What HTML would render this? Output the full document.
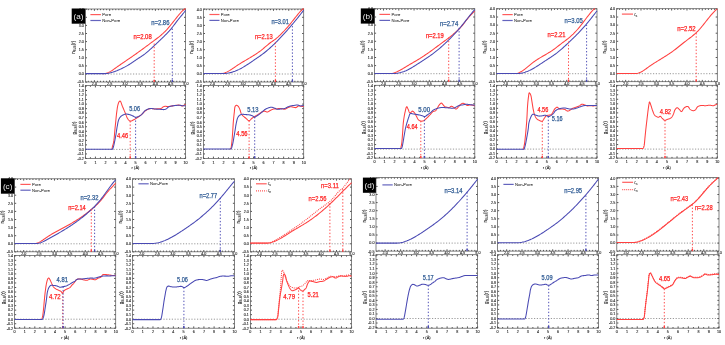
<!DOCTYPE html>
<html><head><meta charset="utf-8"><style>
html,body{margin:0;padding:0;background:#fff;}
svg{display:block;will-change:transform;}
text{font-family:"Liberation Sans", sans-serif;}
.fr{fill:none;stroke:#5a5a5a;stroke-width:0.75;}
.tk{stroke:#2a2a2a;stroke-width:0.8;fill:none;}
.zl{stroke:#555;stroke-width:0.6;stroke-dasharray:1.2 1.6;}
.tl{font-size:3.7px;fill:#2a2a2a;stroke:#2a2a2a;stroke-width:0.12;}
.al{font-size:4.6px;fill:#222;stroke:#222;stroke-width:0.12;}
.sub{font-size:2.8px;}
.xl{font-size:4.0px;fill:#222;stroke:#222;stroke-width:0.1;}
.sub2{font-size:3px;}
.pl{font-size:8.1px;fill:#ececec;}
.cv{fill:none;stroke-width:1.05;stroke-linejoin:round;}
.dot{stroke-dasharray:1 1;}
.dv{stroke-width:0.95;stroke-dasharray:1.4 1.9;}
.an{stroke-width:0.25;}
.lg{stroke-width:1.2;opacity:0.85;}
.lt{font-size:4.2px;fill:#2a2a2a;stroke:#2a2a2a;stroke-width:0.05;}
</style></head><body>
<svg width="725" height="345" viewBox="0 0 725 345">
<path d="M85.4 82.1h1.6M185.6 82.1h-1.6" class="tk"/>
<text x="83.9" y="83.4" class="tl" text-anchor="end">-0.5</text>
<path d="M85.4 74h1.6M185.6 74h-1.6" class="tk"/>
<text x="83.9" y="75.3" class="tl" text-anchor="end">0.0</text>
<path d="M85.4 65.9h1.6M185.6 65.9h-1.6" class="tk"/>
<text x="83.9" y="67.2" class="tl" text-anchor="end">0.5</text>
<path d="M85.4 57.8h1.6M185.6 57.8h-1.6" class="tk"/>
<text x="83.9" y="59.1" class="tl" text-anchor="end">1.0</text>
<path d="M85.4 49.7h1.6M185.6 49.7h-1.6" class="tk"/>
<text x="83.9" y="51" class="tl" text-anchor="end">1.5</text>
<path d="M85.4 41.6h1.6M185.6 41.6h-1.6" class="tk"/>
<text x="83.9" y="42.9" class="tl" text-anchor="end">2.0</text>
<path d="M85.4 33.5h1.6M185.6 33.5h-1.6" class="tk"/>
<text x="83.9" y="34.8" class="tl" text-anchor="end">2.5</text>
<path d="M85.4 25.4h1.6M185.6 25.4h-1.6" class="tk"/>
<text x="83.9" y="26.7" class="tl" text-anchor="end">3.0</text>
<path d="M85.4 17.3h1.6M185.6 17.3h-1.6" class="tk"/>
<text x="83.9" y="18.6" class="tl" text-anchor="end">3.5</text>
<path d="M85.4 9.2h1.6M185.6 9.2h-1.6" class="tk"/>
<text x="83.9" y="10.5" class="tl" text-anchor="end">4.0</text>
<path d="M88.32 82v-1.2M88.32 9v1.2" class="tk"/>
<path d="M91.37 82v-1.2M91.37 9v1.2" class="tk"/>
<path d="M94.42 82v-1.8M94.42 9v1.8" class="tk"/>
<path d="M97.47 82v-1.2M97.47 9v1.2" class="tk"/>
<path d="M100.52 82v-1.2M100.52 9v1.2" class="tk"/>
<path d="M103.57 82v-1.2M103.57 9v1.2" class="tk"/>
<path d="M106.62 82v-1.2M106.62 9v1.2" class="tk"/>
<path d="M109.67 82v-1.8M109.67 9v1.8" class="tk"/>
<path d="M112.72 82v-1.2M112.72 9v1.2" class="tk"/>
<path d="M115.77 82v-1.2M115.77 9v1.2" class="tk"/>
<path d="M118.82 82v-1.2M118.82 9v1.2" class="tk"/>
<path d="M121.87 82v-1.2M121.87 9v1.2" class="tk"/>
<path d="M124.92 82v-1.8M124.92 9v1.8" class="tk"/>
<path d="M127.97 82v-1.2M127.97 9v1.2" class="tk"/>
<path d="M131.02 82v-1.2M131.02 9v1.2" class="tk"/>
<path d="M134.07 82v-1.2M134.07 9v1.2" class="tk"/>
<path d="M137.12 82v-1.2M137.12 9v1.2" class="tk"/>
<path d="M140.17 82v-1.8M140.17 9v1.8" class="tk"/>
<path d="M143.22 82v-1.2M143.22 9v1.2" class="tk"/>
<path d="M146.27 82v-1.2M146.27 9v1.2" class="tk"/>
<path d="M149.32 82v-1.2M149.32 9v1.2" class="tk"/>
<path d="M152.37 82v-1.2M152.37 9v1.2" class="tk"/>
<path d="M155.42 82v-1.8M155.42 9v1.8" class="tk"/>
<path d="M158.47 82v-1.2M158.47 9v1.2" class="tk"/>
<path d="M161.52 82v-1.2M161.52 9v1.2" class="tk"/>
<path d="M164.57 82v-1.2M164.57 9v1.2" class="tk"/>
<path d="M167.62 82v-1.2M167.62 9v1.2" class="tk"/>
<path d="M170.67 82v-1.8M170.67 9v1.8" class="tk"/>
<path d="M173.72 82v-1.2M173.72 9v1.2" class="tk"/>
<path d="M176.77 82v-1.2M176.77 9v1.2" class="tk"/>
<path d="M179.82 82v-1.2M179.82 9v1.2" class="tk"/>
<path d="M182.87 82v-1.2M182.87 9v1.2" class="tk"/>
<text x="94.42" y="85" class="tl" text-anchor="middle">2.0</text>
<text x="109.67" y="85" class="tl" text-anchor="middle">2.5</text>
<text x="124.92" y="85" class="tl" text-anchor="middle">3.0</text>
<text x="140.17" y="85" class="tl" text-anchor="middle">3.5</text>
<text x="155.42" y="85" class="tl" text-anchor="middle">4.0</text>
<text x="170.67" y="85" class="tl" text-anchor="middle">4.5</text>
<text x="185.92" y="85" class="tl" text-anchor="middle">5.0</text>
<line x1="85.4" y1="74" x2="185.6" y2="74" class="zl"/>
<rect x="85.4" y="9" width="100.2" height="73" class="fr"/>
<text transform="translate(75.2,47.2) rotate(-90)" class="al" text-anchor="middle">n<tspan class="sub" dy="0.9">Si-Si</tspan><tspan dy="-0.9">(r)</tspan></text>
<path d="M85.4 158.46h1.6M185.6 158.46h-1.6" class="tk"/>
<text x="83.9" y="159.76" class="tl" text-anchor="end">-0.2</text>
<path d="M85.4 153.93h1.6M185.6 153.93h-1.6" class="tk"/>
<text x="83.9" y="155.23" class="tl" text-anchor="end">-0.1</text>
<path d="M85.4 149.4h1.6M185.6 149.4h-1.6" class="tk"/>
<text x="83.9" y="150.7" class="tl" text-anchor="end">0.0</text>
<path d="M85.4 144.87h1.6M185.6 144.87h-1.6" class="tk"/>
<text x="83.9" y="146.17" class="tl" text-anchor="end">0.1</text>
<path d="M85.4 140.34h1.6M185.6 140.34h-1.6" class="tk"/>
<text x="83.9" y="141.64" class="tl" text-anchor="end">0.2</text>
<path d="M85.4 135.81h1.6M185.6 135.81h-1.6" class="tk"/>
<text x="83.9" y="137.11" class="tl" text-anchor="end">0.3</text>
<path d="M85.4 131.28h1.6M185.6 131.28h-1.6" class="tk"/>
<text x="83.9" y="132.58" class="tl" text-anchor="end">0.4</text>
<path d="M85.4 126.75h1.6M185.6 126.75h-1.6" class="tk"/>
<text x="83.9" y="128.05" class="tl" text-anchor="end">0.5</text>
<path d="M85.4 122.22h1.6M185.6 122.22h-1.6" class="tk"/>
<text x="83.9" y="123.52" class="tl" text-anchor="end">0.6</text>
<path d="M85.4 117.69h1.6M185.6 117.69h-1.6" class="tk"/>
<text x="83.9" y="118.99" class="tl" text-anchor="end">0.7</text>
<path d="M85.4 113.16h1.6M185.6 113.16h-1.6" class="tk"/>
<text x="83.9" y="114.46" class="tl" text-anchor="end">0.8</text>
<path d="M85.4 108.63h1.6M185.6 108.63h-1.6" class="tk"/>
<text x="83.9" y="109.93" class="tl" text-anchor="end">0.9</text>
<path d="M85.4 104.1h1.6M185.6 104.1h-1.6" class="tk"/>
<text x="83.9" y="105.4" class="tl" text-anchor="end">1.0</text>
<path d="M85.4 99.57h1.6M185.6 99.57h-1.6" class="tk"/>
<text x="83.9" y="100.87" class="tl" text-anchor="end">1.1</text>
<path d="M85.4 95.04h1.6M185.6 95.04h-1.6" class="tk"/>
<text x="83.9" y="96.34" class="tl" text-anchor="end">1.2</text>
<path d="M85.4 90.51h1.6M185.6 90.51h-1.6" class="tk"/>
<text x="83.9" y="91.81" class="tl" text-anchor="end">1.3</text>
<path d="M85.4 85.98h1.6M185.6 85.98h-1.6" class="tk"/>
<text x="83.9" y="87.28" class="tl" text-anchor="end">1.4</text>
<path d="M85.4 158.4v-1.8M85.4 85.6v1.8" class="tk"/>
<text x="85.4" y="163.5" class="tl" text-anchor="middle">0</text>
<path d="M90.41 158.4v-1.2M90.41 85.6v1.2" class="tk"/>
<path d="M95.42 158.4v-1.8M95.42 85.6v1.8" class="tk"/>
<text x="95.42" y="163.5" class="tl" text-anchor="middle">1</text>
<path d="M100.43 158.4v-1.2M100.43 85.6v1.2" class="tk"/>
<path d="M105.44 158.4v-1.8M105.44 85.6v1.8" class="tk"/>
<text x="105.44" y="163.5" class="tl" text-anchor="middle">2</text>
<path d="M110.45 158.4v-1.2M110.45 85.6v1.2" class="tk"/>
<path d="M115.46 158.4v-1.8M115.46 85.6v1.8" class="tk"/>
<text x="115.46" y="163.5" class="tl" text-anchor="middle">3</text>
<path d="M120.47 158.4v-1.2M120.47 85.6v1.2" class="tk"/>
<path d="M125.48 158.4v-1.8M125.48 85.6v1.8" class="tk"/>
<text x="125.48" y="163.5" class="tl" text-anchor="middle">4</text>
<path d="M130.49 158.4v-1.2M130.49 85.6v1.2" class="tk"/>
<path d="M135.5 158.4v-1.8M135.5 85.6v1.8" class="tk"/>
<text x="135.5" y="163.5" class="tl" text-anchor="middle">5</text>
<path d="M140.51 158.4v-1.2M140.51 85.6v1.2" class="tk"/>
<path d="M145.52 158.4v-1.8M145.52 85.6v1.8" class="tk"/>
<text x="145.52" y="163.5" class="tl" text-anchor="middle">6</text>
<path d="M150.53 158.4v-1.2M150.53 85.6v1.2" class="tk"/>
<path d="M155.54 158.4v-1.8M155.54 85.6v1.8" class="tk"/>
<text x="155.54" y="163.5" class="tl" text-anchor="middle">7</text>
<path d="M160.55 158.4v-1.2M160.55 85.6v1.2" class="tk"/>
<path d="M165.56 158.4v-1.8M165.56 85.6v1.8" class="tk"/>
<text x="165.56" y="163.5" class="tl" text-anchor="middle">8</text>
<path d="M170.57 158.4v-1.2M170.57 85.6v1.2" class="tk"/>
<path d="M175.58 158.4v-1.8M175.58 85.6v1.8" class="tk"/>
<text x="175.58" y="163.5" class="tl" text-anchor="middle">9</text>
<path d="M180.59 158.4v-1.2M180.59 85.6v1.2" class="tk"/>
<path d="M185.6 158.4v-1.8M185.6 85.6v1.8" class="tk"/>
<text x="185.6" y="163.5" class="tl" text-anchor="middle">10</text>
<line x1="85.4" y1="149.4" x2="185.6" y2="149.4" class="zl"/>
<rect x="85.4" y="85.6" width="100.2" height="72.8" class="fr"/>
<text transform="translate(75.8,127.9) rotate(-90)" class="al" text-anchor="middle">g<tspan class="sub" dy="0.9">Si-Si</tspan><tspan dy="-0.9">(r)</tspan></text>
<text x="135.5" y="169" class="xl" text-anchor="middle">r (Å)</text>
<path d="M203.4 82.1h1.6M303.7 82.1h-1.6" class="tk"/>
<text x="201.9" y="83.4" class="tl" text-anchor="end">-0.5</text>
<path d="M203.4 74h1.6M303.7 74h-1.6" class="tk"/>
<text x="201.9" y="75.3" class="tl" text-anchor="end">0.0</text>
<path d="M203.4 65.9h1.6M303.7 65.9h-1.6" class="tk"/>
<text x="201.9" y="67.2" class="tl" text-anchor="end">0.5</text>
<path d="M203.4 57.8h1.6M303.7 57.8h-1.6" class="tk"/>
<text x="201.9" y="59.1" class="tl" text-anchor="end">1.0</text>
<path d="M203.4 49.7h1.6M303.7 49.7h-1.6" class="tk"/>
<text x="201.9" y="51" class="tl" text-anchor="end">1.5</text>
<path d="M203.4 41.6h1.6M303.7 41.6h-1.6" class="tk"/>
<text x="201.9" y="42.9" class="tl" text-anchor="end">2.0</text>
<path d="M203.4 33.5h1.6M303.7 33.5h-1.6" class="tk"/>
<text x="201.9" y="34.8" class="tl" text-anchor="end">2.5</text>
<path d="M203.4 25.4h1.6M303.7 25.4h-1.6" class="tk"/>
<text x="201.9" y="26.7" class="tl" text-anchor="end">3.0</text>
<path d="M203.4 17.3h1.6M303.7 17.3h-1.6" class="tk"/>
<text x="201.9" y="18.6" class="tl" text-anchor="end">3.5</text>
<path d="M203.4 9.2h1.6M303.7 9.2h-1.6" class="tk"/>
<text x="201.9" y="10.5" class="tl" text-anchor="end">4.0</text>
<path d="M206.32 82v-1.2M206.32 9v1.2" class="tk"/>
<path d="M209.37 82v-1.2M209.37 9v1.2" class="tk"/>
<path d="M212.43 82v-1.8M212.43 9v1.8" class="tk"/>
<path d="M215.48 82v-1.2M215.48 9v1.2" class="tk"/>
<path d="M218.53 82v-1.2M218.53 9v1.2" class="tk"/>
<path d="M221.59 82v-1.2M221.59 9v1.2" class="tk"/>
<path d="M224.64 82v-1.2M224.64 9v1.2" class="tk"/>
<path d="M227.69 82v-1.8M227.69 9v1.8" class="tk"/>
<path d="M230.75 82v-1.2M230.75 9v1.2" class="tk"/>
<path d="M233.8 82v-1.2M233.8 9v1.2" class="tk"/>
<path d="M236.85 82v-1.2M236.85 9v1.2" class="tk"/>
<path d="M239.91 82v-1.2M239.91 9v1.2" class="tk"/>
<path d="M242.96 82v-1.8M242.96 9v1.8" class="tk"/>
<path d="M246.01 82v-1.2M246.01 9v1.2" class="tk"/>
<path d="M249.06 82v-1.2M249.06 9v1.2" class="tk"/>
<path d="M252.12 82v-1.2M252.12 9v1.2" class="tk"/>
<path d="M255.17 82v-1.2M255.17 9v1.2" class="tk"/>
<path d="M258.22 82v-1.8M258.22 9v1.8" class="tk"/>
<path d="M261.28 82v-1.2M261.28 9v1.2" class="tk"/>
<path d="M264.33 82v-1.2M264.33 9v1.2" class="tk"/>
<path d="M267.38 82v-1.2M267.38 9v1.2" class="tk"/>
<path d="M270.44 82v-1.2M270.44 9v1.2" class="tk"/>
<path d="M273.49 82v-1.8M273.49 9v1.8" class="tk"/>
<path d="M276.54 82v-1.2M276.54 9v1.2" class="tk"/>
<path d="M279.6 82v-1.2M279.6 9v1.2" class="tk"/>
<path d="M282.65 82v-1.2M282.65 9v1.2" class="tk"/>
<path d="M285.7 82v-1.2M285.7 9v1.2" class="tk"/>
<path d="M288.76 82v-1.8M288.76 9v1.8" class="tk"/>
<path d="M291.81 82v-1.2M291.81 9v1.2" class="tk"/>
<path d="M294.86 82v-1.2M294.86 9v1.2" class="tk"/>
<path d="M297.91 82v-1.2M297.91 9v1.2" class="tk"/>
<path d="M300.97 82v-1.2M300.97 9v1.2" class="tk"/>
<text x="212.43" y="85" class="tl" text-anchor="middle">2.0</text>
<text x="227.69" y="85" class="tl" text-anchor="middle">2.5</text>
<text x="242.96" y="85" class="tl" text-anchor="middle">3.0</text>
<text x="258.22" y="85" class="tl" text-anchor="middle">3.5</text>
<text x="273.49" y="85" class="tl" text-anchor="middle">4.0</text>
<text x="288.76" y="85" class="tl" text-anchor="middle">4.5</text>
<text x="304.02" y="85" class="tl" text-anchor="middle">5.0</text>
<line x1="203.4" y1="74" x2="303.7" y2="74" class="zl"/>
<rect x="203.4" y="9" width="100.3" height="73" class="fr"/>
<text transform="translate(193.2,47.2) rotate(-90)" class="al" text-anchor="middle">n<tspan class="sub" dy="0.9">Si-Si</tspan><tspan dy="-0.9">(r)</tspan></text>
<path d="M203.4 158.46h1.6M303.7 158.46h-1.6" class="tk"/>
<text x="201.9" y="159.76" class="tl" text-anchor="end">-0.2</text>
<path d="M203.4 153.93h1.6M303.7 153.93h-1.6" class="tk"/>
<text x="201.9" y="155.23" class="tl" text-anchor="end">-0.1</text>
<path d="M203.4 149.4h1.6M303.7 149.4h-1.6" class="tk"/>
<text x="201.9" y="150.7" class="tl" text-anchor="end">0.0</text>
<path d="M203.4 144.87h1.6M303.7 144.87h-1.6" class="tk"/>
<text x="201.9" y="146.17" class="tl" text-anchor="end">0.1</text>
<path d="M203.4 140.34h1.6M303.7 140.34h-1.6" class="tk"/>
<text x="201.9" y="141.64" class="tl" text-anchor="end">0.2</text>
<path d="M203.4 135.81h1.6M303.7 135.81h-1.6" class="tk"/>
<text x="201.9" y="137.11" class="tl" text-anchor="end">0.3</text>
<path d="M203.4 131.28h1.6M303.7 131.28h-1.6" class="tk"/>
<text x="201.9" y="132.58" class="tl" text-anchor="end">0.4</text>
<path d="M203.4 126.75h1.6M303.7 126.75h-1.6" class="tk"/>
<text x="201.9" y="128.05" class="tl" text-anchor="end">0.5</text>
<path d="M203.4 122.22h1.6M303.7 122.22h-1.6" class="tk"/>
<text x="201.9" y="123.52" class="tl" text-anchor="end">0.6</text>
<path d="M203.4 117.69h1.6M303.7 117.69h-1.6" class="tk"/>
<text x="201.9" y="118.99" class="tl" text-anchor="end">0.7</text>
<path d="M203.4 113.16h1.6M303.7 113.16h-1.6" class="tk"/>
<text x="201.9" y="114.46" class="tl" text-anchor="end">0.8</text>
<path d="M203.4 108.63h1.6M303.7 108.63h-1.6" class="tk"/>
<text x="201.9" y="109.93" class="tl" text-anchor="end">0.9</text>
<path d="M203.4 104.1h1.6M303.7 104.1h-1.6" class="tk"/>
<text x="201.9" y="105.4" class="tl" text-anchor="end">1.0</text>
<path d="M203.4 99.57h1.6M303.7 99.57h-1.6" class="tk"/>
<text x="201.9" y="100.87" class="tl" text-anchor="end">1.1</text>
<path d="M203.4 95.04h1.6M303.7 95.04h-1.6" class="tk"/>
<text x="201.9" y="96.34" class="tl" text-anchor="end">1.2</text>
<path d="M203.4 90.51h1.6M303.7 90.51h-1.6" class="tk"/>
<text x="201.9" y="91.81" class="tl" text-anchor="end">1.3</text>
<path d="M203.4 85.98h1.6M303.7 85.98h-1.6" class="tk"/>
<text x="201.9" y="87.28" class="tl" text-anchor="end">1.4</text>
<path d="M203.4 158.4v-1.8M203.4 85.6v1.8" class="tk"/>
<text x="203.4" y="163.5" class="tl" text-anchor="middle">0</text>
<path d="M208.41 158.4v-1.2M208.41 85.6v1.2" class="tk"/>
<path d="M213.43 158.4v-1.8M213.43 85.6v1.8" class="tk"/>
<text x="213.43" y="163.5" class="tl" text-anchor="middle">1</text>
<path d="M218.44 158.4v-1.2M218.44 85.6v1.2" class="tk"/>
<path d="M223.46 158.4v-1.8M223.46 85.6v1.8" class="tk"/>
<text x="223.46" y="163.5" class="tl" text-anchor="middle">2</text>
<path d="M228.47 158.4v-1.2M228.47 85.6v1.2" class="tk"/>
<path d="M233.49 158.4v-1.8M233.49 85.6v1.8" class="tk"/>
<text x="233.49" y="163.5" class="tl" text-anchor="middle">3</text>
<path d="M238.5 158.4v-1.2M238.5 85.6v1.2" class="tk"/>
<path d="M243.52 158.4v-1.8M243.52 85.6v1.8" class="tk"/>
<text x="243.52" y="163.5" class="tl" text-anchor="middle">4</text>
<path d="M248.53 158.4v-1.2M248.53 85.6v1.2" class="tk"/>
<path d="M253.55 158.4v-1.8M253.55 85.6v1.8" class="tk"/>
<text x="253.55" y="163.5" class="tl" text-anchor="middle">5</text>
<path d="M258.56 158.4v-1.2M258.56 85.6v1.2" class="tk"/>
<path d="M263.58 158.4v-1.8M263.58 85.6v1.8" class="tk"/>
<text x="263.58" y="163.5" class="tl" text-anchor="middle">6</text>
<path d="M268.6 158.4v-1.2M268.6 85.6v1.2" class="tk"/>
<path d="M273.61 158.4v-1.8M273.61 85.6v1.8" class="tk"/>
<text x="273.61" y="163.5" class="tl" text-anchor="middle">7</text>
<path d="M278.62 158.4v-1.2M278.62 85.6v1.2" class="tk"/>
<path d="M283.64 158.4v-1.8M283.64 85.6v1.8" class="tk"/>
<text x="283.64" y="163.5" class="tl" text-anchor="middle">8</text>
<path d="M288.65 158.4v-1.2M288.65 85.6v1.2" class="tk"/>
<path d="M293.67 158.4v-1.8M293.67 85.6v1.8" class="tk"/>
<text x="293.67" y="163.5" class="tl" text-anchor="middle">9</text>
<path d="M298.69 158.4v-1.2M298.69 85.6v1.2" class="tk"/>
<path d="M303.7 158.4v-1.8M303.7 85.6v1.8" class="tk"/>
<text x="303.7" y="163.5" class="tl" text-anchor="middle">10</text>
<line x1="203.4" y1="149.4" x2="303.7" y2="149.4" class="zl"/>
<rect x="203.4" y="85.6" width="100.3" height="72.8" class="fr"/>
<text transform="translate(193.8,127.9) rotate(-90)" class="al" text-anchor="middle">g<tspan class="sub" dy="0.9">Si-Si</tspan><tspan dy="-0.9">(r)</tspan></text>
<text x="253.55" y="169" class="xl" text-anchor="middle">r (Å)</text>
<path d="M374.5 81.8h1.6M474.8 81.8h-1.6" class="tk"/>
<text x="373" y="83.1" class="tl" text-anchor="end">-0.5</text>
<path d="M374.5 73.7h1.6M474.8 73.7h-1.6" class="tk"/>
<text x="373" y="75" class="tl" text-anchor="end">0.0</text>
<path d="M374.5 65.6h1.6M474.8 65.6h-1.6" class="tk"/>
<text x="373" y="66.9" class="tl" text-anchor="end">0.5</text>
<path d="M374.5 57.5h1.6M474.8 57.5h-1.6" class="tk"/>
<text x="373" y="58.8" class="tl" text-anchor="end">1.0</text>
<path d="M374.5 49.4h1.6M474.8 49.4h-1.6" class="tk"/>
<text x="373" y="50.7" class="tl" text-anchor="end">1.5</text>
<path d="M374.5 41.3h1.6M474.8 41.3h-1.6" class="tk"/>
<text x="373" y="42.6" class="tl" text-anchor="end">2.0</text>
<path d="M374.5 33.2h1.6M474.8 33.2h-1.6" class="tk"/>
<text x="373" y="34.5" class="tl" text-anchor="end">2.5</text>
<path d="M374.5 25.1h1.6M474.8 25.1h-1.6" class="tk"/>
<text x="373" y="26.4" class="tl" text-anchor="end">3.0</text>
<path d="M374.5 17h1.6M474.8 17h-1.6" class="tk"/>
<text x="373" y="18.3" class="tl" text-anchor="end">3.5</text>
<path d="M374.5 8.9h1.6M474.8 8.9h-1.6" class="tk"/>
<text x="373" y="10.2" class="tl" text-anchor="end">4.0</text>
<path d="M377.42 81.7v-1.2M377.42 8.7v1.2" class="tk"/>
<path d="M380.47 81.7v-1.2M380.47 8.7v1.2" class="tk"/>
<path d="M383.53 81.7v-1.8M383.53 8.7v1.8" class="tk"/>
<path d="M386.58 81.7v-1.2M386.58 8.7v1.2" class="tk"/>
<path d="M389.63 81.7v-1.2M389.63 8.7v1.2" class="tk"/>
<path d="M392.69 81.7v-1.2M392.69 8.7v1.2" class="tk"/>
<path d="M395.74 81.7v-1.2M395.74 8.7v1.2" class="tk"/>
<path d="M398.79 81.7v-1.8M398.79 8.7v1.8" class="tk"/>
<path d="M401.85 81.7v-1.2M401.85 8.7v1.2" class="tk"/>
<path d="M404.9 81.7v-1.2M404.9 8.7v1.2" class="tk"/>
<path d="M407.95 81.7v-1.2M407.95 8.7v1.2" class="tk"/>
<path d="M411.01 81.7v-1.2M411.01 8.7v1.2" class="tk"/>
<path d="M414.06 81.7v-1.8M414.06 8.7v1.8" class="tk"/>
<path d="M417.11 81.7v-1.2M417.11 8.7v1.2" class="tk"/>
<path d="M420.16 81.7v-1.2M420.16 8.7v1.2" class="tk"/>
<path d="M423.22 81.7v-1.2M423.22 8.7v1.2" class="tk"/>
<path d="M426.27 81.7v-1.2M426.27 8.7v1.2" class="tk"/>
<path d="M429.32 81.7v-1.8M429.32 8.7v1.8" class="tk"/>
<path d="M432.38 81.7v-1.2M432.38 8.7v1.2" class="tk"/>
<path d="M435.43 81.7v-1.2M435.43 8.7v1.2" class="tk"/>
<path d="M438.48 81.7v-1.2M438.48 8.7v1.2" class="tk"/>
<path d="M441.54 81.7v-1.2M441.54 8.7v1.2" class="tk"/>
<path d="M444.59 81.7v-1.8M444.59 8.7v1.8" class="tk"/>
<path d="M447.64 81.7v-1.2M447.64 8.7v1.2" class="tk"/>
<path d="M450.7 81.7v-1.2M450.7 8.7v1.2" class="tk"/>
<path d="M453.75 81.7v-1.2M453.75 8.7v1.2" class="tk"/>
<path d="M456.8 81.7v-1.2M456.8 8.7v1.2" class="tk"/>
<path d="M459.86 81.7v-1.8M459.86 8.7v1.8" class="tk"/>
<path d="M462.91 81.7v-1.2M462.91 8.7v1.2" class="tk"/>
<path d="M465.96 81.7v-1.2M465.96 8.7v1.2" class="tk"/>
<path d="M469.01 81.7v-1.2M469.01 8.7v1.2" class="tk"/>
<path d="M472.07 81.7v-1.2M472.07 8.7v1.2" class="tk"/>
<text x="383.53" y="84.7" class="tl" text-anchor="middle">2.0</text>
<text x="398.79" y="84.7" class="tl" text-anchor="middle">2.5</text>
<text x="414.06" y="84.7" class="tl" text-anchor="middle">3.0</text>
<text x="429.32" y="84.7" class="tl" text-anchor="middle">3.5</text>
<text x="444.59" y="84.7" class="tl" text-anchor="middle">4.0</text>
<text x="459.86" y="84.7" class="tl" text-anchor="middle">4.5</text>
<text x="475.12" y="84.7" class="tl" text-anchor="middle">5.0</text>
<line x1="374.5" y1="73.7" x2="474.8" y2="73.7" class="zl"/>
<rect x="374.5" y="8.7" width="100.3" height="73" class="fr"/>
<text transform="translate(364.3,46.9) rotate(-90)" class="al" text-anchor="middle">n<tspan class="sub" dy="0.9">Si-Si</tspan><tspan dy="-0.9">(r)</tspan></text>
<path d="M374.5 158.16h1.6M474.8 158.16h-1.6" class="tk"/>
<text x="373" y="159.46" class="tl" text-anchor="end">-0.2</text>
<path d="M374.5 153.63h1.6M474.8 153.63h-1.6" class="tk"/>
<text x="373" y="154.93" class="tl" text-anchor="end">-0.1</text>
<path d="M374.5 149.1h1.6M474.8 149.1h-1.6" class="tk"/>
<text x="373" y="150.4" class="tl" text-anchor="end">0.0</text>
<path d="M374.5 144.57h1.6M474.8 144.57h-1.6" class="tk"/>
<text x="373" y="145.87" class="tl" text-anchor="end">0.1</text>
<path d="M374.5 140.04h1.6M474.8 140.04h-1.6" class="tk"/>
<text x="373" y="141.34" class="tl" text-anchor="end">0.2</text>
<path d="M374.5 135.51h1.6M474.8 135.51h-1.6" class="tk"/>
<text x="373" y="136.81" class="tl" text-anchor="end">0.3</text>
<path d="M374.5 130.98h1.6M474.8 130.98h-1.6" class="tk"/>
<text x="373" y="132.28" class="tl" text-anchor="end">0.4</text>
<path d="M374.5 126.45h1.6M474.8 126.45h-1.6" class="tk"/>
<text x="373" y="127.75" class="tl" text-anchor="end">0.5</text>
<path d="M374.5 121.92h1.6M474.8 121.92h-1.6" class="tk"/>
<text x="373" y="123.22" class="tl" text-anchor="end">0.6</text>
<path d="M374.5 117.39h1.6M474.8 117.39h-1.6" class="tk"/>
<text x="373" y="118.69" class="tl" text-anchor="end">0.7</text>
<path d="M374.5 112.86h1.6M474.8 112.86h-1.6" class="tk"/>
<text x="373" y="114.16" class="tl" text-anchor="end">0.8</text>
<path d="M374.5 108.33h1.6M474.8 108.33h-1.6" class="tk"/>
<text x="373" y="109.63" class="tl" text-anchor="end">0.9</text>
<path d="M374.5 103.8h1.6M474.8 103.8h-1.6" class="tk"/>
<text x="373" y="105.1" class="tl" text-anchor="end">1.0</text>
<path d="M374.5 99.27h1.6M474.8 99.27h-1.6" class="tk"/>
<text x="373" y="100.57" class="tl" text-anchor="end">1.1</text>
<path d="M374.5 94.74h1.6M474.8 94.74h-1.6" class="tk"/>
<text x="373" y="96.04" class="tl" text-anchor="end">1.2</text>
<path d="M374.5 90.21h1.6M474.8 90.21h-1.6" class="tk"/>
<text x="373" y="91.51" class="tl" text-anchor="end">1.3</text>
<path d="M374.5 85.68h1.6M474.8 85.68h-1.6" class="tk"/>
<text x="373" y="86.98" class="tl" text-anchor="end">1.4</text>
<path d="M374.5 158.1v-1.8M374.5 85.3v1.8" class="tk"/>
<text x="374.5" y="163.2" class="tl" text-anchor="middle">0</text>
<path d="M379.51 158.1v-1.2M379.51 85.3v1.2" class="tk"/>
<path d="M384.53 158.1v-1.8M384.53 85.3v1.8" class="tk"/>
<text x="384.53" y="163.2" class="tl" text-anchor="middle">1</text>
<path d="M389.55 158.1v-1.2M389.55 85.3v1.2" class="tk"/>
<path d="M394.56 158.1v-1.8M394.56 85.3v1.8" class="tk"/>
<text x="394.56" y="163.2" class="tl" text-anchor="middle">2</text>
<path d="M399.57 158.1v-1.2M399.57 85.3v1.2" class="tk"/>
<path d="M404.59 158.1v-1.8M404.59 85.3v1.8" class="tk"/>
<text x="404.59" y="163.2" class="tl" text-anchor="middle">3</text>
<path d="M409.61 158.1v-1.2M409.61 85.3v1.2" class="tk"/>
<path d="M414.62 158.1v-1.8M414.62 85.3v1.8" class="tk"/>
<text x="414.62" y="163.2" class="tl" text-anchor="middle">4</text>
<path d="M419.63 158.1v-1.2M419.63 85.3v1.2" class="tk"/>
<path d="M424.65 158.1v-1.8M424.65 85.3v1.8" class="tk"/>
<text x="424.65" y="163.2" class="tl" text-anchor="middle">5</text>
<path d="M429.67 158.1v-1.2M429.67 85.3v1.2" class="tk"/>
<path d="M434.68 158.1v-1.8M434.68 85.3v1.8" class="tk"/>
<text x="434.68" y="163.2" class="tl" text-anchor="middle">6</text>
<path d="M439.69 158.1v-1.2M439.69 85.3v1.2" class="tk"/>
<path d="M444.71 158.1v-1.8M444.71 85.3v1.8" class="tk"/>
<text x="444.71" y="163.2" class="tl" text-anchor="middle">7</text>
<path d="M449.73 158.1v-1.2M449.73 85.3v1.2" class="tk"/>
<path d="M454.74 158.1v-1.8M454.74 85.3v1.8" class="tk"/>
<text x="454.74" y="163.2" class="tl" text-anchor="middle">8</text>
<path d="M459.75 158.1v-1.2M459.75 85.3v1.2" class="tk"/>
<path d="M464.77 158.1v-1.8M464.77 85.3v1.8" class="tk"/>
<text x="464.77" y="163.2" class="tl" text-anchor="middle">9</text>
<path d="M469.79 158.1v-1.2M469.79 85.3v1.2" class="tk"/>
<path d="M474.8 158.1v-1.8M474.8 85.3v1.8" class="tk"/>
<text x="474.8" y="163.2" class="tl" text-anchor="middle">10</text>
<line x1="374.5" y1="149.1" x2="474.8" y2="149.1" class="zl"/>
<rect x="374.5" y="85.3" width="100.3" height="72.8" class="fr"/>
<text transform="translate(364.9,127.6) rotate(-90)" class="al" text-anchor="middle">g<tspan class="sub" dy="0.9">Si-Si</tspan><tspan dy="-0.9">(r)</tspan></text>
<text x="424.65" y="168.7" class="xl" text-anchor="middle">r (Å)</text>
<path d="M496.5 81.8h1.6M597 81.8h-1.6" class="tk"/>
<text x="495" y="83.1" class="tl" text-anchor="end">-0.5</text>
<path d="M496.5 73.7h1.6M597 73.7h-1.6" class="tk"/>
<text x="495" y="75" class="tl" text-anchor="end">0.0</text>
<path d="M496.5 65.6h1.6M597 65.6h-1.6" class="tk"/>
<text x="495" y="66.9" class="tl" text-anchor="end">0.5</text>
<path d="M496.5 57.5h1.6M597 57.5h-1.6" class="tk"/>
<text x="495" y="58.8" class="tl" text-anchor="end">1.0</text>
<path d="M496.5 49.4h1.6M597 49.4h-1.6" class="tk"/>
<text x="495" y="50.7" class="tl" text-anchor="end">1.5</text>
<path d="M496.5 41.3h1.6M597 41.3h-1.6" class="tk"/>
<text x="495" y="42.6" class="tl" text-anchor="end">2.0</text>
<path d="M496.5 33.2h1.6M597 33.2h-1.6" class="tk"/>
<text x="495" y="34.5" class="tl" text-anchor="end">2.5</text>
<path d="M496.5 25.1h1.6M597 25.1h-1.6" class="tk"/>
<text x="495" y="26.4" class="tl" text-anchor="end">3.0</text>
<path d="M496.5 17h1.6M597 17h-1.6" class="tk"/>
<text x="495" y="18.3" class="tl" text-anchor="end">3.5</text>
<path d="M496.5 8.9h1.6M597 8.9h-1.6" class="tk"/>
<text x="495" y="10.2" class="tl" text-anchor="end">4.0</text>
<path d="M499.43 81.7v-1.2M499.43 8.7v1.2" class="tk"/>
<path d="M502.49 81.7v-1.2M502.49 8.7v1.2" class="tk"/>
<path d="M505.55 81.7v-1.8M505.55 8.7v1.8" class="tk"/>
<path d="M508.6 81.7v-1.2M508.6 8.7v1.2" class="tk"/>
<path d="M511.66 81.7v-1.2M511.66 8.7v1.2" class="tk"/>
<path d="M514.72 81.7v-1.2M514.72 8.7v1.2" class="tk"/>
<path d="M517.78 81.7v-1.2M517.78 8.7v1.2" class="tk"/>
<path d="M520.84 81.7v-1.8M520.84 8.7v1.8" class="tk"/>
<path d="M523.9 81.7v-1.2M523.9 8.7v1.2" class="tk"/>
<path d="M526.96 81.7v-1.2M526.96 8.7v1.2" class="tk"/>
<path d="M530.02 81.7v-1.2M530.02 8.7v1.2" class="tk"/>
<path d="M533.08 81.7v-1.2M533.08 8.7v1.2" class="tk"/>
<path d="M536.14 81.7v-1.8M536.14 8.7v1.8" class="tk"/>
<path d="M539.2 81.7v-1.2M539.2 8.7v1.2" class="tk"/>
<path d="M542.26 81.7v-1.2M542.26 8.7v1.2" class="tk"/>
<path d="M545.31 81.7v-1.2M545.31 8.7v1.2" class="tk"/>
<path d="M548.37 81.7v-1.2M548.37 8.7v1.2" class="tk"/>
<path d="M551.43 81.7v-1.8M551.43 8.7v1.8" class="tk"/>
<path d="M554.49 81.7v-1.2M554.49 8.7v1.2" class="tk"/>
<path d="M557.55 81.7v-1.2M557.55 8.7v1.2" class="tk"/>
<path d="M560.61 81.7v-1.2M560.61 8.7v1.2" class="tk"/>
<path d="M563.67 81.7v-1.2M563.67 8.7v1.2" class="tk"/>
<path d="M566.73 81.7v-1.8M566.73 8.7v1.8" class="tk"/>
<path d="M569.79 81.7v-1.2M569.79 8.7v1.2" class="tk"/>
<path d="M572.85 81.7v-1.2M572.85 8.7v1.2" class="tk"/>
<path d="M575.91 81.7v-1.2M575.91 8.7v1.2" class="tk"/>
<path d="M578.97 81.7v-1.2M578.97 8.7v1.2" class="tk"/>
<path d="M582.03 81.7v-1.8M582.03 8.7v1.8" class="tk"/>
<path d="M585.08 81.7v-1.2M585.08 8.7v1.2" class="tk"/>
<path d="M588.14 81.7v-1.2M588.14 8.7v1.2" class="tk"/>
<path d="M591.2 81.7v-1.2M591.2 8.7v1.2" class="tk"/>
<path d="M594.26 81.7v-1.2M594.26 8.7v1.2" class="tk"/>
<text x="505.55" y="84.7" class="tl" text-anchor="middle">2.0</text>
<text x="520.84" y="84.7" class="tl" text-anchor="middle">2.5</text>
<text x="536.14" y="84.7" class="tl" text-anchor="middle">3.0</text>
<text x="551.43" y="84.7" class="tl" text-anchor="middle">3.5</text>
<text x="566.73" y="84.7" class="tl" text-anchor="middle">4.0</text>
<text x="582.03" y="84.7" class="tl" text-anchor="middle">4.5</text>
<text x="597.32" y="84.7" class="tl" text-anchor="middle">5.0</text>
<line x1="496.5" y1="73.7" x2="597" y2="73.7" class="zl"/>
<rect x="496.5" y="8.7" width="100.5" height="73" class="fr"/>
<text transform="translate(486.3,46.9) rotate(-90)" class="al" text-anchor="middle">n<tspan class="sub" dy="0.9">Si-Si</tspan><tspan dy="-0.9">(r)</tspan></text>
<path d="M496.5 158.16h1.6M597 158.16h-1.6" class="tk"/>
<text x="495" y="159.46" class="tl" text-anchor="end">-0.2</text>
<path d="M496.5 153.63h1.6M597 153.63h-1.6" class="tk"/>
<text x="495" y="154.93" class="tl" text-anchor="end">-0.1</text>
<path d="M496.5 149.1h1.6M597 149.1h-1.6" class="tk"/>
<text x="495" y="150.4" class="tl" text-anchor="end">0.0</text>
<path d="M496.5 144.57h1.6M597 144.57h-1.6" class="tk"/>
<text x="495" y="145.87" class="tl" text-anchor="end">0.1</text>
<path d="M496.5 140.04h1.6M597 140.04h-1.6" class="tk"/>
<text x="495" y="141.34" class="tl" text-anchor="end">0.2</text>
<path d="M496.5 135.51h1.6M597 135.51h-1.6" class="tk"/>
<text x="495" y="136.81" class="tl" text-anchor="end">0.3</text>
<path d="M496.5 130.98h1.6M597 130.98h-1.6" class="tk"/>
<text x="495" y="132.28" class="tl" text-anchor="end">0.4</text>
<path d="M496.5 126.45h1.6M597 126.45h-1.6" class="tk"/>
<text x="495" y="127.75" class="tl" text-anchor="end">0.5</text>
<path d="M496.5 121.92h1.6M597 121.92h-1.6" class="tk"/>
<text x="495" y="123.22" class="tl" text-anchor="end">0.6</text>
<path d="M496.5 117.39h1.6M597 117.39h-1.6" class="tk"/>
<text x="495" y="118.69" class="tl" text-anchor="end">0.7</text>
<path d="M496.5 112.86h1.6M597 112.86h-1.6" class="tk"/>
<text x="495" y="114.16" class="tl" text-anchor="end">0.8</text>
<path d="M496.5 108.33h1.6M597 108.33h-1.6" class="tk"/>
<text x="495" y="109.63" class="tl" text-anchor="end">0.9</text>
<path d="M496.5 103.8h1.6M597 103.8h-1.6" class="tk"/>
<text x="495" y="105.1" class="tl" text-anchor="end">1.0</text>
<path d="M496.5 99.27h1.6M597 99.27h-1.6" class="tk"/>
<text x="495" y="100.57" class="tl" text-anchor="end">1.1</text>
<path d="M496.5 94.74h1.6M597 94.74h-1.6" class="tk"/>
<text x="495" y="96.04" class="tl" text-anchor="end">1.2</text>
<path d="M496.5 90.21h1.6M597 90.21h-1.6" class="tk"/>
<text x="495" y="91.51" class="tl" text-anchor="end">1.3</text>
<path d="M496.5 85.68h1.6M597 85.68h-1.6" class="tk"/>
<text x="495" y="86.98" class="tl" text-anchor="end">1.4</text>
<path d="M496.5 158.1v-1.8M496.5 85.3v1.8" class="tk"/>
<text x="496.5" y="163.2" class="tl" text-anchor="middle">0</text>
<path d="M501.52 158.1v-1.2M501.52 85.3v1.2" class="tk"/>
<path d="M506.55 158.1v-1.8M506.55 85.3v1.8" class="tk"/>
<text x="506.55" y="163.2" class="tl" text-anchor="middle">1</text>
<path d="M511.57 158.1v-1.2M511.57 85.3v1.2" class="tk"/>
<path d="M516.6 158.1v-1.8M516.6 85.3v1.8" class="tk"/>
<text x="516.6" y="163.2" class="tl" text-anchor="middle">2</text>
<path d="M521.62 158.1v-1.2M521.62 85.3v1.2" class="tk"/>
<path d="M526.65 158.1v-1.8M526.65 85.3v1.8" class="tk"/>
<text x="526.65" y="163.2" class="tl" text-anchor="middle">3</text>
<path d="M531.67 158.1v-1.2M531.67 85.3v1.2" class="tk"/>
<path d="M536.7 158.1v-1.8M536.7 85.3v1.8" class="tk"/>
<text x="536.7" y="163.2" class="tl" text-anchor="middle">4</text>
<path d="M541.73 158.1v-1.2M541.73 85.3v1.2" class="tk"/>
<path d="M546.75 158.1v-1.8M546.75 85.3v1.8" class="tk"/>
<text x="546.75" y="163.2" class="tl" text-anchor="middle">5</text>
<path d="M551.77 158.1v-1.2M551.77 85.3v1.2" class="tk"/>
<path d="M556.8 158.1v-1.8M556.8 85.3v1.8" class="tk"/>
<text x="556.8" y="163.2" class="tl" text-anchor="middle">6</text>
<path d="M561.83 158.1v-1.2M561.83 85.3v1.2" class="tk"/>
<path d="M566.85 158.1v-1.8M566.85 85.3v1.8" class="tk"/>
<text x="566.85" y="163.2" class="tl" text-anchor="middle">7</text>
<path d="M571.88 158.1v-1.2M571.88 85.3v1.2" class="tk"/>
<path d="M576.9 158.1v-1.8M576.9 85.3v1.8" class="tk"/>
<text x="576.9" y="163.2" class="tl" text-anchor="middle">8</text>
<path d="M581.92 158.1v-1.2M581.92 85.3v1.2" class="tk"/>
<path d="M586.95 158.1v-1.8M586.95 85.3v1.8" class="tk"/>
<text x="586.95" y="163.2" class="tl" text-anchor="middle">9</text>
<path d="M591.98 158.1v-1.2M591.98 85.3v1.2" class="tk"/>
<path d="M597 158.1v-1.8M597 85.3v1.8" class="tk"/>
<text x="597" y="163.2" class="tl" text-anchor="middle">10</text>
<line x1="496.5" y1="149.1" x2="597" y2="149.1" class="zl"/>
<rect x="496.5" y="85.3" width="100.5" height="72.8" class="fr"/>
<text transform="translate(486.9,127.6) rotate(-90)" class="al" text-anchor="middle">g<tspan class="sub" dy="0.9">Si-Si</tspan><tspan dy="-0.9">(r)</tspan></text>
<text x="546.75" y="168.7" class="xl" text-anchor="middle">r (Å)</text>
<path d="M616.6 81.8h1.6M717.3 81.8h-1.6" class="tk"/>
<text x="615.1" y="83.1" class="tl" text-anchor="end">-0.5</text>
<path d="M616.6 73.7h1.6M717.3 73.7h-1.6" class="tk"/>
<text x="615.1" y="75" class="tl" text-anchor="end">0.0</text>
<path d="M616.6 65.6h1.6M717.3 65.6h-1.6" class="tk"/>
<text x="615.1" y="66.9" class="tl" text-anchor="end">0.5</text>
<path d="M616.6 57.5h1.6M717.3 57.5h-1.6" class="tk"/>
<text x="615.1" y="58.8" class="tl" text-anchor="end">1.0</text>
<path d="M616.6 49.4h1.6M717.3 49.4h-1.6" class="tk"/>
<text x="615.1" y="50.7" class="tl" text-anchor="end">1.5</text>
<path d="M616.6 41.3h1.6M717.3 41.3h-1.6" class="tk"/>
<text x="615.1" y="42.6" class="tl" text-anchor="end">2.0</text>
<path d="M616.6 33.2h1.6M717.3 33.2h-1.6" class="tk"/>
<text x="615.1" y="34.5" class="tl" text-anchor="end">2.5</text>
<path d="M616.6 25.1h1.6M717.3 25.1h-1.6" class="tk"/>
<text x="615.1" y="26.4" class="tl" text-anchor="end">3.0</text>
<path d="M616.6 17h1.6M717.3 17h-1.6" class="tk"/>
<text x="615.1" y="18.3" class="tl" text-anchor="end">3.5</text>
<path d="M616.6 8.9h1.6M717.3 8.9h-1.6" class="tk"/>
<text x="615.1" y="10.2" class="tl" text-anchor="end">4.0</text>
<path d="M619.53 81.7v-1.2M619.53 8.7v1.2" class="tk"/>
<path d="M622.6 81.7v-1.2M622.6 8.7v1.2" class="tk"/>
<path d="M625.66 81.7v-1.8M625.66 8.7v1.8" class="tk"/>
<path d="M628.73 81.7v-1.2M628.73 8.7v1.2" class="tk"/>
<path d="M631.79 81.7v-1.2M631.79 8.7v1.2" class="tk"/>
<path d="M634.86 81.7v-1.2M634.86 8.7v1.2" class="tk"/>
<path d="M637.92 81.7v-1.2M637.92 8.7v1.2" class="tk"/>
<path d="M640.99 81.7v-1.8M640.99 8.7v1.8" class="tk"/>
<path d="M644.05 81.7v-1.2M644.05 8.7v1.2" class="tk"/>
<path d="M647.12 81.7v-1.2M647.12 8.7v1.2" class="tk"/>
<path d="M650.19 81.7v-1.2M650.19 8.7v1.2" class="tk"/>
<path d="M653.25 81.7v-1.2M653.25 8.7v1.2" class="tk"/>
<path d="M656.32 81.7v-1.8M656.32 8.7v1.8" class="tk"/>
<path d="M659.38 81.7v-1.2M659.38 8.7v1.2" class="tk"/>
<path d="M662.45 81.7v-1.2M662.45 8.7v1.2" class="tk"/>
<path d="M665.51 81.7v-1.2M665.51 8.7v1.2" class="tk"/>
<path d="M668.58 81.7v-1.2M668.58 8.7v1.2" class="tk"/>
<path d="M671.64 81.7v-1.8M671.64 8.7v1.8" class="tk"/>
<path d="M674.71 81.7v-1.2M674.71 8.7v1.2" class="tk"/>
<path d="M677.77 81.7v-1.2M677.77 8.7v1.2" class="tk"/>
<path d="M680.84 81.7v-1.2M680.84 8.7v1.2" class="tk"/>
<path d="M683.9 81.7v-1.2M683.9 8.7v1.2" class="tk"/>
<path d="M686.97 81.7v-1.8M686.97 8.7v1.8" class="tk"/>
<path d="M690.03 81.7v-1.2M690.03 8.7v1.2" class="tk"/>
<path d="M693.1 81.7v-1.2M693.1 8.7v1.2" class="tk"/>
<path d="M696.17 81.7v-1.2M696.17 8.7v1.2" class="tk"/>
<path d="M699.23 81.7v-1.2M699.23 8.7v1.2" class="tk"/>
<path d="M702.3 81.7v-1.8M702.3 8.7v1.8" class="tk"/>
<path d="M705.36 81.7v-1.2M705.36 8.7v1.2" class="tk"/>
<path d="M708.43 81.7v-1.2M708.43 8.7v1.2" class="tk"/>
<path d="M711.49 81.7v-1.2M711.49 8.7v1.2" class="tk"/>
<path d="M714.56 81.7v-1.2M714.56 8.7v1.2" class="tk"/>
<text x="625.66" y="84.7" class="tl" text-anchor="middle">2.0</text>
<text x="640.99" y="84.7" class="tl" text-anchor="middle">2.5</text>
<text x="656.32" y="84.7" class="tl" text-anchor="middle">3.0</text>
<text x="671.64" y="84.7" class="tl" text-anchor="middle">3.5</text>
<text x="686.97" y="84.7" class="tl" text-anchor="middle">4.0</text>
<text x="702.3" y="84.7" class="tl" text-anchor="middle">4.5</text>
<text x="717.62" y="84.7" class="tl" text-anchor="middle">5.0</text>
<line x1="616.6" y1="73.7" x2="717.3" y2="73.7" class="zl"/>
<rect x="616.6" y="8.7" width="100.7" height="73" class="fr"/>
<text transform="translate(606.4,46.9) rotate(-90)" class="al" text-anchor="middle">n<tspan class="sub" dy="0.9">Si-Si</tspan><tspan dy="-0.9">(r)</tspan></text>
<path d="M616.6 158.16h1.6M717.3 158.16h-1.6" class="tk"/>
<text x="615.1" y="159.46" class="tl" text-anchor="end">-0.2</text>
<path d="M616.6 153.63h1.6M717.3 153.63h-1.6" class="tk"/>
<text x="615.1" y="154.93" class="tl" text-anchor="end">-0.1</text>
<path d="M616.6 149.1h1.6M717.3 149.1h-1.6" class="tk"/>
<text x="615.1" y="150.4" class="tl" text-anchor="end">0.0</text>
<path d="M616.6 144.57h1.6M717.3 144.57h-1.6" class="tk"/>
<text x="615.1" y="145.87" class="tl" text-anchor="end">0.1</text>
<path d="M616.6 140.04h1.6M717.3 140.04h-1.6" class="tk"/>
<text x="615.1" y="141.34" class="tl" text-anchor="end">0.2</text>
<path d="M616.6 135.51h1.6M717.3 135.51h-1.6" class="tk"/>
<text x="615.1" y="136.81" class="tl" text-anchor="end">0.3</text>
<path d="M616.6 130.98h1.6M717.3 130.98h-1.6" class="tk"/>
<text x="615.1" y="132.28" class="tl" text-anchor="end">0.4</text>
<path d="M616.6 126.45h1.6M717.3 126.45h-1.6" class="tk"/>
<text x="615.1" y="127.75" class="tl" text-anchor="end">0.5</text>
<path d="M616.6 121.92h1.6M717.3 121.92h-1.6" class="tk"/>
<text x="615.1" y="123.22" class="tl" text-anchor="end">0.6</text>
<path d="M616.6 117.39h1.6M717.3 117.39h-1.6" class="tk"/>
<text x="615.1" y="118.69" class="tl" text-anchor="end">0.7</text>
<path d="M616.6 112.86h1.6M717.3 112.86h-1.6" class="tk"/>
<text x="615.1" y="114.16" class="tl" text-anchor="end">0.8</text>
<path d="M616.6 108.33h1.6M717.3 108.33h-1.6" class="tk"/>
<text x="615.1" y="109.63" class="tl" text-anchor="end">0.9</text>
<path d="M616.6 103.8h1.6M717.3 103.8h-1.6" class="tk"/>
<text x="615.1" y="105.1" class="tl" text-anchor="end">1.0</text>
<path d="M616.6 99.27h1.6M717.3 99.27h-1.6" class="tk"/>
<text x="615.1" y="100.57" class="tl" text-anchor="end">1.1</text>
<path d="M616.6 94.74h1.6M717.3 94.74h-1.6" class="tk"/>
<text x="615.1" y="96.04" class="tl" text-anchor="end">1.2</text>
<path d="M616.6 90.21h1.6M717.3 90.21h-1.6" class="tk"/>
<text x="615.1" y="91.51" class="tl" text-anchor="end">1.3</text>
<path d="M616.6 85.68h1.6M717.3 85.68h-1.6" class="tk"/>
<text x="615.1" y="86.98" class="tl" text-anchor="end">1.4</text>
<path d="M616.6 158.1v-1.8M616.6 85.3v1.8" class="tk"/>
<text x="616.6" y="163.2" class="tl" text-anchor="middle">0</text>
<path d="M621.63 158.1v-1.2M621.63 85.3v1.2" class="tk"/>
<path d="M626.67 158.1v-1.8M626.67 85.3v1.8" class="tk"/>
<text x="626.67" y="163.2" class="tl" text-anchor="middle">1</text>
<path d="M631.71 158.1v-1.2M631.71 85.3v1.2" class="tk"/>
<path d="M636.74 158.1v-1.8M636.74 85.3v1.8" class="tk"/>
<text x="636.74" y="163.2" class="tl" text-anchor="middle">2</text>
<path d="M641.77 158.1v-1.2M641.77 85.3v1.2" class="tk"/>
<path d="M646.81 158.1v-1.8M646.81 85.3v1.8" class="tk"/>
<text x="646.81" y="163.2" class="tl" text-anchor="middle">3</text>
<path d="M651.85 158.1v-1.2M651.85 85.3v1.2" class="tk"/>
<path d="M656.88 158.1v-1.8M656.88 85.3v1.8" class="tk"/>
<text x="656.88" y="163.2" class="tl" text-anchor="middle">4</text>
<path d="M661.91 158.1v-1.2M661.91 85.3v1.2" class="tk"/>
<path d="M666.95 158.1v-1.8M666.95 85.3v1.8" class="tk"/>
<text x="666.95" y="163.2" class="tl" text-anchor="middle">5</text>
<path d="M671.99 158.1v-1.2M671.99 85.3v1.2" class="tk"/>
<path d="M677.02 158.1v-1.8M677.02 85.3v1.8" class="tk"/>
<text x="677.02" y="163.2" class="tl" text-anchor="middle">6</text>
<path d="M682.05 158.1v-1.2M682.05 85.3v1.2" class="tk"/>
<path d="M687.09 158.1v-1.8M687.09 85.3v1.8" class="tk"/>
<text x="687.09" y="163.2" class="tl" text-anchor="middle">7</text>
<path d="M692.12 158.1v-1.2M692.12 85.3v1.2" class="tk"/>
<path d="M697.16 158.1v-1.8M697.16 85.3v1.8" class="tk"/>
<text x="697.16" y="163.2" class="tl" text-anchor="middle">8</text>
<path d="M702.19 158.1v-1.2M702.19 85.3v1.2" class="tk"/>
<path d="M707.23 158.1v-1.8M707.23 85.3v1.8" class="tk"/>
<text x="707.23" y="163.2" class="tl" text-anchor="middle">9</text>
<path d="M712.26 158.1v-1.2M712.26 85.3v1.2" class="tk"/>
<path d="M717.3 158.1v-1.8M717.3 85.3v1.8" class="tk"/>
<text x="717.3" y="163.2" class="tl" text-anchor="middle">10</text>
<line x1="616.6" y1="149.1" x2="717.3" y2="149.1" class="zl"/>
<rect x="616.6" y="85.3" width="100.7" height="72.8" class="fr"/>
<text transform="translate(607,127.6) rotate(-90)" class="al" text-anchor="middle">g<tspan class="sub" dy="0.9">Si-Si</tspan><tspan dy="-0.9">(r)</tspan></text>
<text x="666.95" y="168.7" class="xl" text-anchor="middle">r (Å)</text>
<path d="M14.6 251.9h1.6M115.7 251.9h-1.6" class="tk"/>
<text x="13.1" y="253.2" class="tl" text-anchor="end">-0.5</text>
<path d="M14.6 243.8h1.6M115.7 243.8h-1.6" class="tk"/>
<text x="13.1" y="245.1" class="tl" text-anchor="end">0.0</text>
<path d="M14.6 235.7h1.6M115.7 235.7h-1.6" class="tk"/>
<text x="13.1" y="237" class="tl" text-anchor="end">0.5</text>
<path d="M14.6 227.6h1.6M115.7 227.6h-1.6" class="tk"/>
<text x="13.1" y="228.9" class="tl" text-anchor="end">1.0</text>
<path d="M14.6 219.5h1.6M115.7 219.5h-1.6" class="tk"/>
<text x="13.1" y="220.8" class="tl" text-anchor="end">1.5</text>
<path d="M14.6 211.4h1.6M115.7 211.4h-1.6" class="tk"/>
<text x="13.1" y="212.7" class="tl" text-anchor="end">2.0</text>
<path d="M14.6 203.3h1.6M115.7 203.3h-1.6" class="tk"/>
<text x="13.1" y="204.6" class="tl" text-anchor="end">2.5</text>
<path d="M14.6 195.2h1.6M115.7 195.2h-1.6" class="tk"/>
<text x="13.1" y="196.5" class="tl" text-anchor="end">3.0</text>
<path d="M14.6 187.1h1.6M115.7 187.1h-1.6" class="tk"/>
<text x="13.1" y="188.4" class="tl" text-anchor="end">3.5</text>
<path d="M14.6 179h1.6M115.7 179h-1.6" class="tk"/>
<text x="13.1" y="180.3" class="tl" text-anchor="end">4.0</text>
<path d="M17.54 251.8v-1.2M17.54 178.8v1.2" class="tk"/>
<path d="M20.62 251.8v-1.2M20.62 178.8v1.2" class="tk"/>
<path d="M23.7 251.8v-1.8M23.7 178.8v1.8" class="tk"/>
<path d="M26.78 251.8v-1.2M26.78 178.8v1.2" class="tk"/>
<path d="M29.85 251.8v-1.2M29.85 178.8v1.2" class="tk"/>
<path d="M32.93 251.8v-1.2M32.93 178.8v1.2" class="tk"/>
<path d="M36.01 251.8v-1.2M36.01 178.8v1.2" class="tk"/>
<path d="M39.09 251.8v-1.8M39.09 178.8v1.8" class="tk"/>
<path d="M42.16 251.8v-1.2M42.16 178.8v1.2" class="tk"/>
<path d="M45.24 251.8v-1.2M45.24 178.8v1.2" class="tk"/>
<path d="M48.32 251.8v-1.2M48.32 178.8v1.2" class="tk"/>
<path d="M51.4 251.8v-1.2M51.4 178.8v1.2" class="tk"/>
<path d="M54.47 251.8v-1.8M54.47 178.8v1.8" class="tk"/>
<path d="M57.55 251.8v-1.2M57.55 178.8v1.2" class="tk"/>
<path d="M60.63 251.8v-1.2M60.63 178.8v1.2" class="tk"/>
<path d="M63.71 251.8v-1.2M63.71 178.8v1.2" class="tk"/>
<path d="M66.78 251.8v-1.2M66.78 178.8v1.2" class="tk"/>
<path d="M69.86 251.8v-1.8M69.86 178.8v1.8" class="tk"/>
<path d="M72.94 251.8v-1.2M72.94 178.8v1.2" class="tk"/>
<path d="M76.02 251.8v-1.2M76.02 178.8v1.2" class="tk"/>
<path d="M79.09 251.8v-1.2M79.09 178.8v1.2" class="tk"/>
<path d="M82.17 251.8v-1.2M82.17 178.8v1.2" class="tk"/>
<path d="M85.25 251.8v-1.8M85.25 178.8v1.8" class="tk"/>
<path d="M88.33 251.8v-1.2M88.33 178.8v1.2" class="tk"/>
<path d="M91.4 251.8v-1.2M91.4 178.8v1.2" class="tk"/>
<path d="M94.48 251.8v-1.2M94.48 178.8v1.2" class="tk"/>
<path d="M97.56 251.8v-1.2M97.56 178.8v1.2" class="tk"/>
<path d="M100.64 251.8v-1.8M100.64 178.8v1.8" class="tk"/>
<path d="M103.71 251.8v-1.2M103.71 178.8v1.2" class="tk"/>
<path d="M106.79 251.8v-1.2M106.79 178.8v1.2" class="tk"/>
<path d="M109.87 251.8v-1.2M109.87 178.8v1.2" class="tk"/>
<path d="M112.95 251.8v-1.2M112.95 178.8v1.2" class="tk"/>
<text x="23.7" y="254.8" class="tl" text-anchor="middle">2.0</text>
<text x="39.09" y="254.8" class="tl" text-anchor="middle">2.5</text>
<text x="54.47" y="254.8" class="tl" text-anchor="middle">3.0</text>
<text x="69.86" y="254.8" class="tl" text-anchor="middle">3.5</text>
<text x="85.25" y="254.8" class="tl" text-anchor="middle">4.0</text>
<text x="100.64" y="254.8" class="tl" text-anchor="middle">4.5</text>
<text x="116.02" y="254.8" class="tl" text-anchor="middle">5.0</text>
<line x1="14.6" y1="243.8" x2="115.7" y2="243.8" class="zl"/>
<rect x="14.6" y="178.8" width="101.1" height="73" class="fr"/>
<text transform="translate(4.4,217) rotate(-90)" class="al" text-anchor="middle">n<tspan class="sub" dy="0.9">Si-Si</tspan><tspan dy="-0.9">(r)</tspan></text>
<path d="M14.6 328.26h1.6M115.7 328.26h-1.6" class="tk"/>
<text x="13.1" y="329.56" class="tl" text-anchor="end">-0.2</text>
<path d="M14.6 323.73h1.6M115.7 323.73h-1.6" class="tk"/>
<text x="13.1" y="325.03" class="tl" text-anchor="end">-0.1</text>
<path d="M14.6 319.2h1.6M115.7 319.2h-1.6" class="tk"/>
<text x="13.1" y="320.5" class="tl" text-anchor="end">0.0</text>
<path d="M14.6 314.67h1.6M115.7 314.67h-1.6" class="tk"/>
<text x="13.1" y="315.97" class="tl" text-anchor="end">0.1</text>
<path d="M14.6 310.14h1.6M115.7 310.14h-1.6" class="tk"/>
<text x="13.1" y="311.44" class="tl" text-anchor="end">0.2</text>
<path d="M14.6 305.61h1.6M115.7 305.61h-1.6" class="tk"/>
<text x="13.1" y="306.91" class="tl" text-anchor="end">0.3</text>
<path d="M14.6 301.08h1.6M115.7 301.08h-1.6" class="tk"/>
<text x="13.1" y="302.38" class="tl" text-anchor="end">0.4</text>
<path d="M14.6 296.55h1.6M115.7 296.55h-1.6" class="tk"/>
<text x="13.1" y="297.85" class="tl" text-anchor="end">0.5</text>
<path d="M14.6 292.02h1.6M115.7 292.02h-1.6" class="tk"/>
<text x="13.1" y="293.32" class="tl" text-anchor="end">0.6</text>
<path d="M14.6 287.49h1.6M115.7 287.49h-1.6" class="tk"/>
<text x="13.1" y="288.79" class="tl" text-anchor="end">0.7</text>
<path d="M14.6 282.96h1.6M115.7 282.96h-1.6" class="tk"/>
<text x="13.1" y="284.26" class="tl" text-anchor="end">0.8</text>
<path d="M14.6 278.43h1.6M115.7 278.43h-1.6" class="tk"/>
<text x="13.1" y="279.73" class="tl" text-anchor="end">0.9</text>
<path d="M14.6 273.9h1.6M115.7 273.9h-1.6" class="tk"/>
<text x="13.1" y="275.2" class="tl" text-anchor="end">1.0</text>
<path d="M14.6 269.37h1.6M115.7 269.37h-1.6" class="tk"/>
<text x="13.1" y="270.67" class="tl" text-anchor="end">1.1</text>
<path d="M14.6 264.84h1.6M115.7 264.84h-1.6" class="tk"/>
<text x="13.1" y="266.14" class="tl" text-anchor="end">1.2</text>
<path d="M14.6 260.31h1.6M115.7 260.31h-1.6" class="tk"/>
<text x="13.1" y="261.61" class="tl" text-anchor="end">1.3</text>
<path d="M14.6 255.78h1.6M115.7 255.78h-1.6" class="tk"/>
<text x="13.1" y="257.08" class="tl" text-anchor="end">1.4</text>
<path d="M14.6 328.2v-1.8M14.6 255.4v1.8" class="tk"/>
<text x="14.6" y="333.3" class="tl" text-anchor="middle">0</text>
<path d="M19.66 328.2v-1.2M19.66 255.4v1.2" class="tk"/>
<path d="M24.71 328.2v-1.8M24.71 255.4v1.8" class="tk"/>
<text x="24.71" y="333.3" class="tl" text-anchor="middle">1</text>
<path d="M29.77 328.2v-1.2M29.77 255.4v1.2" class="tk"/>
<path d="M34.82 328.2v-1.8M34.82 255.4v1.8" class="tk"/>
<text x="34.82" y="333.3" class="tl" text-anchor="middle">2</text>
<path d="M39.88 328.2v-1.2M39.88 255.4v1.2" class="tk"/>
<path d="M44.93 328.2v-1.8M44.93 255.4v1.8" class="tk"/>
<text x="44.93" y="333.3" class="tl" text-anchor="middle">3</text>
<path d="M49.98 328.2v-1.2M49.98 255.4v1.2" class="tk"/>
<path d="M55.04 328.2v-1.8M55.04 255.4v1.8" class="tk"/>
<text x="55.04" y="333.3" class="tl" text-anchor="middle">4</text>
<path d="M60.1 328.2v-1.2M60.1 255.4v1.2" class="tk"/>
<path d="M65.15 328.2v-1.8M65.15 255.4v1.8" class="tk"/>
<text x="65.15" y="333.3" class="tl" text-anchor="middle">5</text>
<path d="M70.21 328.2v-1.2M70.21 255.4v1.2" class="tk"/>
<path d="M75.26 328.2v-1.8M75.26 255.4v1.8" class="tk"/>
<text x="75.26" y="333.3" class="tl" text-anchor="middle">6</text>
<path d="M80.31 328.2v-1.2M80.31 255.4v1.2" class="tk"/>
<path d="M85.37 328.2v-1.8M85.37 255.4v1.8" class="tk"/>
<text x="85.37" y="333.3" class="tl" text-anchor="middle">7</text>
<path d="M90.42 328.2v-1.2M90.42 255.4v1.2" class="tk"/>
<path d="M95.48 328.2v-1.8M95.48 255.4v1.8" class="tk"/>
<text x="95.48" y="333.3" class="tl" text-anchor="middle">8</text>
<path d="M100.53 328.2v-1.2M100.53 255.4v1.2" class="tk"/>
<path d="M105.59 328.2v-1.8M105.59 255.4v1.8" class="tk"/>
<text x="105.59" y="333.3" class="tl" text-anchor="middle">9</text>
<path d="M110.64 328.2v-1.2M110.64 255.4v1.2" class="tk"/>
<path d="M115.7 328.2v-1.8M115.7 255.4v1.8" class="tk"/>
<text x="115.7" y="333.3" class="tl" text-anchor="middle">10</text>
<line x1="14.6" y1="319.2" x2="115.7" y2="319.2" class="zl"/>
<rect x="14.6" y="255.4" width="101.1" height="72.8" class="fr"/>
<text transform="translate(5,297.7) rotate(-90)" class="al" text-anchor="middle">g<tspan class="sub" dy="0.9">Si-Si</tspan><tspan dy="-0.9">(r)</tspan></text>
<text x="65.15" y="338.8" class="xl" text-anchor="middle">r (Å)</text>
<path d="M132.6 251.9h1.6M234.5 251.9h-1.6" class="tk"/>
<text x="131.1" y="253.2" class="tl" text-anchor="end">-0.5</text>
<path d="M132.6 243.8h1.6M234.5 243.8h-1.6" class="tk"/>
<text x="131.1" y="245.1" class="tl" text-anchor="end">0.0</text>
<path d="M132.6 235.7h1.6M234.5 235.7h-1.6" class="tk"/>
<text x="131.1" y="237" class="tl" text-anchor="end">0.5</text>
<path d="M132.6 227.6h1.6M234.5 227.6h-1.6" class="tk"/>
<text x="131.1" y="228.9" class="tl" text-anchor="end">1.0</text>
<path d="M132.6 219.5h1.6M234.5 219.5h-1.6" class="tk"/>
<text x="131.1" y="220.8" class="tl" text-anchor="end">1.5</text>
<path d="M132.6 211.4h1.6M234.5 211.4h-1.6" class="tk"/>
<text x="131.1" y="212.7" class="tl" text-anchor="end">2.0</text>
<path d="M132.6 203.3h1.6M234.5 203.3h-1.6" class="tk"/>
<text x="131.1" y="204.6" class="tl" text-anchor="end">2.5</text>
<path d="M132.6 195.2h1.6M234.5 195.2h-1.6" class="tk"/>
<text x="131.1" y="196.5" class="tl" text-anchor="end">3.0</text>
<path d="M132.6 187.1h1.6M234.5 187.1h-1.6" class="tk"/>
<text x="131.1" y="188.4" class="tl" text-anchor="end">3.5</text>
<path d="M132.6 179h1.6M234.5 179h-1.6" class="tk"/>
<text x="131.1" y="180.3" class="tl" text-anchor="end">4.0</text>
<path d="M135.57 251.8v-1.2M135.57 178.8v1.2" class="tk"/>
<path d="M138.67 251.8v-1.2M138.67 178.8v1.2" class="tk"/>
<path d="M141.77 251.8v-1.8M141.77 178.8v1.8" class="tk"/>
<path d="M144.87 251.8v-1.2M144.87 178.8v1.2" class="tk"/>
<path d="M147.97 251.8v-1.2M147.97 178.8v1.2" class="tk"/>
<path d="M151.08 251.8v-1.2M151.08 178.8v1.2" class="tk"/>
<path d="M154.18 251.8v-1.2M154.18 178.8v1.2" class="tk"/>
<path d="M157.28 251.8v-1.8M157.28 178.8v1.8" class="tk"/>
<path d="M160.38 251.8v-1.2M160.38 178.8v1.2" class="tk"/>
<path d="M163.48 251.8v-1.2M163.48 178.8v1.2" class="tk"/>
<path d="M166.59 251.8v-1.2M166.59 178.8v1.2" class="tk"/>
<path d="M169.69 251.8v-1.2M169.69 178.8v1.2" class="tk"/>
<path d="M172.79 251.8v-1.8M172.79 178.8v1.8" class="tk"/>
<path d="M175.89 251.8v-1.2M175.89 178.8v1.2" class="tk"/>
<path d="M178.99 251.8v-1.2M178.99 178.8v1.2" class="tk"/>
<path d="M182.09 251.8v-1.2M182.09 178.8v1.2" class="tk"/>
<path d="M185.2 251.8v-1.2M185.2 178.8v1.2" class="tk"/>
<path d="M188.3 251.8v-1.8M188.3 178.8v1.8" class="tk"/>
<path d="M191.4 251.8v-1.2M191.4 178.8v1.2" class="tk"/>
<path d="M194.5 251.8v-1.2M194.5 178.8v1.2" class="tk"/>
<path d="M197.6 251.8v-1.2M197.6 178.8v1.2" class="tk"/>
<path d="M200.71 251.8v-1.2M200.71 178.8v1.2" class="tk"/>
<path d="M203.81 251.8v-1.8M203.81 178.8v1.8" class="tk"/>
<path d="M206.91 251.8v-1.2M206.91 178.8v1.2" class="tk"/>
<path d="M210.01 251.8v-1.2M210.01 178.8v1.2" class="tk"/>
<path d="M213.11 251.8v-1.2M213.11 178.8v1.2" class="tk"/>
<path d="M216.22 251.8v-1.2M216.22 178.8v1.2" class="tk"/>
<path d="M219.32 251.8v-1.8M219.32 178.8v1.8" class="tk"/>
<path d="M222.42 251.8v-1.2M222.42 178.8v1.2" class="tk"/>
<path d="M225.52 251.8v-1.2M225.52 178.8v1.2" class="tk"/>
<path d="M228.62 251.8v-1.2M228.62 178.8v1.2" class="tk"/>
<path d="M231.72 251.8v-1.2M231.72 178.8v1.2" class="tk"/>
<text x="141.77" y="254.8" class="tl" text-anchor="middle">2.0</text>
<text x="157.28" y="254.8" class="tl" text-anchor="middle">2.5</text>
<text x="172.79" y="254.8" class="tl" text-anchor="middle">3.0</text>
<text x="188.3" y="254.8" class="tl" text-anchor="middle">3.5</text>
<text x="203.81" y="254.8" class="tl" text-anchor="middle">4.0</text>
<text x="219.32" y="254.8" class="tl" text-anchor="middle">4.5</text>
<text x="234.83" y="254.8" class="tl" text-anchor="middle">5.0</text>
<line x1="132.6" y1="243.8" x2="234.5" y2="243.8" class="zl"/>
<rect x="132.6" y="178.8" width="101.9" height="73" class="fr"/>
<text transform="translate(122.4,217) rotate(-90)" class="al" text-anchor="middle">n<tspan class="sub" dy="0.9">Si-Si</tspan><tspan dy="-0.9">(r)</tspan></text>
<path d="M132.6 328.26h1.6M234.5 328.26h-1.6" class="tk"/>
<text x="131.1" y="329.56" class="tl" text-anchor="end">-0.2</text>
<path d="M132.6 323.73h1.6M234.5 323.73h-1.6" class="tk"/>
<text x="131.1" y="325.03" class="tl" text-anchor="end">-0.1</text>
<path d="M132.6 319.2h1.6M234.5 319.2h-1.6" class="tk"/>
<text x="131.1" y="320.5" class="tl" text-anchor="end">0.0</text>
<path d="M132.6 314.67h1.6M234.5 314.67h-1.6" class="tk"/>
<text x="131.1" y="315.97" class="tl" text-anchor="end">0.1</text>
<path d="M132.6 310.14h1.6M234.5 310.14h-1.6" class="tk"/>
<text x="131.1" y="311.44" class="tl" text-anchor="end">0.2</text>
<path d="M132.6 305.61h1.6M234.5 305.61h-1.6" class="tk"/>
<text x="131.1" y="306.91" class="tl" text-anchor="end">0.3</text>
<path d="M132.6 301.08h1.6M234.5 301.08h-1.6" class="tk"/>
<text x="131.1" y="302.38" class="tl" text-anchor="end">0.4</text>
<path d="M132.6 296.55h1.6M234.5 296.55h-1.6" class="tk"/>
<text x="131.1" y="297.85" class="tl" text-anchor="end">0.5</text>
<path d="M132.6 292.02h1.6M234.5 292.02h-1.6" class="tk"/>
<text x="131.1" y="293.32" class="tl" text-anchor="end">0.6</text>
<path d="M132.6 287.49h1.6M234.5 287.49h-1.6" class="tk"/>
<text x="131.1" y="288.79" class="tl" text-anchor="end">0.7</text>
<path d="M132.6 282.96h1.6M234.5 282.96h-1.6" class="tk"/>
<text x="131.1" y="284.26" class="tl" text-anchor="end">0.8</text>
<path d="M132.6 278.43h1.6M234.5 278.43h-1.6" class="tk"/>
<text x="131.1" y="279.73" class="tl" text-anchor="end">0.9</text>
<path d="M132.6 273.9h1.6M234.5 273.9h-1.6" class="tk"/>
<text x="131.1" y="275.2" class="tl" text-anchor="end">1.0</text>
<path d="M132.6 269.37h1.6M234.5 269.37h-1.6" class="tk"/>
<text x="131.1" y="270.67" class="tl" text-anchor="end">1.1</text>
<path d="M132.6 264.84h1.6M234.5 264.84h-1.6" class="tk"/>
<text x="131.1" y="266.14" class="tl" text-anchor="end">1.2</text>
<path d="M132.6 260.31h1.6M234.5 260.31h-1.6" class="tk"/>
<text x="131.1" y="261.61" class="tl" text-anchor="end">1.3</text>
<path d="M132.6 255.78h1.6M234.5 255.78h-1.6" class="tk"/>
<text x="131.1" y="257.08" class="tl" text-anchor="end">1.4</text>
<path d="M132.6 328.2v-1.8M132.6 255.4v1.8" class="tk"/>
<text x="132.6" y="333.3" class="tl" text-anchor="middle">0</text>
<path d="M137.69 328.2v-1.2M137.69 255.4v1.2" class="tk"/>
<path d="M142.79 328.2v-1.8M142.79 255.4v1.8" class="tk"/>
<text x="142.79" y="333.3" class="tl" text-anchor="middle">1</text>
<path d="M147.88 328.2v-1.2M147.88 255.4v1.2" class="tk"/>
<path d="M152.98 328.2v-1.8M152.98 255.4v1.8" class="tk"/>
<text x="152.98" y="333.3" class="tl" text-anchor="middle">2</text>
<path d="M158.07 328.2v-1.2M158.07 255.4v1.2" class="tk"/>
<path d="M163.17 328.2v-1.8M163.17 255.4v1.8" class="tk"/>
<text x="163.17" y="333.3" class="tl" text-anchor="middle">3</text>
<path d="M168.26 328.2v-1.2M168.26 255.4v1.2" class="tk"/>
<path d="M173.36 328.2v-1.8M173.36 255.4v1.8" class="tk"/>
<text x="173.36" y="333.3" class="tl" text-anchor="middle">4</text>
<path d="M178.45 328.2v-1.2M178.45 255.4v1.2" class="tk"/>
<path d="M183.55 328.2v-1.8M183.55 255.4v1.8" class="tk"/>
<text x="183.55" y="333.3" class="tl" text-anchor="middle">5</text>
<path d="M188.65 328.2v-1.2M188.65 255.4v1.2" class="tk"/>
<path d="M193.74 328.2v-1.8M193.74 255.4v1.8" class="tk"/>
<text x="193.74" y="333.3" class="tl" text-anchor="middle">6</text>
<path d="M198.83 328.2v-1.2M198.83 255.4v1.2" class="tk"/>
<path d="M203.93 328.2v-1.8M203.93 255.4v1.8" class="tk"/>
<text x="203.93" y="333.3" class="tl" text-anchor="middle">7</text>
<path d="M209.03 328.2v-1.2M209.03 255.4v1.2" class="tk"/>
<path d="M214.12 328.2v-1.8M214.12 255.4v1.8" class="tk"/>
<text x="214.12" y="333.3" class="tl" text-anchor="middle">8</text>
<path d="M219.22 328.2v-1.2M219.22 255.4v1.2" class="tk"/>
<path d="M224.31 328.2v-1.8M224.31 255.4v1.8" class="tk"/>
<text x="224.31" y="333.3" class="tl" text-anchor="middle">9</text>
<path d="M229.41 328.2v-1.2M229.41 255.4v1.2" class="tk"/>
<path d="M234.5 328.2v-1.8M234.5 255.4v1.8" class="tk"/>
<text x="234.5" y="333.3" class="tl" text-anchor="middle">10</text>
<line x1="132.6" y1="319.2" x2="234.5" y2="319.2" class="zl"/>
<rect x="132.6" y="255.4" width="101.9" height="72.8" class="fr"/>
<text transform="translate(123,297.7) rotate(-90)" class="al" text-anchor="middle">g<tspan class="sub" dy="0.9">Si-Si</tspan><tspan dy="-0.9">(r)</tspan></text>
<text x="183.55" y="338.8" class="xl" text-anchor="middle">r (Å)</text>
<path d="M250.4 251.9h1.6M351.6 251.9h-1.6" class="tk"/>
<text x="248.9" y="253.2" class="tl" text-anchor="end">-0.5</text>
<path d="M250.4 243.8h1.6M351.6 243.8h-1.6" class="tk"/>
<text x="248.9" y="245.1" class="tl" text-anchor="end">0.0</text>
<path d="M250.4 235.7h1.6M351.6 235.7h-1.6" class="tk"/>
<text x="248.9" y="237" class="tl" text-anchor="end">0.5</text>
<path d="M250.4 227.6h1.6M351.6 227.6h-1.6" class="tk"/>
<text x="248.9" y="228.9" class="tl" text-anchor="end">1.0</text>
<path d="M250.4 219.5h1.6M351.6 219.5h-1.6" class="tk"/>
<text x="248.9" y="220.8" class="tl" text-anchor="end">1.5</text>
<path d="M250.4 211.4h1.6M351.6 211.4h-1.6" class="tk"/>
<text x="248.9" y="212.7" class="tl" text-anchor="end">2.0</text>
<path d="M250.4 203.3h1.6M351.6 203.3h-1.6" class="tk"/>
<text x="248.9" y="204.6" class="tl" text-anchor="end">2.5</text>
<path d="M250.4 195.2h1.6M351.6 195.2h-1.6" class="tk"/>
<text x="248.9" y="196.5" class="tl" text-anchor="end">3.0</text>
<path d="M250.4 187.1h1.6M351.6 187.1h-1.6" class="tk"/>
<text x="248.9" y="188.4" class="tl" text-anchor="end">3.5</text>
<path d="M250.4 179h1.6M351.6 179h-1.6" class="tk"/>
<text x="248.9" y="180.3" class="tl" text-anchor="end">4.0</text>
<path d="M253.35 251.8v-1.2M253.35 178.8v1.2" class="tk"/>
<path d="M256.43 251.8v-1.2M256.43 178.8v1.2" class="tk"/>
<path d="M259.51 251.8v-1.8M259.51 178.8v1.8" class="tk"/>
<path d="M262.59 251.8v-1.2M262.59 178.8v1.2" class="tk"/>
<path d="M265.67 251.8v-1.2M265.67 178.8v1.2" class="tk"/>
<path d="M268.75 251.8v-1.2M268.75 178.8v1.2" class="tk"/>
<path d="M271.83 251.8v-1.2M271.83 178.8v1.2" class="tk"/>
<path d="M274.91 251.8v-1.8M274.91 178.8v1.8" class="tk"/>
<path d="M277.99 251.8v-1.2M277.99 178.8v1.2" class="tk"/>
<path d="M281.07 251.8v-1.2M281.07 178.8v1.2" class="tk"/>
<path d="M284.15 251.8v-1.2M284.15 178.8v1.2" class="tk"/>
<path d="M287.23 251.8v-1.2M287.23 178.8v1.2" class="tk"/>
<path d="M290.31 251.8v-1.8M290.31 178.8v1.8" class="tk"/>
<path d="M293.39 251.8v-1.2M293.39 178.8v1.2" class="tk"/>
<path d="M296.47 251.8v-1.2M296.47 178.8v1.2" class="tk"/>
<path d="M299.55 251.8v-1.2M299.55 178.8v1.2" class="tk"/>
<path d="M302.64 251.8v-1.2M302.64 178.8v1.2" class="tk"/>
<path d="M305.72 251.8v-1.8M305.72 178.8v1.8" class="tk"/>
<path d="M308.8 251.8v-1.2M308.8 178.8v1.2" class="tk"/>
<path d="M311.88 251.8v-1.2M311.88 178.8v1.2" class="tk"/>
<path d="M314.96 251.8v-1.2M314.96 178.8v1.2" class="tk"/>
<path d="M318.04 251.8v-1.2M318.04 178.8v1.2" class="tk"/>
<path d="M321.12 251.8v-1.8M321.12 178.8v1.8" class="tk"/>
<path d="M324.2 251.8v-1.2M324.2 178.8v1.2" class="tk"/>
<path d="M327.28 251.8v-1.2M327.28 178.8v1.2" class="tk"/>
<path d="M330.36 251.8v-1.2M330.36 178.8v1.2" class="tk"/>
<path d="M333.44 251.8v-1.2M333.44 178.8v1.2" class="tk"/>
<path d="M336.52 251.8v-1.8M336.52 178.8v1.8" class="tk"/>
<path d="M339.6 251.8v-1.2M339.6 178.8v1.2" class="tk"/>
<path d="M342.68 251.8v-1.2M342.68 178.8v1.2" class="tk"/>
<path d="M345.76 251.8v-1.2M345.76 178.8v1.2" class="tk"/>
<path d="M348.84 251.8v-1.2M348.84 178.8v1.2" class="tk"/>
<text x="259.51" y="254.8" class="tl" text-anchor="middle">2.0</text>
<text x="274.91" y="254.8" class="tl" text-anchor="middle">2.5</text>
<text x="290.31" y="254.8" class="tl" text-anchor="middle">3.0</text>
<text x="305.72" y="254.8" class="tl" text-anchor="middle">3.5</text>
<text x="321.12" y="254.8" class="tl" text-anchor="middle">4.0</text>
<text x="336.52" y="254.8" class="tl" text-anchor="middle">4.5</text>
<text x="351.92" y="254.8" class="tl" text-anchor="middle">5.0</text>
<line x1="250.4" y1="243.8" x2="351.6" y2="243.8" class="zl"/>
<rect x="250.4" y="178.8" width="101.2" height="73" class="fr"/>
<text transform="translate(240.2,217) rotate(-90)" class="al" text-anchor="middle">n<tspan class="sub" dy="0.9">Si-Si</tspan><tspan dy="-0.9">(r)</tspan></text>
<path d="M250.4 328.26h1.6M351.6 328.26h-1.6" class="tk"/>
<text x="248.9" y="329.56" class="tl" text-anchor="end">-0.2</text>
<path d="M250.4 323.73h1.6M351.6 323.73h-1.6" class="tk"/>
<text x="248.9" y="325.03" class="tl" text-anchor="end">-0.1</text>
<path d="M250.4 319.2h1.6M351.6 319.2h-1.6" class="tk"/>
<text x="248.9" y="320.5" class="tl" text-anchor="end">0.0</text>
<path d="M250.4 314.67h1.6M351.6 314.67h-1.6" class="tk"/>
<text x="248.9" y="315.97" class="tl" text-anchor="end">0.1</text>
<path d="M250.4 310.14h1.6M351.6 310.14h-1.6" class="tk"/>
<text x="248.9" y="311.44" class="tl" text-anchor="end">0.2</text>
<path d="M250.4 305.61h1.6M351.6 305.61h-1.6" class="tk"/>
<text x="248.9" y="306.91" class="tl" text-anchor="end">0.3</text>
<path d="M250.4 301.08h1.6M351.6 301.08h-1.6" class="tk"/>
<text x="248.9" y="302.38" class="tl" text-anchor="end">0.4</text>
<path d="M250.4 296.55h1.6M351.6 296.55h-1.6" class="tk"/>
<text x="248.9" y="297.85" class="tl" text-anchor="end">0.5</text>
<path d="M250.4 292.02h1.6M351.6 292.02h-1.6" class="tk"/>
<text x="248.9" y="293.32" class="tl" text-anchor="end">0.6</text>
<path d="M250.4 287.49h1.6M351.6 287.49h-1.6" class="tk"/>
<text x="248.9" y="288.79" class="tl" text-anchor="end">0.7</text>
<path d="M250.4 282.96h1.6M351.6 282.96h-1.6" class="tk"/>
<text x="248.9" y="284.26" class="tl" text-anchor="end">0.8</text>
<path d="M250.4 278.43h1.6M351.6 278.43h-1.6" class="tk"/>
<text x="248.9" y="279.73" class="tl" text-anchor="end">0.9</text>
<path d="M250.4 273.9h1.6M351.6 273.9h-1.6" class="tk"/>
<text x="248.9" y="275.2" class="tl" text-anchor="end">1.0</text>
<path d="M250.4 269.37h1.6M351.6 269.37h-1.6" class="tk"/>
<text x="248.9" y="270.67" class="tl" text-anchor="end">1.1</text>
<path d="M250.4 264.84h1.6M351.6 264.84h-1.6" class="tk"/>
<text x="248.9" y="266.14" class="tl" text-anchor="end">1.2</text>
<path d="M250.4 260.31h1.6M351.6 260.31h-1.6" class="tk"/>
<text x="248.9" y="261.61" class="tl" text-anchor="end">1.3</text>
<path d="M250.4 255.78h1.6M351.6 255.78h-1.6" class="tk"/>
<text x="248.9" y="257.08" class="tl" text-anchor="end">1.4</text>
<path d="M250.4 328.2v-1.8M250.4 255.4v1.8" class="tk"/>
<text x="250.4" y="333.3" class="tl" text-anchor="middle">0</text>
<path d="M255.46 328.2v-1.2M255.46 255.4v1.2" class="tk"/>
<path d="M260.52 328.2v-1.8M260.52 255.4v1.8" class="tk"/>
<text x="260.52" y="333.3" class="tl" text-anchor="middle">1</text>
<path d="M265.58 328.2v-1.2M265.58 255.4v1.2" class="tk"/>
<path d="M270.64 328.2v-1.8M270.64 255.4v1.8" class="tk"/>
<text x="270.64" y="333.3" class="tl" text-anchor="middle">2</text>
<path d="M275.7 328.2v-1.2M275.7 255.4v1.2" class="tk"/>
<path d="M280.76 328.2v-1.8M280.76 255.4v1.8" class="tk"/>
<text x="280.76" y="333.3" class="tl" text-anchor="middle">3</text>
<path d="M285.82 328.2v-1.2M285.82 255.4v1.2" class="tk"/>
<path d="M290.88 328.2v-1.8M290.88 255.4v1.8" class="tk"/>
<text x="290.88" y="333.3" class="tl" text-anchor="middle">4</text>
<path d="M295.94 328.2v-1.2M295.94 255.4v1.2" class="tk"/>
<path d="M301 328.2v-1.8M301 255.4v1.8" class="tk"/>
<text x="301" y="333.3" class="tl" text-anchor="middle">5</text>
<path d="M306.06 328.2v-1.2M306.06 255.4v1.2" class="tk"/>
<path d="M311.12 328.2v-1.8M311.12 255.4v1.8" class="tk"/>
<text x="311.12" y="333.3" class="tl" text-anchor="middle">6</text>
<path d="M316.18 328.2v-1.2M316.18 255.4v1.2" class="tk"/>
<path d="M321.24 328.2v-1.8M321.24 255.4v1.8" class="tk"/>
<text x="321.24" y="333.3" class="tl" text-anchor="middle">7</text>
<path d="M326.3 328.2v-1.2M326.3 255.4v1.2" class="tk"/>
<path d="M331.36 328.2v-1.8M331.36 255.4v1.8" class="tk"/>
<text x="331.36" y="333.3" class="tl" text-anchor="middle">8</text>
<path d="M336.42 328.2v-1.2M336.42 255.4v1.2" class="tk"/>
<path d="M341.48 328.2v-1.8M341.48 255.4v1.8" class="tk"/>
<text x="341.48" y="333.3" class="tl" text-anchor="middle">9</text>
<path d="M346.54 328.2v-1.2M346.54 255.4v1.2" class="tk"/>
<path d="M351.6 328.2v-1.8M351.6 255.4v1.8" class="tk"/>
<text x="351.6" y="333.3" class="tl" text-anchor="middle">10</text>
<line x1="250.4" y1="319.2" x2="351.6" y2="319.2" class="zl"/>
<rect x="250.4" y="255.4" width="101.2" height="72.8" class="fr"/>
<text transform="translate(240.8,297.7) rotate(-90)" class="al" text-anchor="middle">g<tspan class="sub" dy="0.9">Si-Si</tspan><tspan dy="-0.9">(r)</tspan></text>
<text x="301" y="338.8" class="xl" text-anchor="middle">r (Å)</text>
<path d="M376 251.2h1.6M477.6 251.2h-1.6" class="tk"/>
<text x="374.5" y="252.5" class="tl" text-anchor="end">-0.5</text>
<path d="M376 243.1h1.6M477.6 243.1h-1.6" class="tk"/>
<text x="374.5" y="244.4" class="tl" text-anchor="end">0.0</text>
<path d="M376 235h1.6M477.6 235h-1.6" class="tk"/>
<text x="374.5" y="236.3" class="tl" text-anchor="end">0.5</text>
<path d="M376 226.9h1.6M477.6 226.9h-1.6" class="tk"/>
<text x="374.5" y="228.2" class="tl" text-anchor="end">1.0</text>
<path d="M376 218.8h1.6M477.6 218.8h-1.6" class="tk"/>
<text x="374.5" y="220.1" class="tl" text-anchor="end">1.5</text>
<path d="M376 210.7h1.6M477.6 210.7h-1.6" class="tk"/>
<text x="374.5" y="212" class="tl" text-anchor="end">2.0</text>
<path d="M376 202.6h1.6M477.6 202.6h-1.6" class="tk"/>
<text x="374.5" y="203.9" class="tl" text-anchor="end">2.5</text>
<path d="M376 194.5h1.6M477.6 194.5h-1.6" class="tk"/>
<text x="374.5" y="195.8" class="tl" text-anchor="end">3.0</text>
<path d="M376 186.4h1.6M477.6 186.4h-1.6" class="tk"/>
<text x="374.5" y="187.7" class="tl" text-anchor="end">3.5</text>
<path d="M376 178.3h1.6M477.6 178.3h-1.6" class="tk"/>
<text x="374.5" y="179.6" class="tl" text-anchor="end">4.0</text>
<path d="M378.96 251.1v-1.2M378.96 177.5v1.2" class="tk"/>
<path d="M382.05 251.1v-1.2M382.05 177.5v1.2" class="tk"/>
<path d="M385.14 251.1v-1.8M385.14 177.5v1.8" class="tk"/>
<path d="M388.24 251.1v-1.2M388.24 177.5v1.2" class="tk"/>
<path d="M391.33 251.1v-1.2M391.33 177.5v1.2" class="tk"/>
<path d="M394.42 251.1v-1.2M394.42 177.5v1.2" class="tk"/>
<path d="M397.51 251.1v-1.2M397.51 177.5v1.2" class="tk"/>
<path d="M400.61 251.1v-1.8M400.61 177.5v1.8" class="tk"/>
<path d="M403.7 251.1v-1.2M403.7 177.5v1.2" class="tk"/>
<path d="M406.79 251.1v-1.2M406.79 177.5v1.2" class="tk"/>
<path d="M409.89 251.1v-1.2M409.89 177.5v1.2" class="tk"/>
<path d="M412.98 251.1v-1.2M412.98 177.5v1.2" class="tk"/>
<path d="M416.07 251.1v-1.8M416.07 177.5v1.8" class="tk"/>
<path d="M419.16 251.1v-1.2M419.16 177.5v1.2" class="tk"/>
<path d="M422.26 251.1v-1.2M422.26 177.5v1.2" class="tk"/>
<path d="M425.35 251.1v-1.2M425.35 177.5v1.2" class="tk"/>
<path d="M428.44 251.1v-1.2M428.44 177.5v1.2" class="tk"/>
<path d="M431.53 251.1v-1.8M431.53 177.5v1.8" class="tk"/>
<path d="M434.63 251.1v-1.2M434.63 177.5v1.2" class="tk"/>
<path d="M437.72 251.1v-1.2M437.72 177.5v1.2" class="tk"/>
<path d="M440.81 251.1v-1.2M440.81 177.5v1.2" class="tk"/>
<path d="M443.91 251.1v-1.2M443.91 177.5v1.2" class="tk"/>
<path d="M447 251.1v-1.8M447 177.5v1.8" class="tk"/>
<path d="M450.09 251.1v-1.2M450.09 177.5v1.2" class="tk"/>
<path d="M453.18 251.1v-1.2M453.18 177.5v1.2" class="tk"/>
<path d="M456.28 251.1v-1.2M456.28 177.5v1.2" class="tk"/>
<path d="M459.37 251.1v-1.2M459.37 177.5v1.2" class="tk"/>
<path d="M462.46 251.1v-1.8M462.46 177.5v1.8" class="tk"/>
<path d="M465.55 251.1v-1.2M465.55 177.5v1.2" class="tk"/>
<path d="M468.65 251.1v-1.2M468.65 177.5v1.2" class="tk"/>
<path d="M471.74 251.1v-1.2M471.74 177.5v1.2" class="tk"/>
<path d="M474.83 251.1v-1.2M474.83 177.5v1.2" class="tk"/>
<text x="385.14" y="254.1" class="tl" text-anchor="middle">2.0</text>
<text x="400.61" y="254.1" class="tl" text-anchor="middle">2.5</text>
<text x="416.07" y="254.1" class="tl" text-anchor="middle">3.0</text>
<text x="431.53" y="254.1" class="tl" text-anchor="middle">3.5</text>
<text x="447" y="254.1" class="tl" text-anchor="middle">4.0</text>
<text x="462.46" y="254.1" class="tl" text-anchor="middle">4.5</text>
<text x="477.93" y="254.1" class="tl" text-anchor="middle">5.0</text>
<line x1="376" y1="243.1" x2="477.6" y2="243.1" class="zl"/>
<rect x="376" y="177.5" width="101.6" height="73.6" class="fr"/>
<text transform="translate(365.8,216) rotate(-90)" class="al" text-anchor="middle">n<tspan class="sub" dy="0.9">Si-Si</tspan><tspan dy="-0.9">(r)</tspan></text>
<path d="M376 327.56h1.6M477.6 327.56h-1.6" class="tk"/>
<text x="374.5" y="328.86" class="tl" text-anchor="end">-0.2</text>
<path d="M376 323.03h1.6M477.6 323.03h-1.6" class="tk"/>
<text x="374.5" y="324.33" class="tl" text-anchor="end">-0.1</text>
<path d="M376 318.5h1.6M477.6 318.5h-1.6" class="tk"/>
<text x="374.5" y="319.8" class="tl" text-anchor="end">0.0</text>
<path d="M376 313.97h1.6M477.6 313.97h-1.6" class="tk"/>
<text x="374.5" y="315.27" class="tl" text-anchor="end">0.1</text>
<path d="M376 309.44h1.6M477.6 309.44h-1.6" class="tk"/>
<text x="374.5" y="310.74" class="tl" text-anchor="end">0.2</text>
<path d="M376 304.91h1.6M477.6 304.91h-1.6" class="tk"/>
<text x="374.5" y="306.21" class="tl" text-anchor="end">0.3</text>
<path d="M376 300.38h1.6M477.6 300.38h-1.6" class="tk"/>
<text x="374.5" y="301.68" class="tl" text-anchor="end">0.4</text>
<path d="M376 295.85h1.6M477.6 295.85h-1.6" class="tk"/>
<text x="374.5" y="297.15" class="tl" text-anchor="end">0.5</text>
<path d="M376 291.32h1.6M477.6 291.32h-1.6" class="tk"/>
<text x="374.5" y="292.62" class="tl" text-anchor="end">0.6</text>
<path d="M376 286.79h1.6M477.6 286.79h-1.6" class="tk"/>
<text x="374.5" y="288.09" class="tl" text-anchor="end">0.7</text>
<path d="M376 282.26h1.6M477.6 282.26h-1.6" class="tk"/>
<text x="374.5" y="283.56" class="tl" text-anchor="end">0.8</text>
<path d="M376 277.73h1.6M477.6 277.73h-1.6" class="tk"/>
<text x="374.5" y="279.03" class="tl" text-anchor="end">0.9</text>
<path d="M376 273.2h1.6M477.6 273.2h-1.6" class="tk"/>
<text x="374.5" y="274.5" class="tl" text-anchor="end">1.0</text>
<path d="M376 268.67h1.6M477.6 268.67h-1.6" class="tk"/>
<text x="374.5" y="269.97" class="tl" text-anchor="end">1.1</text>
<path d="M376 264.14h1.6M477.6 264.14h-1.6" class="tk"/>
<text x="374.5" y="265.44" class="tl" text-anchor="end">1.2</text>
<path d="M376 259.61h1.6M477.6 259.61h-1.6" class="tk"/>
<text x="374.5" y="260.91" class="tl" text-anchor="end">1.3</text>
<path d="M376 255.08h1.6M477.6 255.08h-1.6" class="tk"/>
<text x="374.5" y="256.38" class="tl" text-anchor="end">1.4</text>
<path d="M376 328.2v-1.8M376 254.7v1.8" class="tk"/>
<text x="376" y="333.3" class="tl" text-anchor="middle">0</text>
<path d="M381.08 328.2v-1.2M381.08 254.7v1.2" class="tk"/>
<path d="M386.16 328.2v-1.8M386.16 254.7v1.8" class="tk"/>
<text x="386.16" y="333.3" class="tl" text-anchor="middle">1</text>
<path d="M391.24 328.2v-1.2M391.24 254.7v1.2" class="tk"/>
<path d="M396.32 328.2v-1.8M396.32 254.7v1.8" class="tk"/>
<text x="396.32" y="333.3" class="tl" text-anchor="middle">2</text>
<path d="M401.4 328.2v-1.2M401.4 254.7v1.2" class="tk"/>
<path d="M406.48 328.2v-1.8M406.48 254.7v1.8" class="tk"/>
<text x="406.48" y="333.3" class="tl" text-anchor="middle">3</text>
<path d="M411.56 328.2v-1.2M411.56 254.7v1.2" class="tk"/>
<path d="M416.64 328.2v-1.8M416.64 254.7v1.8" class="tk"/>
<text x="416.64" y="333.3" class="tl" text-anchor="middle">4</text>
<path d="M421.72 328.2v-1.2M421.72 254.7v1.2" class="tk"/>
<path d="M426.8 328.2v-1.8M426.8 254.7v1.8" class="tk"/>
<text x="426.8" y="333.3" class="tl" text-anchor="middle">5</text>
<path d="M431.88 328.2v-1.2M431.88 254.7v1.2" class="tk"/>
<path d="M436.96 328.2v-1.8M436.96 254.7v1.8" class="tk"/>
<text x="436.96" y="333.3" class="tl" text-anchor="middle">6</text>
<path d="M442.04 328.2v-1.2M442.04 254.7v1.2" class="tk"/>
<path d="M447.12 328.2v-1.8M447.12 254.7v1.8" class="tk"/>
<text x="447.12" y="333.3" class="tl" text-anchor="middle">7</text>
<path d="M452.2 328.2v-1.2M452.2 254.7v1.2" class="tk"/>
<path d="M457.28 328.2v-1.8M457.28 254.7v1.8" class="tk"/>
<text x="457.28" y="333.3" class="tl" text-anchor="middle">8</text>
<path d="M462.36 328.2v-1.2M462.36 254.7v1.2" class="tk"/>
<path d="M467.44 328.2v-1.8M467.44 254.7v1.8" class="tk"/>
<text x="467.44" y="333.3" class="tl" text-anchor="middle">9</text>
<path d="M472.52 328.2v-1.2M472.52 254.7v1.2" class="tk"/>
<path d="M477.6 328.2v-1.8M477.6 254.7v1.8" class="tk"/>
<text x="477.6" y="333.3" class="tl" text-anchor="middle">10</text>
<line x1="376" y1="318.5" x2="477.6" y2="318.5" class="zl"/>
<rect x="376" y="254.7" width="101.6" height="73.5" class="fr"/>
<text transform="translate(366.4,297.35) rotate(-90)" class="al" text-anchor="middle">g<tspan class="sub" dy="0.9">Si-Si</tspan><tspan dy="-0.9">(r)</tspan></text>
<text x="426.8" y="338.8" class="xl" text-anchor="middle">r (Å)</text>
<path d="M497.6 251.2h1.6M598.4 251.2h-1.6" class="tk"/>
<text x="496.1" y="252.5" class="tl" text-anchor="end">-0.5</text>
<path d="M497.6 243.1h1.6M598.4 243.1h-1.6" class="tk"/>
<text x="496.1" y="244.4" class="tl" text-anchor="end">0.0</text>
<path d="M497.6 235h1.6M598.4 235h-1.6" class="tk"/>
<text x="496.1" y="236.3" class="tl" text-anchor="end">0.5</text>
<path d="M497.6 226.9h1.6M598.4 226.9h-1.6" class="tk"/>
<text x="496.1" y="228.2" class="tl" text-anchor="end">1.0</text>
<path d="M497.6 218.8h1.6M598.4 218.8h-1.6" class="tk"/>
<text x="496.1" y="220.1" class="tl" text-anchor="end">1.5</text>
<path d="M497.6 210.7h1.6M598.4 210.7h-1.6" class="tk"/>
<text x="496.1" y="212" class="tl" text-anchor="end">2.0</text>
<path d="M497.6 202.6h1.6M598.4 202.6h-1.6" class="tk"/>
<text x="496.1" y="203.9" class="tl" text-anchor="end">2.5</text>
<path d="M497.6 194.5h1.6M598.4 194.5h-1.6" class="tk"/>
<text x="496.1" y="195.8" class="tl" text-anchor="end">3.0</text>
<path d="M497.6 186.4h1.6M598.4 186.4h-1.6" class="tk"/>
<text x="496.1" y="187.7" class="tl" text-anchor="end">3.5</text>
<path d="M497.6 178.3h1.6M598.4 178.3h-1.6" class="tk"/>
<text x="496.1" y="179.6" class="tl" text-anchor="end">4.0</text>
<path d="M500.54 251.1v-1.2M500.54 177.5v1.2" class="tk"/>
<path d="M503.6 251.1v-1.2M503.6 177.5v1.2" class="tk"/>
<path d="M506.67 251.1v-1.8M506.67 177.5v1.8" class="tk"/>
<path d="M509.74 251.1v-1.2M509.74 177.5v1.2" class="tk"/>
<path d="M512.81 251.1v-1.2M512.81 177.5v1.2" class="tk"/>
<path d="M515.88 251.1v-1.2M515.88 177.5v1.2" class="tk"/>
<path d="M518.95 251.1v-1.2M518.95 177.5v1.2" class="tk"/>
<path d="M522.01 251.1v-1.8M522.01 177.5v1.8" class="tk"/>
<path d="M525.08 251.1v-1.2M525.08 177.5v1.2" class="tk"/>
<path d="M528.15 251.1v-1.2M528.15 177.5v1.2" class="tk"/>
<path d="M531.22 251.1v-1.2M531.22 177.5v1.2" class="tk"/>
<path d="M534.29 251.1v-1.2M534.29 177.5v1.2" class="tk"/>
<path d="M537.36 251.1v-1.8M537.36 177.5v1.8" class="tk"/>
<path d="M540.42 251.1v-1.2M540.42 177.5v1.2" class="tk"/>
<path d="M543.49 251.1v-1.2M543.49 177.5v1.2" class="tk"/>
<path d="M546.56 251.1v-1.2M546.56 177.5v1.2" class="tk"/>
<path d="M549.63 251.1v-1.2M549.63 177.5v1.2" class="tk"/>
<path d="M552.7 251.1v-1.8M552.7 177.5v1.8" class="tk"/>
<path d="M555.77 251.1v-1.2M555.77 177.5v1.2" class="tk"/>
<path d="M558.83 251.1v-1.2M558.83 177.5v1.2" class="tk"/>
<path d="M561.9 251.1v-1.2M561.9 177.5v1.2" class="tk"/>
<path d="M564.97 251.1v-1.2M564.97 177.5v1.2" class="tk"/>
<path d="M568.04 251.1v-1.8M568.04 177.5v1.8" class="tk"/>
<path d="M571.11 251.1v-1.2M571.11 177.5v1.2" class="tk"/>
<path d="M574.18 251.1v-1.2M574.18 177.5v1.2" class="tk"/>
<path d="M577.24 251.1v-1.2M577.24 177.5v1.2" class="tk"/>
<path d="M580.31 251.1v-1.2M580.31 177.5v1.2" class="tk"/>
<path d="M583.38 251.1v-1.8M583.38 177.5v1.8" class="tk"/>
<path d="M586.45 251.1v-1.2M586.45 177.5v1.2" class="tk"/>
<path d="M589.52 251.1v-1.2M589.52 177.5v1.2" class="tk"/>
<path d="M592.59 251.1v-1.2M592.59 177.5v1.2" class="tk"/>
<path d="M595.65 251.1v-1.2M595.65 177.5v1.2" class="tk"/>
<text x="506.67" y="254.1" class="tl" text-anchor="middle">2.0</text>
<text x="522.01" y="254.1" class="tl" text-anchor="middle">2.5</text>
<text x="537.36" y="254.1" class="tl" text-anchor="middle">3.0</text>
<text x="552.7" y="254.1" class="tl" text-anchor="middle">3.5</text>
<text x="568.04" y="254.1" class="tl" text-anchor="middle">4.0</text>
<text x="583.38" y="254.1" class="tl" text-anchor="middle">4.5</text>
<text x="598.72" y="254.1" class="tl" text-anchor="middle">5.0</text>
<line x1="497.6" y1="243.1" x2="598.4" y2="243.1" class="zl"/>
<rect x="497.6" y="177.5" width="100.8" height="73.6" class="fr"/>
<text transform="translate(487.4,216) rotate(-90)" class="al" text-anchor="middle">n<tspan class="sub" dy="0.9">Si-Si</tspan><tspan dy="-0.9">(r)</tspan></text>
<path d="M497.6 327.56h1.6M598.4 327.56h-1.6" class="tk"/>
<text x="496.1" y="328.86" class="tl" text-anchor="end">-0.2</text>
<path d="M497.6 323.03h1.6M598.4 323.03h-1.6" class="tk"/>
<text x="496.1" y="324.33" class="tl" text-anchor="end">-0.1</text>
<path d="M497.6 318.5h1.6M598.4 318.5h-1.6" class="tk"/>
<text x="496.1" y="319.8" class="tl" text-anchor="end">0.0</text>
<path d="M497.6 313.97h1.6M598.4 313.97h-1.6" class="tk"/>
<text x="496.1" y="315.27" class="tl" text-anchor="end">0.1</text>
<path d="M497.6 309.44h1.6M598.4 309.44h-1.6" class="tk"/>
<text x="496.1" y="310.74" class="tl" text-anchor="end">0.2</text>
<path d="M497.6 304.91h1.6M598.4 304.91h-1.6" class="tk"/>
<text x="496.1" y="306.21" class="tl" text-anchor="end">0.3</text>
<path d="M497.6 300.38h1.6M598.4 300.38h-1.6" class="tk"/>
<text x="496.1" y="301.68" class="tl" text-anchor="end">0.4</text>
<path d="M497.6 295.85h1.6M598.4 295.85h-1.6" class="tk"/>
<text x="496.1" y="297.15" class="tl" text-anchor="end">0.5</text>
<path d="M497.6 291.32h1.6M598.4 291.32h-1.6" class="tk"/>
<text x="496.1" y="292.62" class="tl" text-anchor="end">0.6</text>
<path d="M497.6 286.79h1.6M598.4 286.79h-1.6" class="tk"/>
<text x="496.1" y="288.09" class="tl" text-anchor="end">0.7</text>
<path d="M497.6 282.26h1.6M598.4 282.26h-1.6" class="tk"/>
<text x="496.1" y="283.56" class="tl" text-anchor="end">0.8</text>
<path d="M497.6 277.73h1.6M598.4 277.73h-1.6" class="tk"/>
<text x="496.1" y="279.03" class="tl" text-anchor="end">0.9</text>
<path d="M497.6 273.2h1.6M598.4 273.2h-1.6" class="tk"/>
<text x="496.1" y="274.5" class="tl" text-anchor="end">1.0</text>
<path d="M497.6 268.67h1.6M598.4 268.67h-1.6" class="tk"/>
<text x="496.1" y="269.97" class="tl" text-anchor="end">1.1</text>
<path d="M497.6 264.14h1.6M598.4 264.14h-1.6" class="tk"/>
<text x="496.1" y="265.44" class="tl" text-anchor="end">1.2</text>
<path d="M497.6 259.61h1.6M598.4 259.61h-1.6" class="tk"/>
<text x="496.1" y="260.91" class="tl" text-anchor="end">1.3</text>
<path d="M497.6 255.08h1.6M598.4 255.08h-1.6" class="tk"/>
<text x="496.1" y="256.38" class="tl" text-anchor="end">1.4</text>
<path d="M497.6 328.2v-1.8M497.6 254.7v1.8" class="tk"/>
<text x="497.6" y="333.3" class="tl" text-anchor="middle">0</text>
<path d="M502.64 328.2v-1.2M502.64 254.7v1.2" class="tk"/>
<path d="M507.68 328.2v-1.8M507.68 254.7v1.8" class="tk"/>
<text x="507.68" y="333.3" class="tl" text-anchor="middle">1</text>
<path d="M512.72 328.2v-1.2M512.72 254.7v1.2" class="tk"/>
<path d="M517.76 328.2v-1.8M517.76 254.7v1.8" class="tk"/>
<text x="517.76" y="333.3" class="tl" text-anchor="middle">2</text>
<path d="M522.8 328.2v-1.2M522.8 254.7v1.2" class="tk"/>
<path d="M527.84 328.2v-1.8M527.84 254.7v1.8" class="tk"/>
<text x="527.84" y="333.3" class="tl" text-anchor="middle">3</text>
<path d="M532.88 328.2v-1.2M532.88 254.7v1.2" class="tk"/>
<path d="M537.92 328.2v-1.8M537.92 254.7v1.8" class="tk"/>
<text x="537.92" y="333.3" class="tl" text-anchor="middle">4</text>
<path d="M542.96 328.2v-1.2M542.96 254.7v1.2" class="tk"/>
<path d="M548 328.2v-1.8M548 254.7v1.8" class="tk"/>
<text x="548" y="333.3" class="tl" text-anchor="middle">5</text>
<path d="M553.04 328.2v-1.2M553.04 254.7v1.2" class="tk"/>
<path d="M558.08 328.2v-1.8M558.08 254.7v1.8" class="tk"/>
<text x="558.08" y="333.3" class="tl" text-anchor="middle">6</text>
<path d="M563.12 328.2v-1.2M563.12 254.7v1.2" class="tk"/>
<path d="M568.16 328.2v-1.8M568.16 254.7v1.8" class="tk"/>
<text x="568.16" y="333.3" class="tl" text-anchor="middle">7</text>
<path d="M573.2 328.2v-1.2M573.2 254.7v1.2" class="tk"/>
<path d="M578.24 328.2v-1.8M578.24 254.7v1.8" class="tk"/>
<text x="578.24" y="333.3" class="tl" text-anchor="middle">8</text>
<path d="M583.28 328.2v-1.2M583.28 254.7v1.2" class="tk"/>
<path d="M588.32 328.2v-1.8M588.32 254.7v1.8" class="tk"/>
<text x="588.32" y="333.3" class="tl" text-anchor="middle">9</text>
<path d="M593.36 328.2v-1.2M593.36 254.7v1.2" class="tk"/>
<path d="M598.4 328.2v-1.8M598.4 254.7v1.8" class="tk"/>
<text x="598.4" y="333.3" class="tl" text-anchor="middle">10</text>
<line x1="497.6" y1="318.5" x2="598.4" y2="318.5" class="zl"/>
<rect x="497.6" y="254.7" width="100.8" height="73.5" class="fr"/>
<text transform="translate(488,297.35) rotate(-90)" class="al" text-anchor="middle">g<tspan class="sub" dy="0.9">Si-Si</tspan><tspan dy="-0.9">(r)</tspan></text>
<text x="548" y="338.8" class="xl" text-anchor="middle">r (Å)</text>
<path d="M616.8 251.2h1.6M719 251.2h-1.6" class="tk"/>
<text x="615.3" y="252.5" class="tl" text-anchor="end">-0.5</text>
<path d="M616.8 243.1h1.6M719 243.1h-1.6" class="tk"/>
<text x="615.3" y="244.4" class="tl" text-anchor="end">0.0</text>
<path d="M616.8 235h1.6M719 235h-1.6" class="tk"/>
<text x="615.3" y="236.3" class="tl" text-anchor="end">0.5</text>
<path d="M616.8 226.9h1.6M719 226.9h-1.6" class="tk"/>
<text x="615.3" y="228.2" class="tl" text-anchor="end">1.0</text>
<path d="M616.8 218.8h1.6M719 218.8h-1.6" class="tk"/>
<text x="615.3" y="220.1" class="tl" text-anchor="end">1.5</text>
<path d="M616.8 210.7h1.6M719 210.7h-1.6" class="tk"/>
<text x="615.3" y="212" class="tl" text-anchor="end">2.0</text>
<path d="M616.8 202.6h1.6M719 202.6h-1.6" class="tk"/>
<text x="615.3" y="203.9" class="tl" text-anchor="end">2.5</text>
<path d="M616.8 194.5h1.6M719 194.5h-1.6" class="tk"/>
<text x="615.3" y="195.8" class="tl" text-anchor="end">3.0</text>
<path d="M616.8 186.4h1.6M719 186.4h-1.6" class="tk"/>
<text x="615.3" y="187.7" class="tl" text-anchor="end">3.5</text>
<path d="M616.8 178.3h1.6M719 178.3h-1.6" class="tk"/>
<text x="615.3" y="179.6" class="tl" text-anchor="end">4.0</text>
<path d="M619.78 251.1v-1.2M619.78 177.5v1.2" class="tk"/>
<path d="M622.89 251.1v-1.2M622.89 177.5v1.2" class="tk"/>
<path d="M626 251.1v-1.8M626 177.5v1.8" class="tk"/>
<path d="M629.11 251.1v-1.2M629.11 177.5v1.2" class="tk"/>
<path d="M632.22 251.1v-1.2M632.22 177.5v1.2" class="tk"/>
<path d="M635.33 251.1v-1.2M635.33 177.5v1.2" class="tk"/>
<path d="M638.44 251.1v-1.2M638.44 177.5v1.2" class="tk"/>
<path d="M641.55 251.1v-1.8M641.55 177.5v1.8" class="tk"/>
<path d="M644.66 251.1v-1.2M644.66 177.5v1.2" class="tk"/>
<path d="M647.77 251.1v-1.2M647.77 177.5v1.2" class="tk"/>
<path d="M650.89 251.1v-1.2M650.89 177.5v1.2" class="tk"/>
<path d="M654 251.1v-1.2M654 177.5v1.2" class="tk"/>
<path d="M657.11 251.1v-1.8M657.11 177.5v1.8" class="tk"/>
<path d="M660.22 251.1v-1.2M660.22 177.5v1.2" class="tk"/>
<path d="M663.33 251.1v-1.2M663.33 177.5v1.2" class="tk"/>
<path d="M666.44 251.1v-1.2M666.44 177.5v1.2" class="tk"/>
<path d="M669.55 251.1v-1.2M669.55 177.5v1.2" class="tk"/>
<path d="M672.66 251.1v-1.8M672.66 177.5v1.8" class="tk"/>
<path d="M675.77 251.1v-1.2M675.77 177.5v1.2" class="tk"/>
<path d="M678.88 251.1v-1.2M678.88 177.5v1.2" class="tk"/>
<path d="M682 251.1v-1.2M682 177.5v1.2" class="tk"/>
<path d="M685.11 251.1v-1.2M685.11 177.5v1.2" class="tk"/>
<path d="M688.22 251.1v-1.8M688.22 177.5v1.8" class="tk"/>
<path d="M691.33 251.1v-1.2M691.33 177.5v1.2" class="tk"/>
<path d="M694.44 251.1v-1.2M694.44 177.5v1.2" class="tk"/>
<path d="M697.55 251.1v-1.2M697.55 177.5v1.2" class="tk"/>
<path d="M700.66 251.1v-1.2M700.66 177.5v1.2" class="tk"/>
<path d="M703.77 251.1v-1.8M703.77 177.5v1.8" class="tk"/>
<path d="M706.88 251.1v-1.2M706.88 177.5v1.2" class="tk"/>
<path d="M709.99 251.1v-1.2M709.99 177.5v1.2" class="tk"/>
<path d="M713.11 251.1v-1.2M713.11 177.5v1.2" class="tk"/>
<path d="M716.22 251.1v-1.2M716.22 177.5v1.2" class="tk"/>
<text x="626" y="254.1" class="tl" text-anchor="middle">2.0</text>
<text x="641.55" y="254.1" class="tl" text-anchor="middle">2.5</text>
<text x="657.11" y="254.1" class="tl" text-anchor="middle">3.0</text>
<text x="672.66" y="254.1" class="tl" text-anchor="middle">3.5</text>
<text x="688.22" y="254.1" class="tl" text-anchor="middle">4.0</text>
<text x="703.77" y="254.1" class="tl" text-anchor="middle">4.5</text>
<text x="719.33" y="254.1" class="tl" text-anchor="middle">5.0</text>
<line x1="616.8" y1="243.1" x2="719" y2="243.1" class="zl"/>
<rect x="616.8" y="177.5" width="102.2" height="73.6" class="fr"/>
<text transform="translate(606.6,216) rotate(-90)" class="al" text-anchor="middle">n<tspan class="sub" dy="0.9">Si-Si</tspan><tspan dy="-0.9">(r)</tspan></text>
<path d="M616.8 327.56h1.6M719 327.56h-1.6" class="tk"/>
<text x="615.3" y="328.86" class="tl" text-anchor="end">-0.2</text>
<path d="M616.8 323.03h1.6M719 323.03h-1.6" class="tk"/>
<text x="615.3" y="324.33" class="tl" text-anchor="end">-0.1</text>
<path d="M616.8 318.5h1.6M719 318.5h-1.6" class="tk"/>
<text x="615.3" y="319.8" class="tl" text-anchor="end">0.0</text>
<path d="M616.8 313.97h1.6M719 313.97h-1.6" class="tk"/>
<text x="615.3" y="315.27" class="tl" text-anchor="end">0.1</text>
<path d="M616.8 309.44h1.6M719 309.44h-1.6" class="tk"/>
<text x="615.3" y="310.74" class="tl" text-anchor="end">0.2</text>
<path d="M616.8 304.91h1.6M719 304.91h-1.6" class="tk"/>
<text x="615.3" y="306.21" class="tl" text-anchor="end">0.3</text>
<path d="M616.8 300.38h1.6M719 300.38h-1.6" class="tk"/>
<text x="615.3" y="301.68" class="tl" text-anchor="end">0.4</text>
<path d="M616.8 295.85h1.6M719 295.85h-1.6" class="tk"/>
<text x="615.3" y="297.15" class="tl" text-anchor="end">0.5</text>
<path d="M616.8 291.32h1.6M719 291.32h-1.6" class="tk"/>
<text x="615.3" y="292.62" class="tl" text-anchor="end">0.6</text>
<path d="M616.8 286.79h1.6M719 286.79h-1.6" class="tk"/>
<text x="615.3" y="288.09" class="tl" text-anchor="end">0.7</text>
<path d="M616.8 282.26h1.6M719 282.26h-1.6" class="tk"/>
<text x="615.3" y="283.56" class="tl" text-anchor="end">0.8</text>
<path d="M616.8 277.73h1.6M719 277.73h-1.6" class="tk"/>
<text x="615.3" y="279.03" class="tl" text-anchor="end">0.9</text>
<path d="M616.8 273.2h1.6M719 273.2h-1.6" class="tk"/>
<text x="615.3" y="274.5" class="tl" text-anchor="end">1.0</text>
<path d="M616.8 268.67h1.6M719 268.67h-1.6" class="tk"/>
<text x="615.3" y="269.97" class="tl" text-anchor="end">1.1</text>
<path d="M616.8 264.14h1.6M719 264.14h-1.6" class="tk"/>
<text x="615.3" y="265.44" class="tl" text-anchor="end">1.2</text>
<path d="M616.8 259.61h1.6M719 259.61h-1.6" class="tk"/>
<text x="615.3" y="260.91" class="tl" text-anchor="end">1.3</text>
<path d="M616.8 255.08h1.6M719 255.08h-1.6" class="tk"/>
<text x="615.3" y="256.38" class="tl" text-anchor="end">1.4</text>
<path d="M616.8 328.2v-1.8M616.8 254.7v1.8" class="tk"/>
<text x="616.8" y="333.3" class="tl" text-anchor="middle">0</text>
<path d="M621.91 328.2v-1.2M621.91 254.7v1.2" class="tk"/>
<path d="M627.02 328.2v-1.8M627.02 254.7v1.8" class="tk"/>
<text x="627.02" y="333.3" class="tl" text-anchor="middle">1</text>
<path d="M632.13 328.2v-1.2M632.13 254.7v1.2" class="tk"/>
<path d="M637.24 328.2v-1.8M637.24 254.7v1.8" class="tk"/>
<text x="637.24" y="333.3" class="tl" text-anchor="middle">2</text>
<path d="M642.35 328.2v-1.2M642.35 254.7v1.2" class="tk"/>
<path d="M647.46 328.2v-1.8M647.46 254.7v1.8" class="tk"/>
<text x="647.46" y="333.3" class="tl" text-anchor="middle">3</text>
<path d="M652.57 328.2v-1.2M652.57 254.7v1.2" class="tk"/>
<path d="M657.68 328.2v-1.8M657.68 254.7v1.8" class="tk"/>
<text x="657.68" y="333.3" class="tl" text-anchor="middle">4</text>
<path d="M662.79 328.2v-1.2M662.79 254.7v1.2" class="tk"/>
<path d="M667.9 328.2v-1.8M667.9 254.7v1.8" class="tk"/>
<text x="667.9" y="333.3" class="tl" text-anchor="middle">5</text>
<path d="M673.01 328.2v-1.2M673.01 254.7v1.2" class="tk"/>
<path d="M678.12 328.2v-1.8M678.12 254.7v1.8" class="tk"/>
<text x="678.12" y="333.3" class="tl" text-anchor="middle">6</text>
<path d="M683.23 328.2v-1.2M683.23 254.7v1.2" class="tk"/>
<path d="M688.34 328.2v-1.8M688.34 254.7v1.8" class="tk"/>
<text x="688.34" y="333.3" class="tl" text-anchor="middle">7</text>
<path d="M693.45 328.2v-1.2M693.45 254.7v1.2" class="tk"/>
<path d="M698.56 328.2v-1.8M698.56 254.7v1.8" class="tk"/>
<text x="698.56" y="333.3" class="tl" text-anchor="middle">8</text>
<path d="M703.67 328.2v-1.2M703.67 254.7v1.2" class="tk"/>
<path d="M708.78 328.2v-1.8M708.78 254.7v1.8" class="tk"/>
<text x="708.78" y="333.3" class="tl" text-anchor="middle">9</text>
<path d="M713.89 328.2v-1.2M713.89 254.7v1.2" class="tk"/>
<path d="M719 328.2v-1.8M719 254.7v1.8" class="tk"/>
<text x="719" y="333.3" class="tl" text-anchor="middle">10</text>
<line x1="616.8" y1="318.5" x2="719" y2="318.5" class="zl"/>
<rect x="616.8" y="254.7" width="102.2" height="73.5" class="fr"/>
<text transform="translate(607.2,297.35) rotate(-90)" class="al" text-anchor="middle">g<tspan class="sub" dy="0.9">Si-Si</tspan><tspan dy="-0.9">(r)</tspan></text>
<text x="667.9" y="338.8" class="xl" text-anchor="middle">r (Å)</text>
<rect x="71.7" y="8.5" width="13.5" height="15.2" fill="#000"/>
<text x="78.45" y="19.2" class="pl" text-anchor="middle">(a)</text>
<rect x="360.8" y="8.4" width="13.7" height="15.2" fill="#000"/>
<text x="367.65" y="19.1" class="pl" text-anchor="middle">(b)</text>
<rect x="0.9" y="178.3" width="13.5" height="15.4" fill="#000"/>
<text x="7.65" y="189.1" class="pl" text-anchor="middle">(c)</text>
<rect x="362.9" y="177.6" width="13" height="15.2" fill="#000"/>
<text x="369.4" y="188.3" class="pl" text-anchor="middle">(d)</text>
<path d="M103.04,73.60 L103.98,73.60 L104.91,73.53 L105.85,73.35 L106.79,73.09 L107.73,72.77 L108.67,72.38 L109.61,71.91 L110.54,71.39 L111.48,70.83 L112.42,70.22 L113.36,69.58 L114.30,68.93 L115.23,68.26 L116.17,67.59 L117.11,66.92 L118.05,66.26 L118.99,65.60 L119.93,64.95 L120.86,64.30 L121.80,63.65 L122.74,63.01 L123.68,62.36 L124.62,61.72 L125.56,61.08 L126.49,60.44 L127.43,59.80 L128.37,59.15 L129.31,58.51 L130.25,57.87 L131.18,57.22 L132.12,56.58 L133.06,55.92 L134.00,55.27 L134.94,54.61 L135.88,53.95 L136.81,53.29 L137.75,52.62 L138.69,51.94 L139.63,51.26 L140.57,50.58 L141.50,49.90 L142.44,49.21 L143.38,48.52 L144.32,47.83 L145.26,47.14 L146.20,46.44 L147.13,45.74 L148.07,45.05 L149.01,44.35 L149.95,43.65 L150.89,42.95 L151.82,42.25 L152.76,41.55 L153.70,40.86 L154.64,40.16 L155.58,39.46 L156.52,38.75 L157.45,38.03 L158.39,37.30 L159.33,36.56 L160.27,35.79 L161.21,35.00 L162.14,34.18 L163.08,33.34 L164.02,32.46 L164.96,31.54 L165.90,30.58 L166.84,29.58 L167.77,28.54 L168.71,27.45 L169.65,26.34 L170.59,25.20 L171.53,24.03 L172.47,22.85 L173.40,21.67 L174.34,20.47 L175.28,19.28 L176.22,18.10 L177.16,16.92 L178.09,15.76 L179.03,14.63 L179.97,13.53 L180.91,12.48 L181.85,11.49 L182.79,10.58 L183.72,9.76 L184.66,9.06 L185.60,8.49" class="cv" stroke="#ff4040"/>
<path d="M85.40,73.60 L104.00,73.60 L104.92,73.60 L105.83,73.60 L106.75,73.56 L107.67,73.42 L108.58,73.26 L109.50,73.07 L110.42,72.85 L111.33,72.60 L112.25,72.33 L113.17,72.04 L114.09,71.72 L115.00,71.39 L115.92,71.04 L116.84,70.68 L117.75,70.30 L118.67,69.91 L119.59,69.52 L120.50,69.11 L121.42,68.69 L122.34,68.26 L123.25,67.82 L124.17,67.36 L125.09,66.88 L126.00,66.39 L126.92,65.88 L127.84,65.35 L128.76,64.80 L129.67,64.23 L130.59,63.64 L131.51,63.03 L132.42,62.40 L133.34,61.77 L134.26,61.14 L135.17,60.50 L136.09,59.87 L137.01,59.25 L137.92,58.64 L138.84,58.04 L139.76,57.44 L140.67,56.84 L141.59,56.23 L142.51,55.61 L143.42,54.97 L144.34,54.30 L145.26,53.61 L146.18,52.88 L147.09,52.13 L148.01,51.35 L148.93,50.55 L149.84,49.73 L150.76,48.90 L151.68,48.06 L152.59,47.20 L153.51,46.35 L154.43,45.49 L155.34,44.63 L156.26,43.76 L157.18,42.90 L158.09,42.03 L159.01,41.16 L159.93,40.29 L160.84,39.41 L161.76,38.53 L162.68,37.65 L163.60,36.76 L164.51,35.87 L165.43,34.98 L166.35,34.07 L167.26,33.14 L168.18,32.18 L169.10,31.18 L170.01,30.14 L170.93,29.05 L171.85,27.91 L172.76,26.73 L173.68,25.53 L174.60,24.31 L175.51,23.08 L176.43,21.86 L177.35,20.66 L178.27,19.49 L179.18,18.35 L180.10,17.24 L181.02,16.14 L181.93,15.05 L182.85,13.93 L183.77,12.78 L184.68,11.58 L185.60,10.30" class="cv" stroke="#4949b3"/>
<path d="M111.50,149.30 L111.69,149.10 L111.85,148.79 L111.99,148.40 L112.12,147.95 L112.24,147.46 L112.36,146.96 L112.47,146.46 L112.60,146.00 L112.75,145.51 L112.89,145.02 L113.03,144.54 L113.18,144.04 L113.31,143.52 L113.45,142.96 L113.58,142.36 L113.70,141.70 L113.90,140.38 L114.09,138.83 L114.26,137.11 L114.43,135.31 L114.58,133.50 L114.73,131.74 L114.87,130.12 L115.00,128.70 L115.08,127.89 L115.16,127.15 L115.23,126.47 L115.30,125.81 L115.37,125.16 L115.44,124.49 L115.52,123.78 L115.60,123.00 L115.72,121.82 L115.84,120.54 L115.97,119.19 L116.10,117.80 L116.24,116.40 L116.39,115.01 L116.54,113.67 L116.70,112.40 L116.84,111.34 L116.98,110.28 L117.13,109.22 L117.28,108.19 L117.44,107.20 L117.61,106.26 L117.80,105.39 L118.00,104.60 L118.14,104.12 L118.29,103.64 L118.44,103.19 L118.60,102.76 L118.76,102.37 L118.93,102.02 L119.11,101.73 L119.30,101.50 L119.41,101.40 L119.52,101.30 L119.63,101.22 L119.74,101.15 L119.86,101.10 L119.97,101.07 L120.09,101.07 L120.20,101.10 L120.47,101.33 L120.74,101.78 L121.01,102.40 L121.28,103.13 L121.56,103.94 L121.84,104.77 L122.12,105.57 L122.40,106.30 L122.71,107.04 L123.03,107.79 L123.36,108.55 L123.69,109.32 L124.02,110.09 L124.34,110.86 L124.67,111.63 L125.00,112.40 L125.32,113.18 L125.63,114.00 L125.93,114.82 L126.24,115.64 L126.55,116.43 L126.88,117.19 L127.23,117.88 L127.60,118.50 L127.89,118.93 L128.19,119.36 L128.50,119.77 L128.81,120.15 L129.14,120.48 L129.48,120.76 L129.83,120.97 L130.20,121.10 L130.59,121.13 L131.01,121.07 L131.44,120.94 L131.88,120.75 L132.33,120.52 L132.79,120.28 L133.25,120.03 L133.70,119.80 L134.23,119.53 L134.77,119.24 L135.32,118.92 L135.87,118.59 L136.42,118.24 L136.96,117.89 L137.49,117.54 L138.00,117.20 L138.46,116.89 L138.91,116.58 L139.36,116.27 L139.79,115.95 L140.22,115.63 L140.65,115.30 L141.08,114.96 L141.50,114.60 L141.95,114.19 L142.41,113.73 L142.86,113.26 L143.31,112.78 L143.75,112.30 L144.18,111.86 L144.60,111.45 L145.00,111.10 L145.27,110.89 L145.52,110.70 L145.77,110.53 L146.01,110.37 L146.25,110.22 L146.49,110.08 L146.74,109.94 L147.00,109.80 L147.27,109.65 L147.55,109.51 L147.83,109.37 L148.12,109.23 L148.40,109.10 L148.70,108.99 L149.00,108.88 L149.30,108.80 L149.62,108.73 L149.95,108.68 L150.28,108.64 L150.62,108.61 L150.96,108.60 L151.31,108.59 L151.65,108.59 L152.00,108.60 L152.37,108.62 L152.74,108.67 L153.11,108.73 L153.49,108.80 L153.87,108.87 L154.25,108.93 L154.62,108.97 L155.00,109.00 L155.37,109.00 L155.75,108.99 L156.12,108.97 L156.50,108.94 L156.87,108.91 L157.25,108.87 L157.63,108.83 L158.00,108.80 L158.38,108.78 L158.77,108.77 L159.16,108.76 L159.55,108.74 L159.94,108.72 L160.31,108.68 L160.67,108.61 L161.00,108.50 L161.28,108.36 L161.54,108.19 L161.79,107.99 L162.03,107.77 L162.27,107.56 L162.50,107.35 L162.75,107.16 L163.00,107.00 L163.24,106.88 L163.48,106.76 L163.73,106.65 L163.97,106.56 L164.22,106.47 L164.48,106.40 L164.74,106.34 L165.00,106.30 L165.30,106.28 L165.60,106.29 L165.91,106.32 L166.23,106.36 L166.55,106.41 L166.87,106.45 L167.19,106.49 L167.50,106.50 L167.81,106.50 L168.12,106.48 L168.43,106.46 L168.74,106.44 L169.05,106.41 L169.36,106.38 L169.68,106.34 L170.00,106.30 L170.36,106.25 L170.73,106.20 L171.11,106.13 L171.48,106.07 L171.86,106.00 L172.24,105.93 L172.62,105.86 L173.00,105.80 L173.37,105.73 L173.74,105.67 L174.11,105.60 L174.48,105.53 L174.85,105.46 L175.22,105.40 L175.61,105.34 L176.00,105.30 L176.46,105.26 L176.94,105.21 L177.43,105.18 L177.92,105.15 L178.41,105.13 L178.89,105.13 L179.36,105.15 L179.80,105.20 L180.15,105.27 L180.50,105.39 L180.83,105.53 L181.16,105.67 L181.47,105.81 L181.79,105.92 L182.10,105.99 L182.40,106.00 L182.68,105.95 L182.96,105.86 L183.24,105.73 L183.51,105.57 L183.77,105.41 L184.03,105.25 L184.27,105.11 L184.50,105.00 L184.65,104.94 L184.80,104.88 L184.94,104.83 L185.07,104.78 L185.20,104.74 L185.33,104.69 L185.46,104.65 L185.60,104.60" class="cv" stroke="#ff4040"/>
<path d="M85.40,149.30 L112.40,149.30 L112.58,149.13 L112.74,148.87 L112.88,148.55 L113.01,148.17 L113.14,147.77 L113.26,147.34 L113.38,146.91 L113.50,146.50 L113.65,145.97 L113.80,145.42 L113.94,144.84 L114.07,144.24 L114.20,143.63 L114.33,142.99 L114.47,142.35 L114.60,141.70 L114.76,140.90 L114.93,140.08 L115.09,139.23 L115.26,138.37 L115.42,137.49 L115.58,136.60 L115.74,135.70 L115.90,134.80 L116.06,133.80 L116.22,132.77 L116.37,131.72 L116.52,130.66 L116.68,129.60 L116.84,128.55 L117.01,127.51 L117.20,126.50 L117.38,125.55 L117.55,124.59 L117.72,123.62 L117.90,122.67 L118.10,121.75 L118.33,120.87 L118.59,120.05 L118.90,119.30 L119.16,118.78 L119.43,118.29 L119.72,117.82 L120.03,117.38 L120.36,116.98 L120.72,116.59 L121.09,116.23 L121.50,115.90 L121.97,115.57 L122.49,115.26 L123.04,114.98 L123.62,114.72 L124.21,114.51 L124.79,114.33 L125.36,114.19 L125.90,114.10 L126.34,114.07 L126.77,114.08 L127.20,114.12 L127.62,114.19 L128.04,114.28 L128.46,114.38 L128.88,114.49 L129.30,114.60 L129.74,114.72 L130.19,114.86 L130.64,115.02 L131.09,115.19 L131.53,115.36 L131.97,115.54 L132.39,115.72 L132.80,115.90 L133.15,116.07 L133.48,116.26 L133.80,116.46 L134.12,116.66 L134.44,116.84 L134.75,117.00 L135.07,117.13 L135.40,117.20 L135.72,117.23 L136.04,117.22 L136.36,117.18 L136.68,117.12 L137.01,117.04 L137.33,116.94 L137.66,116.82 L138.00,116.70 L138.43,116.52 L138.86,116.32 L139.31,116.09 L139.76,115.83 L140.20,115.55 L140.65,115.25 L141.08,114.93 L141.50,114.60 L141.97,114.17 L142.42,113.68 L142.87,113.14 L143.32,112.58 L143.75,112.04 L144.18,111.52 L144.59,111.07 L145.00,110.70 L145.26,110.50 L145.51,110.34 L145.76,110.19 L146.00,110.06 L146.25,109.94 L146.49,109.83 L146.74,109.72 L147.00,109.60 L147.27,109.47 L147.55,109.34 L147.83,109.21 L148.12,109.09 L148.41,108.97 L148.70,108.86 L149.00,108.77 L149.30,108.70 L149.62,108.64 L149.95,108.60 L150.28,108.58 L150.62,108.57 L150.96,108.57 L151.31,108.57 L151.65,108.58 L152.00,108.60 L152.37,108.63 L152.74,108.67 L153.11,108.72 L153.49,108.78 L153.87,108.84 L154.25,108.90 L154.62,108.96 L155.00,109.00 L155.37,109.03 L155.75,109.06 L156.12,109.09 L156.50,109.11 L156.87,109.13 L157.25,109.15 L157.62,109.18 L158.00,109.20 L158.38,109.22 L158.75,109.25 L159.12,109.28 L159.50,109.30 L159.88,109.33 L160.25,109.35 L160.62,109.38 L161.00,109.40 L161.38,109.43 L161.77,109.47 L162.15,109.52 L162.54,109.56 L162.92,109.60 L163.30,109.62 L163.66,109.62 L164.00,109.60 L164.27,109.56 L164.53,109.52 L164.78,109.47 L165.03,109.40 L165.27,109.32 L165.51,109.23 L165.75,109.12 L166.00,109.00 L166.31,108.81 L166.62,108.57 L166.92,108.30 L167.23,108.01 L167.54,107.73 L167.86,107.45 L168.17,107.20 L168.50,107.00 L168.80,106.85 L169.09,106.73 L169.39,106.62 L169.69,106.53 L170.00,106.44 L170.32,106.36 L170.65,106.28 L171.00,106.20 L171.49,106.09 L172.01,105.99 L172.55,105.89 L173.12,105.79 L173.69,105.71 L174.27,105.63 L174.84,105.56 L175.40,105.50 L175.96,105.45 L176.53,105.40 L177.10,105.35 L177.67,105.32 L178.23,105.29 L178.78,105.28 L179.31,105.28 L179.80,105.30 L180.16,105.33 L180.49,105.37 L180.81,105.43 L181.13,105.49 L181.43,105.56 L181.75,105.62 L182.07,105.66 L182.40,105.70 L182.78,105.72 L183.18,105.73 L183.57,105.73 L183.98,105.73 L184.38,105.72 L184.79,105.71 L185.20,105.70 L185.60,105.70" class="cv" stroke="#4949b3"/>
<path d="M220.45,73.50 L221.39,73.50 L222.34,73.39 L223.28,73.19 L224.23,72.94 L225.18,72.64 L226.12,72.28 L227.07,71.87 L228.01,71.41 L228.96,70.91 L229.91,70.36 L230.85,69.78 L231.80,69.17 L232.74,68.54 L233.69,67.89 L234.64,67.24 L235.58,66.58 L236.53,65.93 L237.48,65.29 L238.42,64.67 L239.37,64.07 L240.31,63.47 L241.26,62.89 L242.21,62.31 L243.15,61.75 L244.10,61.19 L245.04,60.63 L245.99,60.08 L246.94,59.53 L247.88,58.98 L248.83,58.42 L249.77,57.87 L250.72,57.31 L251.67,56.74 L252.61,56.16 L253.56,55.57 L254.50,54.98 L255.45,54.36 L256.40,53.74 L257.34,53.10 L258.29,52.43 L259.23,51.75 L260.18,51.05 L261.13,50.33 L262.07,49.58 L263.02,48.81 L263.97,48.01 L264.91,47.21 L265.86,46.40 L266.80,45.60 L267.75,44.80 L268.70,44.02 L269.64,43.26 L270.59,42.54 L271.53,41.85 L272.48,41.20 L273.43,40.56 L274.37,39.91 L275.32,39.22 L276.26,38.47 L277.21,37.66 L278.16,36.81 L279.10,35.92 L280.05,35.01 L280.99,34.09 L281.94,33.16 L282.89,32.21 L283.83,31.25 L284.78,30.25 L285.72,29.22 L286.67,28.16 L287.62,27.07 L288.56,25.95 L289.51,24.81 L290.46,23.65 L291.40,22.47 L292.35,21.28 L293.29,20.09 L294.24,18.89 L295.19,17.69 L296.13,16.49 L297.08,15.31 L298.02,14.14 L298.97,13.01 L299.92,11.94 L300.86,10.94 L301.81,10.02 L302.75,9.21 L303.70,8.53" class="cv" stroke="#ff4040"/>
<path d="M203.40,73.50 L221.00,73.50 L221.93,73.50 L222.86,73.50 L223.79,73.50 L224.72,73.50 L225.65,73.42 L226.58,73.31 L227.50,73.17 L228.43,73.01 L229.36,72.83 L230.29,72.62 L231.22,72.39 L232.15,72.13 L233.08,71.84 L234.01,71.53 L234.94,71.20 L235.87,70.84 L236.80,70.45 L237.73,70.04 L238.66,69.61 L239.58,69.15 L240.51,68.67 L241.44,68.17 L242.37,67.64 L243.30,67.11 L244.23,66.55 L245.16,65.98 L246.09,65.40 L247.02,64.81 L247.95,64.20 L248.88,63.59 L249.81,62.97 L250.73,62.34 L251.66,61.71 L252.59,61.08 L253.52,60.44 L254.45,59.80 L255.38,59.16 L256.31,58.53 L257.24,57.89 L258.17,57.25 L259.10,56.61 L260.03,55.95 L260.96,55.29 L261.89,54.62 L262.81,53.93 L263.74,53.23 L264.67,52.50 L265.60,51.76 L266.53,50.99 L267.46,50.21 L268.39,49.41 L269.32,48.59 L270.25,47.75 L271.18,46.90 L272.11,46.04 L273.04,45.16 L273.97,44.26 L274.89,43.36 L275.82,42.44 L276.75,41.51 L277.68,40.57 L278.61,39.61 L279.54,38.65 L280.47,37.67 L281.40,36.69 L282.33,35.69 L283.26,34.68 L284.19,33.66 L285.12,32.64 L286.04,31.60 L286.97,30.55 L287.90,29.50 L288.83,28.43 L289.76,27.36 L290.69,26.28 L291.62,25.19 L292.55,24.09 L293.48,22.98 L294.41,21.87 L295.34,20.74 L296.27,19.61 L297.20,18.46 L298.12,17.31 L299.05,16.15 L299.98,14.98 L300.91,13.80 L301.84,12.62 L302.77,11.42 L303.70,10.22" class="cv" stroke="#4949b3"/>
<path d="M230.00,149.00 L230.15,148.90 L230.29,148.77 L230.42,148.60 L230.55,148.42 L230.67,148.21 L230.79,147.98 L230.90,147.74 L231.00,147.50 L231.13,147.11 L231.25,146.69 L231.34,146.24 L231.42,145.75 L231.49,145.23 L231.56,144.68 L231.62,144.11 L231.70,143.50 L231.83,142.43 L231.95,141.24 L232.06,139.96 L232.18,138.61 L232.29,137.21 L232.39,135.79 L232.50,134.38 L232.60,133.00 L232.71,131.52 L232.81,130.01 L232.90,128.47 L232.99,126.92 L233.09,125.39 L233.18,123.88 L233.29,122.41 L233.40,121.00 L233.50,119.85 L233.61,118.71 L233.71,117.60 L233.83,116.52 L233.94,115.45 L234.06,114.41 L234.18,113.39 L234.30,112.40 L234.39,111.55 L234.47,110.67 L234.53,109.79 L234.61,108.94 L234.70,108.14 L234.82,107.41 L234.98,106.79 L235.20,106.30 L235.33,106.09 L235.48,105.90 L235.64,105.74 L235.80,105.59 L235.97,105.48 L236.14,105.39 L236.32,105.33 L236.50,105.30 L236.70,105.31 L236.91,105.37 L237.13,105.46 L237.35,105.59 L237.58,105.74 L237.79,105.91 L238.00,106.10 L238.20,106.30 L238.46,106.62 L238.71,107.00 L238.95,107.42 L239.18,107.88 L239.39,108.36 L239.60,108.85 L239.80,109.33 L240.00,109.80 L240.18,110.28 L240.34,110.78 L240.49,111.30 L240.63,111.81 L240.77,112.32 L240.93,112.81 L241.10,113.27 L241.30,113.70 L241.48,114.02 L241.67,114.32 L241.87,114.60 L242.07,114.87 L242.29,115.13 L242.52,115.39 L242.75,115.64 L243.00,115.90 L243.29,116.18 L243.59,116.44 L243.90,116.70 L244.23,116.96 L244.56,117.21 L244.90,117.47 L245.25,117.73 L245.60,118.00 L246.02,118.36 L246.45,118.78 L246.90,119.23 L247.35,119.68 L247.81,120.08 L248.25,120.41 L248.69,120.63 L249.10,120.70 L249.45,120.63 L249.78,120.44 L250.10,120.17 L250.42,119.85 L250.74,119.49 L251.05,119.13 L251.37,118.79 L251.70,118.50 L252.02,118.26 L252.33,118.03 L252.65,117.80 L252.97,117.58 L253.29,117.36 L253.62,117.15 L253.95,116.93 L254.30,116.70 L254.71,116.44 L255.13,116.18 L255.56,115.93 L255.99,115.67 L256.44,115.41 L256.89,115.14 L257.34,114.87 L257.80,114.60 L258.31,114.28 L258.84,113.93 L259.38,113.58 L259.93,113.22 L260.47,112.87 L261.00,112.54 L261.51,112.25 L262.00,112.00 L262.35,111.83 L262.68,111.67 L263.01,111.52 L263.33,111.38 L263.65,111.27 L263.96,111.18 L264.28,111.12 L264.60,111.10 L264.92,111.14 L265.24,111.25 L265.56,111.40 L265.88,111.57 L266.20,111.74 L266.53,111.89 L266.86,111.98 L267.20,112.00 L267.62,111.92 L268.04,111.76 L268.48,111.53 L268.92,111.27 L269.36,110.98 L269.81,110.69 L270.26,110.42 L270.70,110.20 L271.14,110.01 L271.58,109.81 L272.02,109.62 L272.47,109.43 L272.91,109.26 L273.35,109.11 L273.78,108.99 L274.20,108.90 L274.54,108.86 L274.87,108.84 L275.20,108.85 L275.52,108.86 L275.84,108.89 L276.16,108.90 L276.48,108.91 L276.80,108.90 L277.12,108.86 L277.44,108.81 L277.76,108.75 L278.08,108.68 L278.40,108.62 L278.72,108.56 L279.06,108.52 L279.40,108.50 L279.82,108.50 L280.27,108.53 L280.73,108.57 L281.20,108.63 L281.66,108.69 L282.10,108.76 L282.52,108.83 L282.90,108.90 L283.14,108.95 L283.36,109.02 L283.56,109.10 L283.76,109.17 L283.95,109.24 L284.15,109.28 L284.37,109.31 L284.60,109.30 L284.99,109.21 L285.40,109.05 L285.85,108.83 L286.31,108.58 L286.77,108.31 L287.23,108.04 L287.68,107.80 L288.10,107.60 L288.44,107.45 L288.77,107.31 L289.10,107.16 L289.42,107.03 L289.74,106.91 L290.05,106.81 L290.37,106.74 L290.70,106.70 L291.02,106.70 L291.35,106.73 L291.67,106.79 L292.00,106.87 L292.32,106.96 L292.65,107.05 L292.97,107.13 L293.30,107.20 L293.63,107.27 L293.95,107.35 L294.28,107.44 L294.61,107.52 L294.94,107.59 L295.26,107.63 L295.58,107.64 L295.90,107.60 L296.23,107.48 L296.56,107.28 L296.88,107.03 L297.20,106.75 L297.52,106.47 L297.84,106.22 L298.17,106.02 L298.50,105.90 L298.82,105.86 L299.14,105.87 L299.46,105.91 L299.79,105.98 L300.12,106.07 L300.45,106.16 L300.77,106.24 L301.10,106.30 L301.43,106.35 L301.75,106.40 L302.08,106.45 L302.40,106.50 L302.73,106.55 L303.05,106.60 L303.38,106.65 L303.70,106.70" class="cv" stroke="#ff4040"/>
<path d="M203.40,149.00 L231.00,149.00 L231.24,148.73 L231.47,148.30 L231.68,147.76 L231.88,147.12 L232.07,146.42 L232.25,145.70 L232.43,144.98 L232.60,144.30 L232.79,143.51 L232.97,142.69 L233.14,141.84 L233.30,140.97 L233.45,140.08 L233.60,139.19 L233.75,138.29 L233.90,137.40 L234.07,136.44 L234.23,135.47 L234.40,134.48 L234.56,133.49 L234.72,132.50 L234.88,131.52 L235.04,130.55 L235.20,129.60 L235.34,128.74 L235.47,127.89 L235.59,127.05 L235.72,126.22 L235.85,125.40 L235.99,124.59 L236.14,123.79 L236.30,123.00 L236.46,122.28 L236.62,121.54 L236.78,120.81 L236.95,120.09 L237.14,119.40 L237.34,118.75 L237.56,118.14 L237.80,117.60 L237.98,117.25 L238.17,116.93 L238.36,116.63 L238.56,116.35 L238.77,116.09 L239.00,115.84 L239.24,115.61 L239.50,115.40 L239.78,115.20 L240.08,115.02 L240.39,114.85 L240.71,114.70 L241.05,114.57 L241.39,114.46 L241.74,114.37 L242.10,114.30 L242.51,114.26 L242.93,114.26 L243.37,114.30 L243.81,114.36 L244.26,114.42 L244.71,114.49 L245.16,114.56 L245.60,114.60 L246.04,114.62 L246.48,114.64 L246.92,114.64 L247.35,114.65 L247.79,114.67 L248.23,114.69 L248.67,114.73 L249.10,114.80 L249.55,114.89 L250.01,115.00 L250.48,115.12 L250.95,115.25 L251.40,115.40 L251.83,115.56 L252.23,115.72 L252.60,115.90 L252.85,116.06 L253.07,116.25 L253.28,116.46 L253.47,116.66 L253.66,116.86 L253.86,117.02 L254.07,117.14 L254.30,117.20 L254.59,117.19 L254.91,117.10 L255.23,116.95 L255.56,116.77 L255.90,116.55 L256.24,116.33 L256.58,116.10 L256.90,115.90 L257.23,115.70 L257.56,115.49 L257.89,115.27 L258.22,115.04 L258.54,114.81 L258.86,114.58 L259.18,114.34 L259.50,114.10 L259.82,113.85 L260.13,113.60 L260.45,113.33 L260.76,113.07 L261.07,112.80 L261.38,112.54 L261.69,112.27 L262.00,112.00 L262.32,111.72 L262.63,111.44 L262.94,111.16 L263.26,110.87 L263.58,110.59 L263.90,110.32 L264.24,110.05 L264.60,109.80 L265.00,109.54 L265.42,109.29 L265.85,109.04 L266.29,108.80 L266.74,108.58 L267.20,108.37 L267.65,108.17 L268.10,108.00 L268.53,107.84 L268.98,107.69 L269.43,107.55 L269.87,107.43 L270.32,107.33 L270.76,107.25 L271.19,107.21 L271.60,107.20 L271.94,107.23 L272.27,107.30 L272.59,107.39 L272.90,107.50 L273.22,107.62 L273.53,107.75 L273.86,107.88 L274.20,108.00 L274.61,108.16 L275.04,108.34 L275.47,108.54 L275.92,108.74 L276.36,108.92 L276.81,109.09 L277.26,109.22 L277.70,109.30 L278.12,109.33 L278.55,109.31 L278.97,109.27 L279.39,109.20 L279.82,109.12 L280.25,109.04 L280.67,108.96 L281.10,108.90 L281.54,108.86 L281.99,108.82 L282.44,108.80 L282.89,108.77 L283.33,108.73 L283.77,108.68 L284.19,108.60 L284.60,108.50 L284.95,108.38 L285.28,108.23 L285.60,108.07 L285.91,107.90 L286.22,107.72 L286.53,107.54 L286.86,107.36 L287.20,107.20 L287.61,107.02 L288.03,106.84 L288.47,106.66 L288.91,106.49 L289.35,106.32 L289.80,106.16 L290.25,106.02 L290.70,105.90 L291.13,105.80 L291.57,105.72 L292.01,105.65 L292.44,105.60 L292.88,105.55 L293.32,105.50 L293.76,105.45 L294.20,105.40 L294.64,105.33 L295.09,105.26 L295.54,105.18 L295.99,105.10 L296.43,105.04 L296.87,104.99 L297.29,104.98 L297.70,105.00 L298.04,105.06 L298.37,105.17 L298.69,105.31 L299.00,105.46 L299.31,105.60 L299.63,105.74 L299.96,105.84 L300.30,105.90 L300.70,105.91 L301.11,105.89 L301.54,105.83 L301.97,105.75 L302.40,105.66 L302.84,105.56 L303.27,105.47 L303.70,105.40" class="cv" stroke="#4949b3"/>
<path d="M389.77,73.50 L390.73,73.50 L391.70,73.40 L392.67,73.20 L393.63,72.96 L394.60,72.67 L395.56,72.33 L396.53,71.95 L397.50,71.53 L398.46,71.08 L399.43,70.59 L400.40,70.07 L401.36,69.53 L402.33,68.97 L403.29,68.39 L404.26,67.80 L405.23,67.21 L406.19,66.62 L407.16,66.03 L408.13,65.45 L409.09,64.88 L410.06,64.32 L411.02,63.75 L411.99,63.19 L412.96,62.63 L413.92,62.07 L414.89,61.51 L415.86,60.94 L416.82,60.36 L417.79,59.78 L418.76,59.18 L419.72,58.58 L420.69,57.97 L421.65,57.35 L422.62,56.73 L423.59,56.09 L424.55,55.45 L425.52,54.80 L426.49,54.14 L427.45,53.48 L428.42,52.81 L429.38,52.13 L430.35,51.45 L431.32,50.75 L432.28,50.06 L433.25,49.35 L434.22,48.64 L435.18,47.93 L436.15,47.22 L437.11,46.50 L438.08,45.78 L439.05,45.06 L440.01,44.34 L440.98,43.62 L441.95,42.91 L442.91,42.19 L443.88,41.48 L444.84,40.76 L445.81,40.05 L446.78,39.32 L447.74,38.59 L448.71,37.86 L449.68,37.11 L450.64,36.35 L451.61,35.58 L452.58,34.80 L453.54,33.99 L454.51,33.17 L455.47,32.34 L456.44,31.47 L457.41,30.59 L458.37,29.68 L459.34,28.75 L460.31,27.76 L461.27,26.70 L462.24,25.56 L463.20,24.33 L464.17,23.06 L465.14,21.79 L466.10,20.53 L467.07,19.30 L468.04,18.12 L469.00,17.00 L469.97,15.92 L470.93,14.88 L471.90,13.87 L472.87,12.89 L473.83,11.92 L474.80,10.97" class="cv" stroke="#ff4040"/>
<path d="M374.50,73.50 L391.00,73.50 L391.94,73.50 L392.88,73.50 L393.82,73.50 L394.77,73.50 L395.71,73.43 L396.65,73.32 L397.59,73.18 L398.53,73.01 L399.47,72.82 L400.42,72.60 L401.36,72.35 L402.30,72.08 L403.24,71.77 L404.18,71.44 L405.12,71.07 L406.07,70.68 L407.01,70.25 L407.95,69.80 L408.89,69.31 L409.83,68.80 L410.77,68.27 L411.71,67.72 L412.66,67.15 L413.60,66.57 L414.54,65.97 L415.48,65.37 L416.42,64.77 L417.36,64.16 L418.31,63.55 L419.25,62.95 L420.19,62.34 L421.13,61.74 L422.07,61.13 L423.01,60.52 L423.96,59.90 L424.90,59.28 L425.84,58.66 L426.78,58.03 L427.72,57.39 L428.66,56.74 L429.60,56.09 L430.55,55.42 L431.49,54.74 L432.43,54.06 L433.37,53.36 L434.31,52.65 L435.25,51.92 L436.20,51.18 L437.14,50.42 L438.08,49.65 L439.02,48.86 L439.96,48.05 L440.90,47.23 L441.84,46.40 L442.79,45.56 L443.73,44.70 L444.67,43.83 L445.61,42.94 L446.55,42.05 L447.49,41.15 L448.44,40.23 L449.38,39.31 L450.32,38.37 L451.26,37.41 L452.20,36.44 L453.14,35.46 L454.09,34.46 L455.03,33.45 L455.97,32.42 L456.91,31.37 L457.85,30.31 L458.79,29.23 L459.73,28.12 L460.68,27.00 L461.62,25.86 L462.56,24.70 L463.50,23.52 L464.44,22.33 L465.38,21.13 L466.33,19.92 L467.27,18.72 L468.21,17.52 L469.15,16.33 L470.09,15.15 L471.03,13.98 L471.98,12.84 L472.92,11.71 L473.86,10.62 L474.80,9.56" class="cv" stroke="#4949b3"/>
<path d="M400.40,148.50 L400.53,148.37 L400.64,148.18 L400.74,147.94 L400.82,147.68 L400.89,147.39 L400.96,147.09 L401.03,146.79 L401.10,146.50 L401.19,146.17 L401.27,145.84 L401.35,145.50 L401.42,145.16 L401.49,144.79 L401.56,144.40 L401.63,143.97 L401.70,143.50 L401.83,142.50 L401.95,141.33 L402.06,140.04 L402.17,138.67 L402.28,137.24 L402.39,135.79 L402.49,134.37 L402.60,133.00 L402.70,131.63 L402.79,130.25 L402.87,128.86 L402.95,127.47 L403.04,126.08 L403.14,124.70 L403.26,123.34 L403.40,122.00 L403.56,120.75 L403.73,119.49 L403.91,118.23 L404.11,116.99 L404.32,115.78 L404.54,114.60 L404.76,113.47 L405.00,112.40 L405.19,111.54 L405.39,110.61 L405.59,109.67 L405.80,108.77 L406.02,107.97 L406.24,107.32 L406.47,106.88 L406.70,106.70 L406.85,106.75 L407.01,106.90 L407.17,107.15 L407.34,107.46 L407.50,107.82 L407.67,108.19 L407.83,108.56 L408.00,108.90 L408.21,109.37 L408.42,109.94 L408.64,110.55 L408.85,111.16 L409.07,111.74 L409.30,112.23 L409.54,112.60 L409.80,112.80 L409.96,112.83 L410.14,112.81 L410.32,112.75 L410.50,112.66 L410.68,112.55 L410.86,112.43 L411.03,112.31 L411.20,112.20 L411.36,112.07 L411.51,111.91 L411.66,111.73 L411.80,111.55 L411.94,111.38 L412.09,111.24 L412.24,111.14 L412.40,111.10 L412.60,111.12 L412.80,111.21 L413.02,111.34 L413.23,111.52 L413.45,111.72 L413.67,111.94 L413.89,112.17 L414.10,112.40 L414.38,112.74 L414.67,113.13 L414.94,113.56 L415.22,114.01 L415.49,114.48 L415.76,114.96 L416.03,115.44 L416.30,115.90 L416.57,116.39 L416.83,116.92 L417.08,117.45 L417.33,117.99 L417.60,118.51 L417.87,119.00 L418.17,119.43 L418.50,119.80 L418.79,120.05 L419.09,120.28 L419.41,120.49 L419.75,120.66 L420.08,120.81 L420.42,120.94 L420.76,121.03 L421.10,121.10 L421.42,121.14 L421.75,121.15 L422.08,121.13 L422.41,121.09 L422.74,121.03 L423.07,120.94 L423.39,120.83 L423.70,120.70 L424.04,120.52 L424.37,120.30 L424.69,120.04 L425.01,119.76 L425.32,119.45 L425.64,119.14 L425.96,118.82 L426.30,118.50 L426.72,118.11 L427.15,117.69 L427.59,117.26 L428.04,116.81 L428.49,116.35 L428.93,115.90 L429.37,115.44 L429.80,115.00 L430.21,114.56 L430.61,114.09 L431.01,113.61 L431.40,113.14 L431.79,112.69 L432.19,112.27 L432.59,111.90 L433.00,111.60 L433.33,111.43 L433.66,111.31 L434.01,111.22 L434.35,111.15 L434.69,111.08 L435.02,111.00 L435.32,110.87 L435.60,110.70 L435.86,110.46 L436.10,110.18 L436.31,109.87 L436.51,109.53 L436.70,109.18 L436.89,108.82 L437.09,108.46 L437.30,108.10 L437.56,107.68 L437.83,107.22 L438.10,106.75 L438.37,106.28 L438.65,105.81 L438.93,105.37 L439.21,104.96 L439.50,104.60 L439.72,104.34 L439.94,104.08 L440.17,103.83 L440.40,103.60 L440.62,103.40 L440.85,103.24 L441.08,103.13 L441.30,103.10 L441.52,103.14 L441.73,103.26 L441.95,103.43 L442.16,103.64 L442.37,103.88 L442.58,104.13 L442.79,104.38 L443.00,104.60 L443.21,104.84 L443.42,105.10 L443.62,105.38 L443.82,105.66 L444.02,105.94 L444.23,106.19 L444.46,106.41 L444.70,106.60 L444.95,106.74 L445.21,106.84 L445.48,106.93 L445.76,106.99 L446.05,107.05 L446.33,107.10 L446.62,107.15 L446.90,107.20 L447.17,107.26 L447.45,107.33 L447.73,107.39 L448.01,107.45 L448.28,107.50 L448.56,107.53 L448.83,107.53 L449.10,107.50 L449.38,107.41 L449.66,107.26 L449.94,107.07 L450.21,106.86 L450.48,106.66 L450.75,106.48 L451.03,106.36 L451.30,106.30 L451.56,106.31 L451.82,106.37 L452.08,106.47 L452.34,106.59 L452.61,106.73 L452.87,106.89 L453.13,107.05 L453.40,107.20 L453.72,107.41 L454.05,107.68 L454.38,107.98 L454.71,108.29 L455.04,108.57 L455.37,108.80 L455.69,108.95 L456.00,109.00 L456.29,108.94 L456.57,108.80 L456.85,108.60 L457.13,108.35 L457.40,108.07 L457.67,107.77 L457.94,107.47 L458.20,107.20 L458.48,106.90 L458.75,106.57 L459.01,106.22 L459.27,105.86 L459.54,105.51 L459.81,105.18 L460.10,104.87 L460.40,104.60 L460.70,104.37 L461.02,104.14 L461.34,103.93 L461.68,103.73 L462.01,103.56 L462.35,103.43 L462.68,103.34 L463.00,103.30 L463.28,103.32 L463.56,103.38 L463.84,103.48 L464.12,103.60 L464.39,103.75 L464.66,103.90 L464.93,104.06 L465.20,104.20 L465.47,104.36 L465.73,104.54 L465.99,104.74 L466.25,104.94 L466.50,105.13 L466.76,105.30 L467.03,105.42 L467.30,105.50 L467.56,105.52 L467.83,105.48 L468.10,105.42 L468.37,105.33 L468.65,105.23 L468.93,105.13 L469.21,105.05 L469.50,105.00 L469.81,104.97 L470.13,104.94 L470.46,104.92 L470.79,104.91 L471.12,104.91 L471.45,104.93 L471.77,104.96 L472.10,105.00 L472.44,105.07 L472.78,105.16 L473.11,105.27 L473.45,105.39 L473.79,105.52 L474.13,105.65 L474.46,105.78 L474.80,105.90" class="cv" stroke="#ff4040"/>
<path d="M374.50,148.50 L401.30,148.50 L401.41,148.42 L401.51,148.31 L401.61,148.19 L401.69,148.04 L401.77,147.88 L401.85,147.70 L401.92,147.50 L402.00,147.30 L402.14,146.87 L402.28,146.38 L402.40,145.83 L402.52,145.23 L402.64,144.59 L402.76,143.94 L402.88,143.27 L403.00,142.60 L403.16,141.72 L403.32,140.78 L403.48,139.80 L403.64,138.80 L403.81,137.78 L403.97,136.77 L404.13,135.77 L404.30,134.80 L404.46,133.90 L404.61,133.01 L404.76,132.11 L404.92,131.23 L405.08,130.36 L405.24,129.49 L405.42,128.64 L405.60,127.80 L405.78,127.04 L405.97,126.30 L406.16,125.57 L406.37,124.84 L406.57,124.13 L406.78,123.41 L406.99,122.71 L407.20,122.00 L407.40,121.31 L407.61,120.62 L407.83,119.92 L408.04,119.23 L408.26,118.56 L408.47,117.91 L408.69,117.29 L408.90,116.70 L409.05,116.26 L409.17,115.81 L409.29,115.37 L409.42,114.94 L409.55,114.55 L409.72,114.20 L409.93,113.91 L410.20,113.70 L410.56,113.56 L410.98,113.52 L411.45,113.55 L411.95,113.64 L412.48,113.76 L413.03,113.89 L413.57,114.01 L414.10,114.10 L414.72,114.19 L415.37,114.29 L416.04,114.39 L416.72,114.51 L417.40,114.63 L418.06,114.75 L418.70,114.87 L419.30,115.00 L419.78,115.11 L420.25,115.21 L420.72,115.32 L421.17,115.44 L421.61,115.55 L422.03,115.67 L422.42,115.78 L422.80,115.90 L423.05,116.00 L423.29,116.11 L423.51,116.24 L423.73,116.36 L423.94,116.46 L424.15,116.55 L424.37,116.60 L424.60,116.60 L424.90,116.54 L425.22,116.41 L425.53,116.23 L425.86,116.01 L426.19,115.76 L426.52,115.50 L426.86,115.24 L427.20,115.00 L427.62,114.71 L428.06,114.40 L428.52,114.07 L428.98,113.74 L429.43,113.40 L429.87,113.06 L430.30,112.72 L430.70,112.40 L431.01,112.13 L431.31,111.85 L431.59,111.57 L431.86,111.30 L432.13,111.03 L432.41,110.77 L432.70,110.53 L433.00,110.30 L433.31,110.10 L433.62,109.92 L433.94,109.74 L434.27,109.58 L434.60,109.43 L434.94,109.28 L435.27,109.14 L435.60,109.00 L435.92,108.87 L436.23,108.74 L436.55,108.62 L436.87,108.51 L437.19,108.40 L437.52,108.29 L437.85,108.19 L438.20,108.10 L438.61,108.00 L439.03,107.90 L439.45,107.81 L439.89,107.73 L440.33,107.65 L440.78,107.59 L441.24,107.54 L441.70,107.50 L442.21,107.48 L442.74,107.48 L443.28,107.50 L443.82,107.53 L444.36,107.57 L444.91,107.62 L445.46,107.66 L446.00,107.70 L446.55,107.74 L447.11,107.80 L447.67,107.85 L448.23,107.91 L448.78,107.97 L449.33,108.03 L449.87,108.07 L450.40,108.10 L450.86,108.13 L451.32,108.16 L451.77,108.19 L452.22,108.21 L452.65,108.22 L453.08,108.21 L453.50,108.17 L453.90,108.10 L454.25,108.00 L454.59,107.86 L454.92,107.70 L455.24,107.53 L455.55,107.34 L455.86,107.15 L456.18,106.97 L456.50,106.80 L456.82,106.63 L457.14,106.46 L457.45,106.28 L457.77,106.11 L458.09,105.93 L458.41,105.77 L458.75,105.63 L459.10,105.50 L459.51,105.38 L459.93,105.29 L460.37,105.21 L460.81,105.15 L461.26,105.09 L461.71,105.03 L462.16,104.97 L462.60,104.90 L463.03,104.82 L463.45,104.73 L463.88,104.64 L464.30,104.54 L464.72,104.46 L465.15,104.39 L465.57,104.33 L466.00,104.30 L466.43,104.29 L466.87,104.31 L467.31,104.34 L467.75,104.39 L468.18,104.44 L468.62,104.50 L469.06,104.55 L469.50,104.60 L469.95,104.65 L470.40,104.70 L470.86,104.75 L471.32,104.80 L471.77,104.86 L472.21,104.91 L472.62,104.96 L473.00,105.00 L473.25,105.03 L473.49,105.06 L473.72,105.08 L473.94,105.10 L474.15,105.13 L474.36,105.15 L474.58,105.18 L474.80,105.20" class="cv" stroke="#4949b3"/>
<path d="M514.91,73.50 L515.82,73.50 L516.73,73.42 L517.64,73.19 L518.55,72.89 L519.46,72.52 L520.37,72.08 L521.28,71.58 L522.19,71.03 L523.10,70.43 L524.01,69.78 L524.92,69.09 L525.83,68.38 L526.74,67.64 L527.65,66.88 L528.56,66.12 L529.47,65.35 L530.38,64.59 L531.29,63.85 L532.20,63.12 L533.11,62.42 L534.02,61.75 L534.93,61.10 L535.84,60.48 L536.75,59.87 L537.66,59.29 L538.57,58.72 L539.48,58.16 L540.39,57.61 L541.30,57.08 L542.21,56.54 L543.12,56.02 L544.03,55.49 L544.94,54.97 L545.85,54.44 L546.76,53.91 L547.67,53.37 L548.58,52.82 L549.49,52.27 L550.40,51.69 L551.31,51.11 L552.22,50.50 L553.13,49.87 L554.04,49.22 L554.96,48.55 L555.87,47.86 L556.78,47.16 L557.69,46.44 L558.60,45.73 L559.51,45.02 L560.42,44.32 L561.33,43.63 L562.24,42.95 L563.15,42.27 L564.06,41.60 L564.97,40.92 L565.88,40.24 L566.79,39.54 L567.70,38.82 L568.61,38.08 L569.52,37.32 L570.43,36.54 L571.34,35.73 L572.25,34.90 L573.16,34.04 L574.07,33.14 L574.98,32.22 L575.89,31.26 L576.80,30.26 L577.71,29.23 L578.62,28.16 L579.53,27.06 L580.44,25.93 L581.35,24.77 L582.26,23.58 L583.17,22.39 L584.08,21.18 L584.99,19.97 L585.90,18.76 L586.81,17.55 L587.72,16.37 L588.63,15.20 L589.54,14.05 L590.45,12.94 L591.36,11.88 L592.27,10.89 L593.18,9.97 L594.09,9.16 L595.00,8.46" class="cv" stroke="#ff4040"/>
<path d="M496.50,73.50 L516.00,73.50 L516.91,73.50 L517.82,73.50 L518.73,73.50 L519.64,73.41 L520.55,73.28 L521.46,73.12 L522.37,72.93 L523.28,72.71 L524.19,72.46 L525.10,72.18 L526.01,71.87 L526.92,71.54 L527.83,71.18 L528.74,70.79 L529.65,70.37 L530.56,69.92 L531.47,69.46 L532.38,68.97 L533.29,68.46 L534.20,67.93 L535.11,67.39 L536.02,66.83 L536.93,66.26 L537.84,65.69 L538.75,65.10 L539.66,64.51 L540.57,63.92 L541.48,63.33 L542.39,62.73 L543.30,62.13 L544.21,61.53 L545.12,60.93 L546.03,60.33 L546.94,59.73 L547.85,59.13 L548.76,58.54 L549.67,57.94 L550.58,57.35 L551.49,56.75 L552.40,56.14 L553.31,55.52 L554.22,54.89 L555.13,54.24 L556.04,53.57 L556.96,52.89 L557.87,52.18 L558.78,51.44 L559.69,50.69 L560.60,49.92 L561.51,49.13 L562.42,48.33 L563.33,47.51 L564.24,46.68 L565.15,45.85 L566.06,45.00 L566.97,44.16 L567.88,43.30 L568.79,42.45 L569.70,41.59 L570.61,40.73 L571.52,39.87 L572.43,38.99 L573.34,38.11 L574.25,37.22 L575.16,36.32 L576.07,35.41 L576.98,34.49 L577.89,33.56 L578.80,32.62 L579.71,31.66 L580.62,30.68 L581.53,29.69 L582.44,28.68 L583.35,27.66 L584.26,26.62 L585.17,25.57 L586.08,24.50 L586.99,23.42 L587.90,22.33 L588.81,21.22 L589.72,20.10 L590.63,18.97 L591.54,17.84 L592.45,16.69 L593.36,15.54 L594.27,14.37 L595.18,13.20 L596.09,12.03 L597.00,10.84" class="cv" stroke="#4949b3"/>
<path d="M523.00,149.30 L523.22,149.05 L523.42,148.66 L523.59,148.17 L523.75,147.59 L523.90,146.95 L524.04,146.29 L524.17,145.63 L524.30,145.00 L524.45,144.22 L524.58,143.40 L524.70,142.55 L524.81,141.68 L524.91,140.78 L525.00,139.87 L525.10,138.94 L525.20,138.00 L525.32,136.88 L525.44,135.72 L525.56,134.52 L525.67,133.31 L525.78,132.09 L525.89,130.87 L526.00,129.67 L526.10,128.50 L526.20,127.43 L526.29,126.40 L526.38,125.38 L526.46,124.36 L526.55,123.34 L526.63,122.28 L526.72,121.17 L526.80,120.00 L526.90,118.34 L527.00,116.54 L527.09,114.65 L527.18,112.71 L527.28,110.77 L527.37,108.88 L527.48,107.07 L527.60,105.40 L527.70,104.18 L527.80,102.98 L527.90,101.82 L528.01,100.69 L528.13,99.61 L528.25,98.58 L528.37,97.61 L528.50,96.70 L528.59,96.09 L528.66,95.44 L528.74,94.80 L528.83,94.19 L528.92,93.66 L529.02,93.22 L529.15,92.93 L529.30,92.80 L529.45,92.84 L529.61,92.98 L529.80,93.21 L529.99,93.51 L530.18,93.85 L530.37,94.23 L530.54,94.62 L530.70,95.00 L530.92,95.66 L531.11,96.43 L531.28,97.27 L531.43,98.17 L531.57,99.10 L531.71,100.05 L531.85,100.99 L532.00,101.90 L532.16,102.86 L532.32,103.86 L532.48,104.86 L532.63,105.88 L532.79,106.88 L532.95,107.86 L533.12,108.80 L533.30,109.70 L533.45,110.40 L533.59,111.08 L533.73,111.73 L533.87,112.38 L534.03,113.00 L534.20,113.61 L534.39,114.21 L534.60,114.80 L534.81,115.34 L535.04,115.88 L535.28,116.41 L535.53,116.92 L535.79,117.42 L536.08,117.89 L536.38,118.31 L536.70,118.70 L536.99,118.99 L537.29,119.24 L537.61,119.48 L537.94,119.69 L538.27,119.88 L538.62,120.06 L538.96,120.23 L539.30,120.40 L539.63,120.57 L539.97,120.75 L540.32,120.94 L540.67,121.10 L541.02,121.24 L541.36,121.33 L541.69,121.35 L542.00,121.30 L542.37,121.10 L542.72,120.76 L543.06,120.32 L543.38,119.81 L543.70,119.27 L544.00,118.73 L544.30,118.23 L544.60,117.80 L544.82,117.50 L545.02,117.20 L545.22,116.90 L545.41,116.61 L545.61,116.34 L545.82,116.10 L546.05,115.88 L546.30,115.70 L546.58,115.56 L546.89,115.47 L547.21,115.41 L547.55,115.38 L547.89,115.35 L548.23,115.31 L548.57,115.27 L548.90,115.20 L549.23,115.12 L549.56,115.05 L549.89,114.99 L550.22,114.91 L550.55,114.81 L550.87,114.69 L551.19,114.52 L551.50,114.30 L551.97,113.81 L552.42,113.14 L552.86,112.36 L553.29,111.51 L553.72,110.66 L554.14,109.85 L554.57,109.14 L555.00,108.60 L555.28,108.32 L555.55,108.06 L555.83,107.82 L556.11,107.60 L556.39,107.42 L556.66,107.29 L556.93,107.22 L557.20,107.20 L557.47,107.28 L557.72,107.46 L557.97,107.71 L558.22,108.01 L558.47,108.31 L558.73,108.60 L559.01,108.84 L559.30,109.00 L559.61,109.08 L559.93,109.11 L560.27,109.11 L560.62,109.08 L560.97,109.05 L561.32,109.01 L561.66,108.99 L562.00,109.00 L562.33,109.02 L562.65,109.05 L562.98,109.08 L563.30,109.11 L563.63,109.16 L563.95,109.22 L564.27,109.30 L564.60,109.40 L564.98,109.57 L565.36,109.80 L565.74,110.07 L566.12,110.35 L566.50,110.62 L566.87,110.85 L567.24,111.02 L567.60,111.10 L567.89,111.10 L568.17,111.06 L568.44,110.98 L568.71,110.87 L568.98,110.74 L569.25,110.60 L569.53,110.45 L569.80,110.30 L570.12,110.12 L570.43,109.90 L570.75,109.67 L571.06,109.42 L571.38,109.17 L571.71,108.93 L572.05,108.70 L572.40,108.50 L572.80,108.30 L573.23,108.13 L573.66,107.96 L574.11,107.81 L574.56,107.66 L575.01,107.51 L575.46,107.36 L575.90,107.20 L576.33,107.04 L576.77,106.89 L577.20,106.74 L577.64,106.58 L578.07,106.43 L578.49,106.26 L578.90,106.09 L579.30,105.90 L579.66,105.69 L580.00,105.45 L580.34,105.18 L580.67,104.92 L581.00,104.67 L581.33,104.46 L581.66,104.29 L582.00,104.20 L582.32,104.18 L582.64,104.22 L582.97,104.29 L583.30,104.40 L583.62,104.52 L583.95,104.65 L584.28,104.78 L584.60,104.90 L584.93,105.02 L585.25,105.16 L585.57,105.31 L585.90,105.46 L586.22,105.60 L586.54,105.73 L586.87,105.83 L587.20,105.90 L587.52,105.93 L587.84,105.92 L588.15,105.89 L588.47,105.85 L588.79,105.80 L589.12,105.75 L589.46,105.72 L589.80,105.70 L590.21,105.71 L590.64,105.73 L591.07,105.77 L591.51,105.81 L591.96,105.85 L592.41,105.88 L592.85,105.90 L593.30,105.90 L593.76,105.88 L594.22,105.84 L594.68,105.80 L595.14,105.74 L595.61,105.68 L596.07,105.61 L596.54,105.55 L597.00,105.50" class="cv" stroke="#ff4040"/>
<path d="M496.50,149.30 L523.90,149.30 L524.05,149.15 L524.19,148.94 L524.30,148.67 L524.41,148.36 L524.51,148.03 L524.61,147.68 L524.70,147.34 L524.80,147.00 L524.92,146.59 L525.04,146.17 L525.15,145.73 L525.26,145.28 L525.37,144.82 L525.48,144.33 L525.59,143.83 L525.70,143.30 L525.86,142.53 L526.02,141.72 L526.18,140.86 L526.35,139.96 L526.51,139.05 L526.68,138.13 L526.84,137.21 L527.00,136.30 L527.17,135.34 L527.34,134.35 L527.52,133.35 L527.69,132.34 L527.86,131.35 L528.02,130.37 L528.17,129.41 L528.30,128.50 L528.39,127.77 L528.45,127.06 L528.51,126.37 L528.56,125.69 L528.61,125.02 L528.68,124.35 L528.77,123.68 L528.90,123.00 L529.06,122.28 L529.25,121.55 L529.46,120.81 L529.69,120.07 L529.93,119.35 L530.19,118.66 L530.44,118.00 L530.70,117.40 L530.90,116.96 L531.10,116.52 L531.32,116.09 L531.53,115.69 L531.75,115.31 L531.97,114.98 L532.19,114.71 L532.40,114.50 L532.51,114.42 L532.61,114.35 L532.72,114.30 L532.82,114.26 L532.93,114.23 L533.04,114.21 L533.17,114.20 L533.30,114.20 L533.56,114.23 L533.85,114.32 L534.16,114.44 L534.49,114.59 L534.84,114.75 L535.19,114.92 L535.55,115.07 L535.90,115.20 L536.30,115.33 L536.71,115.47 L537.13,115.61 L537.56,115.75 L538.00,115.87 L538.43,115.97 L538.87,116.05 L539.30,116.10 L539.74,116.11 L540.18,116.10 L540.63,116.05 L541.08,115.99 L541.52,115.92 L541.96,115.84 L542.39,115.77 L542.80,115.70 L543.14,115.63 L543.48,115.55 L543.80,115.45 L544.12,115.36 L544.43,115.28 L544.75,115.22 L545.07,115.19 L545.40,115.20 L545.78,115.29 L546.16,115.45 L546.55,115.66 L546.94,115.89 L547.33,116.12 L547.72,116.31 L548.11,116.45 L548.50,116.50 L548.88,116.47 L549.27,116.38 L549.65,116.25 L550.04,116.08 L550.42,115.88 L550.79,115.66 L551.15,115.43 L551.50,115.20 L551.86,114.93 L552.23,114.62 L552.59,114.29 L552.93,113.94 L553.26,113.58 L553.57,113.24 L553.85,112.90 L554.10,112.60 L554.24,112.41 L554.35,112.23 L554.45,112.05 L554.54,111.88 L554.63,111.71 L554.73,111.54 L554.85,111.37 L555.00,111.20 L555.25,110.96 L555.52,110.72 L555.83,110.48 L556.16,110.24 L556.51,110.01 L556.87,109.79 L557.23,109.59 L557.60,109.40 L558.00,109.21 L558.41,109.04 L558.84,108.89 L559.28,108.74 L559.72,108.61 L560.18,108.49 L560.64,108.39 L561.10,108.30 L561.61,108.22 L562.14,108.15 L562.67,108.10 L563.22,108.07 L563.76,108.05 L564.31,108.05 L564.86,108.07 L565.40,108.10 L565.95,108.17 L566.51,108.27 L567.07,108.40 L567.63,108.54 L568.18,108.68 L568.73,108.82 L569.27,108.93 L569.80,109.00 L570.26,109.04 L570.70,109.07 L571.14,109.09 L571.58,109.10 L572.01,109.10 L572.44,109.08 L572.87,109.05 L573.30,109.00 L573.73,108.93 L574.16,108.85 L574.58,108.74 L575.01,108.63 L575.43,108.50 L575.85,108.37 L576.28,108.24 L576.70,108.10 L577.14,107.95 L577.57,107.80 L578.01,107.63 L578.45,107.46 L578.89,107.29 L579.32,107.12 L579.76,106.96 L580.20,106.80 L580.64,106.65 L581.07,106.49 L581.51,106.33 L581.94,106.18 L582.38,106.04 L582.82,105.91 L583.26,105.79 L583.70,105.70 L584.13,105.63 L584.56,105.58 L584.99,105.55 L585.42,105.53 L585.86,105.52 L586.30,105.52 L586.74,105.51 L587.20,105.50 L587.71,105.49 L588.23,105.48 L588.76,105.48 L589.29,105.49 L589.83,105.49 L590.38,105.49 L590.93,105.50 L591.50,105.50 L592.16,105.50 L592.83,105.50 L593.51,105.50 L594.21,105.50 L594.91,105.50 L595.61,105.50 L596.31,105.50 L597.00,105.50" class="cv" stroke="#4949b3"/>
<path d="M616.60,73.50 L634.00,73.50 L634.94,73.50 L635.87,73.50 L636.81,73.40 L637.74,73.20 L638.68,72.94 L639.62,72.61 L640.55,72.21 L641.49,71.74 L642.42,71.21 L643.36,70.64 L644.30,70.03 L645.23,69.38 L646.17,68.72 L647.10,68.05 L648.04,67.37 L648.98,66.69 L649.91,66.03 L650.85,65.39 L651.78,64.75 L652.72,64.13 L653.66,63.52 L654.59,62.92 L655.53,62.33 L656.46,61.74 L657.40,61.16 L658.33,60.58 L659.27,60.01 L660.21,59.44 L661.14,58.86 L662.08,58.29 L663.01,57.72 L663.95,57.14 L664.89,56.55 L665.82,55.96 L666.76,55.37 L667.69,54.76 L668.63,54.15 L669.57,53.52 L670.50,52.88 L671.44,52.23 L672.37,51.57 L673.31,50.88 L674.25,50.18 L675.18,49.46 L676.12,48.73 L677.05,47.99 L677.99,47.24 L678.93,46.48 L679.86,45.73 L680.80,44.97 L681.73,44.22 L682.67,43.47 L683.61,42.74 L684.54,42.02 L685.48,41.31 L686.41,40.61 L687.35,39.91 L688.29,39.20 L689.22,38.50 L690.16,37.78 L691.09,37.05 L692.03,36.30 L692.97,35.53 L693.90,34.74 L694.84,33.93 L695.77,33.08 L696.71,32.19 L697.64,31.27 L698.58,30.30 L699.52,29.29 L700.45,28.23 L701.39,27.13 L702.32,26.00 L703.26,24.85 L704.20,23.67 L705.13,22.49 L706.07,21.29 L707.00,20.10 L707.94,18.91 L708.88,17.74 L709.81,16.58 L710.75,15.46 L711.68,14.36 L712.62,13.31 L713.56,12.30 L714.49,11.35 L715.43,10.45 L716.36,9.62 L717.30,8.86" class="cv" stroke="#ff4040"/>
<path d="M616.60,148.50 L642.90,148.50 L643.01,148.43 L643.11,148.34 L643.20,148.23 L643.29,148.10 L643.37,147.96 L643.45,147.81 L643.53,147.66 L643.60,147.50 L643.70,147.27 L643.78,147.03 L643.86,146.78 L643.93,146.50 L644.00,146.21 L644.07,145.90 L644.13,145.56 L644.20,145.20 L644.32,144.45 L644.43,143.59 L644.53,142.64 L644.62,141.62 L644.71,140.56 L644.81,139.49 L644.90,138.43 L645.00,137.40 L645.11,136.33 L645.22,135.25 L645.33,134.15 L645.44,133.05 L645.56,131.94 L645.67,130.85 L645.78,129.77 L645.90,128.70 L646.01,127.73 L646.12,126.78 L646.22,125.85 L646.33,124.92 L646.44,123.98 L646.56,123.02 L646.68,122.03 L646.80,121.00 L646.96,119.63 L647.13,118.16 L647.31,116.63 L647.50,115.07 L647.68,113.53 L647.86,112.05 L648.04,110.66 L648.20,109.40 L648.31,108.61 L648.41,107.84 L648.51,107.11 L648.61,106.41 L648.70,105.74 L648.80,105.12 L648.90,104.53 L649.00,104.00 L649.06,103.68 L649.11,103.34 L649.17,103.01 L649.22,102.69 L649.28,102.42 L649.34,102.20 L649.41,102.06 L649.50,102.00 L649.63,102.07 L649.77,102.30 L649.93,102.63 L650.10,103.06 L650.28,103.54 L650.46,104.04 L650.63,104.54 L650.80,105.00 L651.01,105.59 L651.22,106.23 L651.42,106.90 L651.63,107.59 L651.84,108.29 L652.06,108.98 L652.27,109.66 L652.50,110.30 L652.71,110.88 L652.92,111.46 L653.13,112.05 L653.34,112.62 L653.57,113.18 L653.80,113.70 L654.04,114.17 L654.30,114.60 L654.49,114.87 L654.68,115.13 L654.88,115.36 L655.08,115.57 L655.30,115.77 L655.52,115.96 L655.75,116.14 L656.00,116.30 L656.29,116.47 L656.61,116.64 L656.94,116.80 L657.29,116.94 L657.63,117.06 L657.97,117.15 L658.30,117.20 L658.60,117.20 L658.83,117.14 L659.06,117.03 L659.27,116.87 L659.48,116.70 L659.69,116.54 L659.89,116.40 L660.10,116.31 L660.30,116.30 L660.53,116.38 L660.75,116.53 L660.97,116.75 L661.18,117.00 L661.40,117.28 L661.62,117.57 L661.86,117.85 L662.10,118.10 L662.40,118.39 L662.70,118.72 L663.02,119.06 L663.35,119.40 L663.68,119.72 L664.02,119.98 L664.36,120.19 L664.70,120.30 L665.01,120.32 L665.33,120.27 L665.66,120.16 L665.98,120.02 L666.31,119.86 L666.64,119.69 L666.97,119.53 L667.30,119.40 L667.63,119.29 L667.96,119.19 L668.30,119.09 L668.64,118.99 L668.97,118.88 L669.29,118.77 L669.61,118.64 L669.90,118.50 L670.15,118.37 L670.39,118.23 L670.63,118.09 L670.86,117.94 L671.08,117.78 L671.29,117.61 L671.50,117.41 L671.70,117.20 L671.94,116.90 L672.17,116.57 L672.39,116.22 L672.61,115.84 L672.81,115.44 L673.01,115.04 L673.21,114.62 L673.40,114.20 L673.61,113.68 L673.80,113.12 L673.98,112.53 L674.15,111.94 L674.33,111.35 L674.52,110.78 L674.74,110.26 L675.00,109.80 L675.24,109.45 L675.49,109.09 L675.76,108.74 L676.05,108.42 L676.34,108.14 L676.63,107.91 L676.92,107.76 L677.20,107.70 L677.46,107.74 L677.72,107.87 L677.99,108.06 L678.25,108.31 L678.51,108.58 L678.78,108.87 L679.04,109.15 L679.30,109.40 L679.58,109.69 L679.86,110.03 L680.14,110.41 L680.42,110.77 L680.69,111.11 L680.97,111.38 L681.23,111.55 L681.50,111.60 L681.78,111.48 L682.06,111.21 L682.33,110.81 L682.59,110.34 L682.86,109.83 L683.13,109.33 L683.41,108.87 L683.70,108.50 L683.96,108.23 L684.22,107.98 L684.49,107.73 L684.77,107.50 L685.05,107.28 L685.33,107.09 L685.61,106.93 L685.90,106.80 L686.16,106.70 L686.42,106.62 L686.69,106.55 L686.96,106.50 L687.23,106.47 L687.50,106.48 L687.75,106.52 L688.00,106.60 L688.30,106.79 L688.57,107.09 L688.82,107.46 L689.07,107.88 L689.33,108.31 L689.59,108.72 L689.88,109.10 L690.20,109.40 L690.55,109.65 L690.92,109.88 L691.32,110.11 L691.73,110.30 L692.14,110.47 L692.55,110.59 L692.94,110.67 L693.30,110.70 L693.58,110.68 L693.86,110.63 L694.13,110.55 L694.40,110.44 L694.65,110.31 L694.91,110.16 L695.16,109.99 L695.40,109.80 L695.69,109.51 L695.96,109.16 L696.21,108.75 L696.45,108.32 L696.70,107.89 L696.97,107.48 L697.27,107.11 L697.60,106.80 L697.97,106.55 L698.37,106.32 L698.80,106.12 L699.24,105.95 L699.69,105.81 L700.16,105.68 L700.63,105.58 L701.10,105.50 L701.61,105.45 L702.13,105.45 L702.67,105.48 L703.21,105.54 L703.76,105.60 L704.31,105.66 L704.86,105.70 L705.40,105.70 L705.95,105.66 L706.51,105.60 L707.07,105.52 L707.63,105.42 L708.19,105.34 L708.73,105.26 L709.27,105.21 L709.80,105.20 L710.27,105.23 L710.73,105.30 L711.20,105.40 L711.66,105.50 L712.10,105.60 L712.53,105.67 L712.93,105.71 L713.30,105.70 L713.54,105.66 L713.77,105.59 L713.98,105.51 L714.18,105.41 L714.37,105.31 L714.57,105.20 L714.78,105.10 L715.00,105.00 L715.27,104.89 L715.55,104.78 L715.84,104.67 L716.13,104.56 L716.42,104.44 L716.72,104.33 L717.01,104.21 L717.30,104.10" class="cv" stroke="#ff4040"/>
<path d="M34.32,243.40 L35.25,243.40 L36.17,243.29 L37.10,243.08 L38.02,242.77 L38.95,242.37 L39.87,241.91 L40.80,241.38 L41.72,240.80 L42.65,240.19 L43.57,239.55 L44.50,238.90 L45.42,238.24 L46.35,237.60 L47.27,236.97 L48.20,236.36 L49.12,235.77 L50.04,235.19 L50.97,234.62 L51.89,234.07 L52.82,233.53 L53.74,232.99 L54.67,232.47 L55.59,231.96 L56.52,231.45 L57.44,230.95 L58.37,230.45 L59.29,229.96 L60.22,229.47 L61.14,228.98 L62.07,228.49 L62.99,228.00 L63.92,227.51 L64.84,227.02 L65.77,226.52 L66.69,226.02 L67.61,225.51 L68.54,224.99 L69.46,224.47 L70.39,223.94 L71.31,223.41 L72.24,222.86 L73.16,222.31 L74.09,221.75 L75.01,221.18 L75.94,220.61 L76.86,220.02 L77.79,219.43 L78.71,218.83 L79.64,218.21 L80.56,217.59 L81.49,216.96 L82.41,216.32 L83.33,215.66 L84.26,215.00 L85.18,214.32 L86.11,213.63 L87.03,212.94 L87.96,212.23 L88.88,211.50 L89.81,210.77 L90.73,210.02 L91.66,209.26 L92.58,208.48 L93.51,207.69 L94.43,206.88 L95.36,206.05 L96.28,205.18 L97.21,204.29 L98.13,203.36 L99.06,202.39 L99.98,201.37 L100.90,200.31 L101.83,199.20 L102.75,198.05 L103.68,196.86 L104.60,195.67 L105.53,194.47 L106.45,193.29 L107.38,192.14 L108.30,191.04 L109.23,190.00 L110.15,189.00 L111.08,188.04 L112.00,187.10 L112.93,186.15 L113.85,185.20 L114.78,184.22 L115.70,183.20" class="cv" stroke="#ff4040"/>
<path d="M14.60,243.40 L35.00,243.40 L35.91,243.40 L36.81,243.40 L37.72,243.40 L38.63,243.26 L39.53,243.05 L40.44,242.78 L41.35,242.45 L42.25,242.06 L43.16,241.64 L44.07,241.18 L44.97,240.71 L45.88,240.22 L46.79,239.73 L47.69,239.23 L48.60,238.74 L49.51,238.25 L50.41,237.75 L51.32,237.25 L52.23,236.75 L53.13,236.25 L54.04,235.74 L54.95,235.23 L55.86,234.72 L56.76,234.21 L57.67,233.69 L58.58,233.17 L59.48,232.64 L60.39,232.11 L61.30,231.58 L62.20,231.04 L63.11,230.50 L64.02,229.95 L64.92,229.39 L65.83,228.83 L66.74,228.27 L67.64,227.70 L68.55,227.12 L69.46,226.54 L70.36,225.95 L71.27,225.35 L72.18,224.75 L73.08,224.13 L73.99,223.51 L74.90,222.88 L75.80,222.24 L76.71,221.60 L77.62,220.94 L78.52,220.27 L79.43,219.59 L80.34,218.90 L81.24,218.20 L82.15,217.49 L83.06,216.77 L83.96,216.03 L84.87,215.28 L85.78,214.52 L86.68,213.75 L87.59,212.96 L88.50,212.16 L89.40,211.34 L90.31,210.51 L91.22,209.67 L92.12,208.81 L93.03,207.93 L93.94,207.03 L94.84,206.12 L95.75,205.17 L96.66,204.21 L97.57,203.21 L98.47,202.18 L99.38,201.11 L100.29,200.01 L101.19,198.87 L102.10,197.69 L103.01,196.49 L103.91,195.26 L104.82,194.01 L105.73,192.75 L106.63,191.48 L107.54,190.22 L108.45,188.96 L109.35,187.71 L110.26,186.48 L111.17,185.27 L112.07,184.09 L112.98,182.94 L113.89,181.84 L114.79,180.78 L115.70,179.77" class="cv" stroke="#4949b3"/>
<path d="M41.30,319.40 L41.41,319.32 L41.51,319.22 L41.61,319.09 L41.69,318.95 L41.77,318.80 L41.85,318.63 L41.93,318.47 L42.00,318.30 L42.09,318.09 L42.17,317.88 L42.25,317.66 L42.32,317.42 L42.39,317.17 L42.46,316.90 L42.53,316.61 L42.60,316.30 L42.73,315.64 L42.85,314.89 L42.96,314.06 L43.08,313.16 L43.19,312.23 L43.29,311.28 L43.40,310.33 L43.50,309.40 L43.61,308.36 L43.71,307.30 L43.81,306.21 L43.91,305.11 L44.00,304.01 L44.10,302.90 L44.20,301.79 L44.30,300.70 L44.40,299.61 L44.51,298.53 L44.61,297.45 L44.71,296.37 L44.82,295.29 L44.94,294.20 L45.06,293.11 L45.20,292.00 L45.36,290.79 L45.52,289.53 L45.69,288.24 L45.88,286.95 L46.07,285.70 L46.27,284.50 L46.48,283.39 L46.70,282.40 L46.85,281.80 L47.00,281.20 L47.15,280.63 L47.30,280.09 L47.46,279.60 L47.63,279.16 L47.81,278.79 L48.00,278.50 L48.09,278.39 L48.19,278.28 L48.29,278.19 L48.39,278.11 L48.49,278.05 L48.60,278.01 L48.70,277.99 L48.80,278.00 L48.97,278.09 L49.14,278.27 L49.32,278.52 L49.49,278.82 L49.67,279.15 L49.85,279.51 L50.02,279.86 L50.20,280.20 L50.42,280.63 L50.65,281.10 L50.87,281.60 L51.09,282.11 L51.32,282.62 L51.54,283.13 L51.77,283.63 L52.00,284.10 L52.20,284.52 L52.40,284.93 L52.60,285.35 L52.79,285.75 L53.00,286.15 L53.22,286.52 L53.45,286.88 L53.70,287.20 L53.94,287.46 L54.20,287.70 L54.46,287.93 L54.74,288.14 L55.02,288.34 L55.31,288.53 L55.60,288.71 L55.90,288.90 L56.21,289.08 L56.53,289.26 L56.85,289.42 L57.18,289.58 L57.51,289.73 L57.84,289.89 L58.17,290.04 L58.50,290.20 L58.83,290.36 L59.18,290.51 L59.53,290.65 L59.87,290.80 L60.21,290.95 L60.53,291.12 L60.83,291.30 L61.10,291.50 L61.31,291.72 L61.49,291.99 L61.65,292.29 L61.80,292.59 L61.94,292.87 L62.09,293.09 L62.24,293.25 L62.40,293.30 L62.60,293.21 L62.80,292.98 L62.99,292.65 L63.19,292.25 L63.40,291.82 L63.62,291.39 L63.85,291.01 L64.10,290.70 L64.34,290.48 L64.59,290.28 L64.85,290.11 L65.12,289.94 L65.40,289.78 L65.69,289.63 L65.99,289.47 L66.30,289.30 L66.70,289.10 L67.13,288.90 L67.59,288.72 L68.05,288.53 L68.52,288.33 L68.97,288.11 L69.40,287.87 L69.80,287.60 L70.18,287.27 L70.56,286.87 L70.92,286.44 L71.26,286.00 L71.59,285.57 L71.89,285.18 L72.16,284.85 L72.40,284.60 L72.49,284.53 L72.57,284.47 L72.64,284.43 L72.71,284.40 L72.78,284.36 L72.84,284.32 L72.92,284.27 L73.00,284.20 L73.18,284.02 L73.37,283.79 L73.57,283.52 L73.79,283.23 L74.01,282.92 L74.24,282.60 L74.47,282.29 L74.70,282.00 L74.95,281.67 L75.20,281.31 L75.45,280.94 L75.71,280.57 L75.98,280.22 L76.27,279.90 L76.57,279.62 L76.90,279.40 L77.24,279.24 L77.60,279.13 L77.99,279.05 L78.38,279.00 L78.79,278.98 L79.19,278.97 L79.60,278.98 L80.00,279.00 L80.42,279.04 L80.84,279.12 L81.26,279.22 L81.69,279.34 L82.11,279.47 L82.54,279.59 L82.97,279.71 L83.40,279.80 L83.83,279.89 L84.27,279.99 L84.71,280.09 L85.15,280.18 L85.59,280.25 L86.03,280.30 L86.47,280.32 L86.90,280.30 L87.35,280.21 L87.79,280.06 L88.24,279.86 L88.68,279.64 L89.12,279.43 L89.56,279.23 L89.98,279.08 L90.40,279.00 L90.74,278.98 L91.08,279.00 L91.41,279.05 L91.73,279.11 L92.05,279.19 L92.37,279.27 L92.69,279.34 L93.00,279.40 L93.28,279.46 L93.56,279.53 L93.83,279.62 L94.10,279.70 L94.37,279.76 L94.64,279.81 L94.92,279.83 L95.20,279.80 L95.56,279.70 L95.93,279.53 L96.31,279.31 L96.69,279.06 L97.07,278.79 L97.45,278.53 L97.83,278.29 L98.20,278.10 L98.53,277.97 L98.87,277.87 L99.21,277.78 L99.54,277.70 L99.87,277.61 L100.19,277.51 L100.50,277.37 L100.80,277.20 L101.10,276.94 L101.38,276.61 L101.63,276.23 L101.88,275.84 L102.13,275.45 L102.39,275.10 L102.68,274.81 L103.00,274.60 L103.33,274.48 L103.68,274.43 L104.05,274.41 L104.43,274.43 L104.82,274.47 L105.21,274.52 L105.61,274.57 L106.00,274.60 L106.43,274.63 L106.86,274.67 L107.29,274.72 L107.73,274.77 L108.18,274.82 L108.62,274.88 L109.06,274.94 L109.50,275.00 L109.94,275.06 L110.39,275.13 L110.83,275.20 L111.28,275.28 L111.72,275.35 L112.16,275.41 L112.58,275.46 L113.00,275.50 L113.35,275.52 L113.70,275.53 L114.04,275.53 L114.37,275.53 L114.70,275.52 L115.03,275.51 L115.36,275.50 L115.70,275.50" class="cv" stroke="#ff4040"/>
<path d="M14.60,319.40 L42.20,319.40 L42.32,319.32 L42.43,319.21 L42.54,319.07 L42.64,318.92 L42.73,318.75 L42.82,318.57 L42.91,318.39 L43.00,318.20 L43.13,317.93 L43.25,317.64 L43.36,317.34 L43.47,317.02 L43.58,316.67 L43.69,316.31 L43.79,315.92 L43.90,315.50 L44.07,314.73 L44.24,313.85 L44.41,312.90 L44.57,311.89 L44.73,310.84 L44.89,309.78 L45.04,308.72 L45.20,307.70 L45.37,306.63 L45.54,305.54 L45.71,304.43 L45.87,303.32 L46.04,302.22 L46.20,301.12 L46.35,300.05 L46.50,299.00 L46.62,298.08 L46.72,297.16 L46.81,296.24 L46.90,295.34 L47.00,294.46 L47.11,293.61 L47.24,292.79 L47.40,292.00 L47.55,291.38 L47.71,290.78 L47.87,290.19 L48.05,289.62 L48.24,289.07 L48.45,288.55 L48.66,288.06 L48.90,287.60 L49.09,287.26 L49.29,286.92 L49.49,286.60 L49.71,286.29 L49.93,286.01 L50.17,285.77 L50.43,285.56 L50.70,285.40 L50.98,285.30 L51.28,285.25 L51.60,285.23 L51.93,285.25 L52.26,285.28 L52.61,285.32 L52.95,285.37 L53.30,285.40 L53.70,285.43 L54.12,285.47 L54.54,285.52 L54.98,285.57 L55.41,285.64 L55.84,285.71 L56.27,285.80 L56.70,285.90 L57.14,286.04 L57.59,286.22 L58.04,286.42 L58.48,286.63 L58.92,286.83 L59.36,287.00 L59.78,287.13 L60.20,287.20 L60.54,287.21 L60.86,287.18 L61.18,287.13 L61.50,287.05 L61.81,286.96 L62.13,286.87 L62.46,286.78 L62.80,286.70 L63.21,286.62 L63.64,286.54 L64.08,286.46 L64.53,286.37 L64.98,286.28 L65.42,286.17 L65.87,286.04 L66.30,285.90 L66.75,285.72 L67.19,285.53 L67.63,285.31 L68.06,285.08 L68.50,284.84 L68.93,284.59 L69.37,284.34 L69.80,284.10 L70.25,283.84 L70.71,283.56 L71.18,283.27 L71.65,282.98 L72.10,282.70 L72.53,282.43 L72.93,282.20 L73.30,282.00 L73.50,281.90 L73.69,281.83 L73.86,281.77 L74.03,281.71 L74.19,281.65 L74.35,281.59 L74.52,281.50 L74.70,281.40 L74.95,281.20 L75.20,280.96 L75.44,280.68 L75.70,280.39 L75.96,280.10 L76.25,279.83 L76.56,279.59 L76.90,279.40 L77.39,279.24 L77.95,279.13 L78.55,279.08 L79.18,279.06 L79.82,279.05 L80.47,279.05 L81.10,279.04 L81.70,279.00 L82.25,278.94 L82.79,278.88 L83.33,278.82 L83.86,278.75 L84.39,278.69 L84.93,278.62 L85.46,278.56 L86.00,278.50 L86.55,278.44 L87.10,278.38 L87.65,278.32 L88.20,278.27 L88.75,278.22 L89.30,278.17 L89.85,278.13 L90.40,278.10 L90.94,278.09 L91.49,278.10 L92.04,278.12 L92.58,278.14 L93.13,278.16 L93.66,278.16 L94.19,278.15 L94.70,278.10 L95.16,278.03 L95.60,277.94 L96.04,277.83 L96.48,277.70 L96.91,277.58 L97.33,277.45 L97.77,277.32 L98.20,277.20 L98.64,277.08 L99.07,276.96 L99.51,276.84 L99.95,276.72 L100.38,276.60 L100.82,276.49 L101.26,276.39 L101.70,276.30 L102.13,276.22 L102.56,276.16 L102.99,276.10 L103.42,276.05 L103.86,276.00 L104.30,275.96 L104.74,275.93 L105.20,275.90 L105.71,275.88 L106.22,275.87 L106.74,275.87 L107.27,275.88 L107.81,275.89 L108.36,275.90 L108.92,275.90 L109.50,275.90 L110.22,275.89 L110.97,275.87 L111.74,275.84 L112.53,275.81 L113.33,275.78 L114.12,275.76 L114.92,275.73 L115.70,275.70" class="cv" stroke="#4949b3"/>
<path d="M132.60,243.40 L152.70,243.40 L153.62,243.40 L154.54,243.35 L155.45,243.23 L156.37,243.09 L157.29,242.91 L158.21,242.71 L159.13,242.48 L160.04,242.23 L160.96,241.95 L161.88,241.65 L162.80,241.33 L163.72,240.98 L164.63,240.62 L165.55,240.23 L166.47,239.83 L167.39,239.41 L168.31,238.97 L169.22,238.52 L170.14,238.05 L171.06,237.56 L171.98,237.07 L172.90,236.55 L173.81,236.03 L174.73,235.49 L175.65,234.94 L176.57,234.38 L177.49,233.80 L178.40,233.22 L179.32,232.63 L180.24,232.03 L181.16,231.43 L182.08,230.82 L182.99,230.20 L183.91,229.58 L184.83,228.96 L185.75,228.34 L186.67,227.71 L187.58,227.09 L188.50,226.46 L189.42,225.83 L190.34,225.19 L191.26,224.55 L192.17,223.90 L193.09,223.24 L194.01,222.57 L194.93,221.89 L195.84,221.19 L196.76,220.49 L197.68,219.77 L198.60,219.04 L199.52,218.29 L200.43,217.54 L201.35,216.77 L202.27,216.00 L203.19,215.21 L204.11,214.41 L205.02,213.60 L205.94,212.79 L206.86,211.96 L207.78,211.12 L208.70,210.26 L209.61,209.40 L210.53,208.52 L211.45,207.63 L212.37,206.73 L213.29,205.81 L214.20,204.87 L215.12,203.92 L216.04,202.95 L216.96,201.96 L217.88,200.96 L218.79,199.94 L219.71,198.90 L220.63,197.84 L221.55,196.76 L222.47,195.68 L223.38,194.58 L224.30,193.47 L225.22,192.35 L226.14,191.23 L227.06,190.11 L227.97,188.98 L228.89,187.86 L229.81,186.73 L230.73,185.61 L231.65,184.50 L232.56,183.40 L233.48,182.30 L234.40,181.22" class="cv" stroke="#4949b3"/>
<path d="M132.60,319.60 L160.20,319.60 L160.30,319.55 L160.40,319.49 L160.49,319.41 L160.58,319.32 L160.67,319.23 L160.75,319.12 L160.82,319.02 L160.90,318.90 L160.99,318.74 L161.08,318.57 L161.15,318.38 L161.22,318.19 L161.29,317.97 L161.36,317.74 L161.43,317.48 L161.50,317.20 L161.66,316.50 L161.82,315.66 L161.99,314.71 L162.15,313.69 L162.31,312.61 L162.48,311.52 L162.64,310.44 L162.80,309.40 L162.97,308.32 L163.13,307.22 L163.30,306.09 L163.46,304.96 L163.62,303.85 L163.78,302.76 L163.94,301.70 L164.10,300.70 L164.23,299.92 L164.36,299.17 L164.48,298.44 L164.61,297.73 L164.73,297.03 L164.86,296.34 L164.98,295.67 L165.10,295.00 L165.20,294.42 L165.29,293.85 L165.38,293.29 L165.47,292.74 L165.56,292.20 L165.66,291.66 L165.77,291.13 L165.90,290.60 L166.03,290.07 L166.16,289.52 L166.30,288.96 L166.45,288.40 L166.61,287.88 L166.78,287.41 L166.98,287.01 L167.20,286.70 L167.34,286.56 L167.49,286.44 L167.64,286.34 L167.79,286.27 L167.96,286.21 L168.13,286.16 L168.31,286.12 L168.50,286.10 L168.78,286.10 L169.07,286.14 L169.39,286.22 L169.71,286.31 L170.05,286.42 L170.40,286.53 L170.75,286.63 L171.10,286.70 L171.51,286.77 L171.94,286.84 L172.37,286.91 L172.82,286.97 L173.26,287.02 L173.71,287.06 L174.16,287.09 L174.60,287.10 L175.04,287.09 L175.47,287.05 L175.91,287.00 L176.35,286.94 L176.79,286.88 L177.22,286.81 L177.66,286.75 L178.10,286.70 L178.54,286.65 L178.99,286.58 L179.44,286.50 L179.89,286.44 L180.34,286.38 L180.77,286.35 L181.19,286.35 L181.60,286.40 L181.95,286.50 L182.29,286.66 L182.61,286.86 L182.93,287.07 L183.25,287.27 L183.56,287.44 L183.88,287.56 L184.20,287.60 L184.53,287.56 L184.88,287.45 L185.22,287.29 L185.57,287.10 L185.90,286.88 L186.22,286.67 L186.53,286.47 L186.80,286.30 L186.97,286.20 L187.12,286.11 L187.26,286.02 L187.40,285.93 L187.53,285.83 L187.67,285.73 L187.83,285.62 L188.00,285.50 L188.35,285.25 L188.74,284.95 L189.16,284.63 L189.61,284.29 L190.07,283.93 L190.55,283.57 L191.03,283.23 L191.50,282.90 L192.01,282.55 L192.52,282.20 L193.04,281.84 L193.57,281.48 L194.11,281.14 L194.66,280.83 L195.22,280.54 L195.80,280.30 L196.42,280.09 L197.08,279.91 L197.77,279.76 L198.45,279.63 L199.14,279.53 L199.80,279.46 L200.42,279.42 L201.00,279.40 L201.38,279.41 L201.73,279.43 L202.07,279.48 L202.40,279.54 L202.72,279.60 L203.04,279.67 L203.36,279.74 L203.70,279.80 L204.07,279.88 L204.44,279.97 L204.82,280.08 L205.19,280.19 L205.57,280.28 L205.95,280.36 L206.33,280.40 L206.70,280.40 L207.08,280.35 L207.45,280.26 L207.82,280.14 L208.19,280.00 L208.56,279.85 L208.93,279.69 L209.31,279.54 L209.70,279.40 L210.12,279.26 L210.55,279.12 L210.99,278.98 L211.43,278.83 L211.87,278.69 L212.32,278.55 L212.76,278.42 L213.20,278.30 L213.64,278.19 L214.07,278.09 L214.51,278.00 L214.95,277.91 L215.39,277.82 L215.83,277.72 L216.26,277.62 L216.70,277.50 L217.14,277.36 L217.57,277.20 L218.00,277.04 L218.42,276.86 L218.86,276.70 L219.29,276.54 L219.74,276.41 L220.20,276.30 L220.71,276.22 L221.25,276.16 L221.79,276.12 L222.34,276.10 L222.90,276.09 L223.44,276.09 L223.98,276.10 L224.50,276.10 L224.95,276.11 L225.40,276.14 L225.84,276.18 L226.27,276.23 L226.71,276.27 L227.14,276.30 L227.57,276.31 L228.00,276.30 L228.44,276.26 L228.88,276.19 L229.33,276.10 L229.77,276.00 L230.21,275.90 L230.65,275.81 L231.08,275.74 L231.50,275.70 L231.87,275.69 L232.24,275.70 L232.61,275.72 L232.97,275.76 L233.32,275.79 L233.68,275.83 L234.04,275.87 L234.40,275.90" class="cv" stroke="#4949b3"/>
<path d="M250.40,243.10 L265.80,243.10 L266.76,243.10 L267.73,243.10 L268.69,243.04 L269.66,242.87 L270.62,242.65 L271.58,242.40 L272.55,242.11 L273.51,241.78 L274.48,241.41 L275.44,241.02 L276.40,240.59 L277.37,240.13 L278.33,239.65 L279.30,239.14 L280.26,238.61 L281.22,238.05 L282.19,237.48 L283.15,236.90 L284.12,236.30 L285.08,235.69 L286.04,235.07 L287.01,234.45 L287.97,233.83 L288.94,233.21 L289.90,232.60 L290.87,231.99 L291.83,231.40 L292.79,230.81 L293.76,230.23 L294.72,229.65 L295.69,229.08 L296.65,228.51 L297.61,227.95 L298.58,227.38 L299.54,226.81 L300.51,226.24 L301.47,225.67 L302.43,225.10 L303.40,224.51 L304.36,223.92 L305.33,223.33 L306.29,222.72 L307.25,222.10 L308.22,221.47 L309.18,220.82 L310.15,220.17 L311.11,219.50 L312.07,218.82 L313.04,218.12 L314.00,217.42 L314.97,216.70 L315.93,215.97 L316.89,215.22 L317.86,214.47 L318.82,213.70 L319.79,212.92 L320.75,212.13 L321.71,211.33 L322.68,210.52 L323.64,209.69 L324.61,208.85 L325.57,208.00 L326.53,207.14 L327.50,206.27 L328.46,205.39 L329.43,204.50 L330.39,203.59 L331.36,202.68 L332.32,201.75 L333.28,200.82 L334.25,199.88 L335.21,198.93 L336.18,197.97 L337.14,197.02 L338.10,196.05 L339.07,195.09 L340.03,194.12 L341.00,193.15 L341.96,192.18 L342.92,191.21 L343.89,190.24 L344.85,189.27 L345.82,188.31 L346.78,187.35 L347.74,186.40 L348.71,185.45 L349.67,184.51 L350.64,183.58 L351.60,182.66" class="cv" stroke="#ff4040"/>
<path d="M250.40,243.10 L265.80,243.10 L266.75,243.10 L267.70,243.10 L268.66,242.97 L269.61,242.71 L270.56,242.40 L271.51,242.03 L272.46,241.63 L273.41,241.19 L274.37,240.72 L275.32,240.22 L276.27,239.70 L277.22,239.16 L278.17,238.61 L279.12,238.04 L280.08,237.45 L281.03,236.86 L281.98,236.25 L282.93,235.64 L283.88,235.03 L284.83,234.41 L285.79,233.79 L286.74,233.17 L287.69,232.54 L288.64,231.91 L289.59,231.28 L290.54,230.65 L291.50,230.01 L292.45,229.36 L293.40,228.72 L294.35,228.07 L295.30,227.41 L296.25,226.75 L297.21,226.09 L298.16,225.42 L299.11,224.74 L300.06,224.06 L301.01,223.38 L301.96,222.68 L302.92,221.98 L303.87,221.28 L304.82,220.57 L305.77,219.85 L306.72,219.12 L307.67,218.39 L308.63,217.65 L309.58,216.90 L310.53,216.14 L311.48,215.38 L312.43,214.61 L313.38,213.84 L314.34,213.08 L315.29,212.31 L316.24,211.55 L317.19,210.80 L318.14,210.06 L319.09,209.32 L320.05,208.60 L321.00,207.90 L321.95,207.21 L322.90,206.54 L323.85,205.89 L324.80,205.24 L325.76,204.58 L326.71,203.91 L327.66,203.21 L328.61,202.47 L329.56,201.69 L330.51,200.85 L331.47,199.94 L332.42,198.95 L333.37,197.88 L334.32,196.74 L335.27,195.56 L336.22,194.39 L337.18,193.25 L338.13,192.17 L339.08,191.20 L340.03,190.36 L340.98,189.58 L341.93,188.78 L342.89,187.87 L343.84,186.82 L344.79,185.67 L345.74,184.45 L346.69,183.18 L347.64,181.91 L348.60,180.66 L349.55,179.48 L350.50,178.43" class="cv dot" stroke="#ff4040"/>
<path d="M250.40,319.60 L276.40,319.60 L276.51,319.53 L276.61,319.43 L276.70,319.31 L276.79,319.18 L276.87,319.04 L276.95,318.89 L277.02,318.74 L277.10,318.60 L277.19,318.45 L277.27,318.30 L277.34,318.15 L277.42,318.00 L277.49,317.83 L277.56,317.64 L277.63,317.44 L277.70,317.20 L277.84,316.53 L277.97,315.71 L278.09,314.76 L278.19,313.73 L278.29,312.64 L278.39,311.53 L278.49,310.44 L278.60,309.40 L278.71,308.32 L278.83,307.22 L278.94,306.10 L279.05,304.98 L279.16,303.87 L279.27,302.78 L279.39,301.72 L279.50,300.70 L279.60,299.89 L279.69,299.10 L279.78,298.34 L279.88,297.60 L279.97,296.86 L280.08,296.11 L280.18,295.37 L280.30,294.60 L280.43,293.79 L280.58,292.97 L280.73,292.15 L280.88,291.33 L281.04,290.50 L281.20,289.67 L281.35,288.84 L281.50,288.00 L281.64,287.14 L281.78,286.26 L281.91,285.39 L282.05,284.51 L282.18,283.63 L282.31,282.75 L282.45,281.87 L282.60,281.00 L282.74,280.05 L282.87,278.98 L283.00,277.86 L283.13,276.77 L283.28,275.77 L283.45,274.95 L283.66,274.36 L283.90,274.10 L284.04,274.10 L284.20,274.17 L284.37,274.29 L284.55,274.47 L284.72,274.68 L284.89,274.91 L285.05,275.16 L285.20,275.40 L285.41,275.84 L285.59,276.37 L285.74,276.96 L285.89,277.60 L286.02,278.26 L286.17,278.93 L286.32,279.58 L286.50,280.20 L286.70,280.81 L286.91,281.42 L287.13,282.04 L287.36,282.66 L287.59,283.26 L287.83,283.86 L288.06,284.44 L288.30,285.00 L288.50,285.48 L288.70,285.95 L288.89,286.41 L289.09,286.86 L289.30,287.30 L289.52,287.72 L289.75,288.12 L290.00,288.50 L290.24,288.84 L290.50,289.18 L290.76,289.52 L291.04,289.85 L291.32,290.14 L291.61,290.39 L291.90,290.58 L292.20,290.70 L292.45,290.74 L292.70,290.74 L292.96,290.69 L293.22,290.62 L293.49,290.52 L293.76,290.41 L294.03,290.30 L294.30,290.20 L294.63,290.07 L294.97,289.92 L295.32,289.76 L295.67,289.59 L296.02,289.41 L296.36,289.23 L296.69,289.06 L297.00,288.90 L297.23,288.77 L297.46,288.61 L297.68,288.45 L297.89,288.30 L298.09,288.16 L298.30,288.06 L298.50,288.00 L298.70,288.00 L298.92,288.09 L299.13,288.25 L299.34,288.48 L299.54,288.74 L299.74,289.03 L299.95,289.32 L300.17,289.58 L300.40,289.80 L300.65,290.01 L300.92,290.23 L301.19,290.46 L301.48,290.67 L301.76,290.85 L302.05,290.99 L302.33,291.08 L302.60,291.10 L302.89,291.03 L303.18,290.87 L303.47,290.65 L303.75,290.39 L304.03,290.10 L304.30,289.81 L304.56,289.53 L304.80,289.30 L304.97,289.15 L305.13,289.01 L305.29,288.89 L305.44,288.76 L305.58,288.62 L305.72,288.47 L305.86,288.30 L306.00,288.10 L306.23,287.68 L306.44,287.18 L306.64,286.61 L306.84,286.00 L307.04,285.38 L307.25,284.78 L307.46,284.21 L307.70,283.70 L307.90,283.31 L308.09,282.92 L308.28,282.53 L308.49,282.16 L308.70,281.82 L308.94,281.52 L309.20,281.28 L309.50,281.10 L309.86,281.00 L310.26,280.98 L310.70,281.03 L311.15,281.12 L311.62,281.24 L312.09,281.38 L312.56,281.50 L313.00,281.60 L313.43,281.70 L313.85,281.82 L314.28,281.95 L314.70,282.08 L315.12,282.20 L315.55,282.30 L315.97,282.37 L316.40,282.40 L316.83,282.38 L317.27,282.31 L317.71,282.21 L318.14,282.08 L318.58,281.95 L319.02,281.82 L319.46,281.70 L319.90,281.60 L320.34,281.53 L320.78,281.49 L321.22,281.45 L321.66,281.42 L322.10,281.38 L322.54,281.32 L322.97,281.23 L323.40,281.10 L323.85,280.91 L324.29,280.68 L324.73,280.42 L325.17,280.14 L325.60,279.84 L326.03,279.55 L326.46,279.26 L326.90,279.00 L327.33,278.75 L327.75,278.50 L328.18,278.24 L328.61,278.00 L329.04,277.76 L329.46,277.54 L329.89,277.35 L330.30,277.20 L330.65,277.09 L330.99,276.99 L331.33,276.90 L331.67,276.83 L332.01,276.79 L332.34,276.76 L332.67,276.76 L333.00,276.80 L333.33,276.90 L333.66,277.06 L333.99,277.27 L334.31,277.50 L334.63,277.73 L334.95,277.92 L335.28,278.05 L335.60,278.10 L335.92,278.06 L336.25,277.95 L336.57,277.79 L336.90,277.59 L337.22,277.37 L337.54,277.16 L337.87,276.96 L338.20,276.80 L338.52,276.66 L338.83,276.52 L339.15,276.38 L339.47,276.25 L339.79,276.14 L340.12,276.03 L340.45,275.95 L340.80,275.90 L341.21,275.88 L341.65,275.90 L342.09,275.96 L342.54,276.03 L343.00,276.12 L343.45,276.19 L343.88,276.26 L344.30,276.30 L344.64,276.32 L344.98,276.34 L345.30,276.35 L345.63,276.36 L345.94,276.36 L346.26,276.35 L346.58,276.33 L346.90,276.30 L347.23,276.24 L347.56,276.16 L347.89,276.06 L348.22,275.95 L348.55,275.85 L348.87,275.77 L349.19,275.72 L349.50,275.70 L349.77,275.72 L350.04,275.77 L350.31,275.85 L350.56,275.93 L350.82,276.03 L351.08,276.12 L351.34,276.22 L351.60,276.30" class="cv" stroke="#ff4040"/>
<path d="M250.40,319.60 L276.20,319.60 L276.33,319.49 L276.45,319.33 L276.56,319.14 L276.65,318.93 L276.74,318.70 L276.83,318.46 L276.92,318.22 L277.00,318.00 L277.09,317.77 L277.17,317.55 L277.25,317.33 L277.32,317.11 L277.39,316.86 L277.46,316.61 L277.53,316.32 L277.60,316.00 L277.73,315.26 L277.85,314.39 L277.97,313.42 L278.08,312.37 L278.18,311.27 L278.29,310.16 L278.39,309.06 L278.50,308.00 L278.62,306.90 L278.73,305.79 L278.84,304.66 L278.95,303.53 L279.06,302.40 L279.18,301.26 L279.29,300.13 L279.40,299.00 L279.51,297.88 L279.63,296.78 L279.74,295.68 L279.86,294.58 L279.97,293.47 L280.08,292.34 L280.19,291.19 L280.30,290.00 L280.42,288.57 L280.53,287.06 L280.63,285.51 L280.74,283.95 L280.84,282.39 L280.95,280.86 L281.07,279.39 L281.20,278.00 L281.30,276.85 L281.38,275.59 L281.45,274.32 L281.54,273.09 L281.64,271.99 L281.78,271.10 L281.96,270.47 L282.20,270.20 L282.38,270.22 L282.58,270.36 L282.79,270.59 L283.02,270.90 L283.25,271.25 L283.48,271.64 L283.70,272.03 L283.90,272.40 L284.16,272.97 L284.40,273.62 L284.63,274.32 L284.84,275.07 L285.05,275.83 L285.26,276.58 L285.48,277.32 L285.70,278.00 L285.90,278.58 L286.10,279.16 L286.29,279.73 L286.48,280.28 L286.68,280.83 L286.90,281.37 L287.14,281.89 L287.40,282.40 L287.68,282.88 L287.97,283.36 L288.28,283.84 L288.61,284.30 L288.95,284.74 L289.29,285.16 L289.64,285.54 L290.00,285.90 L290.30,286.18 L290.61,286.44 L290.92,286.68 L291.24,286.90 L291.56,287.11 L291.89,287.29 L292.24,287.46 L292.60,287.60 L293.00,287.73 L293.42,287.84 L293.86,287.93 L294.31,287.99 L294.76,288.03 L295.21,288.05 L295.66,288.04 L296.10,288.00 L296.55,287.92 L296.99,287.79 L297.44,287.62 L297.89,287.43 L298.33,287.24 L298.76,287.04 L299.19,286.86 L299.60,286.70 L299.94,286.59 L300.28,286.51 L300.61,286.43 L300.94,286.35 L301.26,286.27 L301.58,286.17 L301.89,286.05 L302.20,285.90 L302.54,285.69 L302.87,285.46 L303.20,285.20 L303.52,284.92 L303.84,284.62 L304.16,284.32 L304.48,284.01 L304.80,283.70 L305.15,283.33 L305.50,282.92 L305.84,282.48 L306.19,282.04 L306.54,281.62 L306.91,281.24 L307.29,280.93 L307.70,280.70 L308.09,280.58 L308.50,280.53 L308.92,280.54 L309.36,280.58 L309.80,280.63 L310.26,280.68 L310.73,280.71 L311.20,280.70 L311.81,280.64 L312.45,280.55 L313.12,280.44 L313.80,280.32 L314.48,280.19 L315.15,280.05 L315.79,279.92 L316.40,279.80 L316.87,279.69 L317.32,279.58 L317.76,279.45 L318.19,279.33 L318.62,279.21 L319.04,279.12 L319.47,279.04 L319.90,279.00 L320.34,279.00 L320.78,279.05 L321.21,279.14 L321.65,279.23 L322.09,279.32 L322.53,279.39 L322.97,279.42 L323.40,279.40 L323.84,279.32 L324.29,279.21 L324.73,279.06 L325.17,278.89 L325.60,278.70 L326.04,278.50 L326.47,278.30 L326.90,278.10 L327.33,277.88 L327.74,277.63 L328.16,277.36 L328.57,277.09 L328.98,276.84 L329.41,276.61 L329.84,276.42 L330.30,276.30 L330.81,276.25 L331.35,276.28 L331.90,276.36 L332.46,276.48 L333.02,276.60 L333.59,276.71 L334.15,276.79 L334.70,276.80 L335.24,276.75 L335.77,276.65 L336.30,276.53 L336.82,276.38 L337.35,276.24 L337.89,276.10 L338.44,275.98 L339.00,275.90 L339.64,275.86 L340.31,275.86 L341.00,275.88 L341.69,275.91 L342.38,275.94 L343.05,275.96 L343.69,275.95 L344.30,275.90 L344.76,275.81 L345.20,275.69 L345.62,275.55 L346.04,275.40 L346.44,275.25 L346.85,275.13 L347.27,275.04 L347.70,275.00 L348.17,275.02 L348.66,275.09 L349.14,275.20 L349.63,275.33 L350.13,275.48 L350.62,275.63 L351.11,275.77 L351.60,275.90" class="cv dot" stroke="#ff4040"/>
<path d="M376.00,243.10 L396.60,243.10 L397.51,243.10 L398.42,243.06 L399.33,242.95 L400.24,242.80 L401.15,242.62 L402.06,242.41 L402.97,242.17 L403.88,241.90 L404.79,241.61 L405.70,241.29 L406.61,240.95 L407.52,240.58 L408.43,240.20 L409.34,239.79 L410.25,239.36 L411.16,238.92 L412.07,238.46 L412.98,237.98 L413.89,237.49 L414.80,236.98 L415.71,236.46 L416.62,235.92 L417.53,235.38 L418.44,234.82 L419.35,234.26 L420.26,233.68 L421.17,233.09 L422.08,232.50 L422.99,231.90 L423.90,231.29 L424.81,230.67 L425.72,230.05 L426.63,229.43 L427.54,228.80 L428.45,228.17 L429.36,227.53 L430.27,226.89 L431.18,226.25 L432.09,225.60 L433.00,224.95 L433.91,224.28 L434.82,223.61 L435.73,222.93 L436.64,222.25 L437.56,221.55 L438.47,220.84 L439.38,220.11 L440.29,219.38 L441.20,218.63 L442.11,217.87 L443.02,217.09 L443.93,216.30 L444.84,215.50 L445.75,214.69 L446.66,213.86 L447.57,213.02 L448.48,212.17 L449.39,211.30 L450.30,210.43 L451.21,209.54 L452.12,208.64 L453.03,207.72 L453.94,206.80 L454.85,205.86 L455.76,204.91 L456.67,203.95 L457.58,202.98 L458.49,202.00 L459.40,201.01 L460.31,200.01 L461.22,199.00 L462.13,197.97 L463.04,196.94 L463.95,195.89 L464.86,194.84 L465.77,193.78 L466.68,192.70 L467.59,191.62 L468.50,190.53 L469.41,189.43 L470.32,188.31 L471.23,187.19 L472.14,186.07 L473.05,184.93 L473.96,183.78 L474.87,182.63 L475.78,181.47 L476.69,180.30 L477.60,179.12" class="cv" stroke="#4949b3"/>
<path d="M376.00,319.30 L403.00,319.30 L403.11,319.24 L403.20,319.17 L403.30,319.08 L403.38,318.98 L403.47,318.87 L403.55,318.75 L403.62,318.63 L403.70,318.50 L403.79,318.33 L403.87,318.16 L403.95,317.97 L404.02,317.78 L404.09,317.56 L404.15,317.33 L404.22,317.08 L404.30,316.80 L404.46,316.13 L404.64,315.33 L404.81,314.42 L404.99,313.44 L405.17,312.42 L405.35,311.39 L405.53,310.37 L405.70,309.40 L405.87,308.43 L406.03,307.46 L406.19,306.47 L406.35,305.49 L406.51,304.50 L406.67,303.52 L406.83,302.56 L407.00,301.60 L407.16,300.70 L407.32,299.80 L407.48,298.90 L407.64,298.00 L407.80,297.12 L407.97,296.26 L408.13,295.42 L408.30,294.60 L408.44,293.92 L408.59,293.24 L408.73,292.58 L408.87,291.93 L409.02,291.30 L409.17,290.68 L409.33,290.08 L409.50,289.50 L409.64,289.02 L409.78,288.53 L409.93,288.06 L410.07,287.60 L410.23,287.16 L410.40,286.74 L410.59,286.35 L410.80,286.00 L410.98,285.74 L411.17,285.48 L411.38,285.23 L411.59,285.01 L411.81,284.80 L412.04,284.63 L412.27,284.49 L412.50,284.40 L412.71,284.36 L412.93,284.35 L413.14,284.37 L413.37,284.41 L413.60,284.47 L413.83,284.54 L414.06,284.62 L414.30,284.70 L414.61,284.83 L414.92,285.00 L415.24,285.20 L415.57,285.41 L415.90,285.62 L416.23,285.80 L416.57,285.93 L416.90,286.00 L417.22,286.01 L417.54,285.97 L417.87,285.89 L418.20,285.79 L418.52,285.67 L418.85,285.54 L419.18,285.41 L419.50,285.30 L419.83,285.18 L420.15,285.04 L420.47,284.90 L420.80,284.75 L421.12,284.61 L421.44,284.48 L421.77,284.37 L422.10,284.30 L422.42,284.26 L422.74,284.24 L423.05,284.23 L423.37,284.25 L423.70,284.27 L424.02,284.31 L424.36,284.35 L424.70,284.40 L425.12,284.49 L425.56,284.62 L426.00,284.77 L426.46,284.93 L426.91,285.08 L427.35,285.21 L427.79,285.29 L428.20,285.30 L428.55,285.26 L428.91,285.18 L429.26,285.06 L429.60,284.93 L429.93,284.78 L430.24,284.62 L430.53,284.45 L430.80,284.30 L430.98,284.19 L431.13,284.07 L431.27,283.95 L431.41,283.82 L431.54,283.70 L431.68,283.57 L431.83,283.43 L432.00,283.30 L432.27,283.11 L432.58,282.91 L432.90,282.70 L433.24,282.50 L433.59,282.28 L433.93,282.06 L434.27,281.83 L434.60,281.60 L434.93,281.34 L435.24,281.06 L435.55,280.77 L435.86,280.47 L436.18,280.18 L436.50,279.89 L436.84,279.63 L437.20,279.40 L437.60,279.18 L438.02,278.98 L438.46,278.80 L438.91,278.63 L439.37,278.48 L439.82,278.34 L440.27,278.21 L440.70,278.10 L441.09,278.00 L441.47,277.91 L441.86,277.83 L442.24,277.75 L442.62,277.70 L442.99,277.67 L443.35,277.67 L443.70,277.70 L443.99,277.77 L444.28,277.87 L444.55,278.00 L444.81,278.14 L445.08,278.29 L445.34,278.44 L445.62,278.58 L445.90,278.70 L446.21,278.81 L446.52,278.93 L446.84,279.04 L447.16,279.15 L447.48,279.24 L447.81,279.32 L448.15,279.37 L448.50,279.40 L448.91,279.39 L449.34,279.34 L449.77,279.25 L450.22,279.14 L450.66,279.03 L451.11,278.91 L451.56,278.79 L452.00,278.70 L452.44,278.62 L452.87,278.54 L453.31,278.47 L453.75,278.39 L454.19,278.32 L454.62,278.25 L455.06,278.17 L455.50,278.10 L455.94,278.03 L456.38,277.96 L456.82,277.90 L457.26,277.84 L457.70,277.77 L458.13,277.69 L458.57,277.60 L459.00,277.50 L459.43,277.38 L459.87,277.24 L460.30,277.08 L460.74,276.92 L461.16,276.75 L461.58,276.59 L462.00,276.44 L462.40,276.30 L462.74,276.18 L463.06,276.07 L463.38,275.95 L463.69,275.84 L464.01,275.74 L464.33,275.64 L464.66,275.56 L465.00,275.50 L465.41,275.45 L465.82,275.43 L466.25,275.43 L466.69,275.44 L467.13,275.46 L467.58,275.48 L468.04,275.49 L468.50,275.50 L469.02,275.50 L469.56,275.50 L470.11,275.50 L470.66,275.50 L471.22,275.50 L471.78,275.50 L472.34,275.50 L472.90,275.50 L473.48,275.50 L474.06,275.50 L474.65,275.50 L475.24,275.50 L475.83,275.50 L476.42,275.50 L477.01,275.50 L477.60,275.50" class="cv" stroke="#4949b3"/>
<path d="M497.60,242.70 L517.30,242.70 L518.21,242.70 L519.12,242.68 L520.03,242.58 L520.94,242.45 L521.86,242.29 L522.77,242.10 L523.68,241.89 L524.59,241.65 L525.50,241.38 L526.41,241.09 L527.32,240.78 L528.23,240.44 L529.15,240.08 L530.06,239.70 L530.97,239.30 L531.88,238.89 L532.79,238.45 L533.70,238.00 L534.61,237.53 L535.52,237.04 L536.44,236.54 L537.35,236.03 L538.26,235.50 L539.17,234.96 L540.08,234.41 L540.99,233.85 L541.90,233.28 L542.81,232.70 L543.73,232.11 L544.64,231.51 L545.55,230.91 L546.46,230.29 L547.37,229.68 L548.28,229.06 L549.19,228.43 L550.10,227.81 L551.02,227.18 L551.93,226.54 L552.84,225.90 L553.75,225.25 L554.66,224.60 L555.57,223.93 L556.48,223.24 L557.39,222.55 L558.31,221.83 L559.22,221.10 L560.13,220.35 L561.04,219.59 L561.95,218.82 L562.86,218.04 L563.77,217.25 L564.68,216.44 L565.60,215.63 L566.51,214.81 L567.42,213.97 L568.33,213.13 L569.24,212.28 L570.15,211.41 L571.06,210.54 L571.97,209.65 L572.89,208.76 L573.80,207.85 L574.71,206.93 L575.62,206.00 L576.53,205.07 L577.44,204.12 L578.35,203.15 L579.26,202.18 L580.18,201.20 L581.09,200.21 L582.00,199.20 L582.91,198.18 L583.82,197.15 L584.73,196.12 L585.64,195.06 L586.55,194.00 L587.47,192.93 L588.38,191.84 L589.29,190.74 L590.20,189.63 L591.11,188.51 L592.02,187.38 L592.93,186.23 L593.84,185.08 L594.76,183.91 L595.67,182.73 L596.58,181.53 L597.49,180.33 L598.40,179.11" class="cv" stroke="#4949b3"/>
<path d="M497.60,319.00 L524.60,319.00 L524.71,318.93 L524.81,318.84 L524.90,318.72 L524.99,318.60 L525.07,318.46 L525.15,318.31 L525.23,318.16 L525.30,318.00 L525.39,317.79 L525.48,317.57 L525.55,317.33 L525.62,317.09 L525.69,316.82 L525.75,316.54 L525.82,316.23 L525.90,315.90 L526.05,315.19 L526.21,314.37 L526.37,313.47 L526.54,312.50 L526.70,311.49 L526.87,310.47 L527.04,309.47 L527.20,308.50 L527.36,307.53 L527.53,306.55 L527.69,305.57 L527.85,304.59 L528.01,303.60 L528.17,302.62 L528.33,301.66 L528.50,300.70 L528.66,299.79 L528.83,298.88 L529.00,297.97 L529.17,297.06 L529.34,296.18 L529.50,295.32 L529.66,294.49 L529.80,293.70 L529.90,293.12 L529.98,292.56 L530.05,292.03 L530.12,291.50 L530.20,290.99 L530.28,290.49 L530.38,289.99 L530.50,289.50 L530.63,289.03 L530.76,288.56 L530.90,288.08 L531.05,287.62 L531.22,287.17 L531.39,286.75 L531.59,286.36 L531.80,286.00 L531.98,285.74 L532.17,285.50 L532.36,285.27 L532.57,285.06 L532.78,284.86 L533.01,284.69 L533.25,284.53 L533.50,284.40 L533.78,284.29 L534.08,284.20 L534.40,284.14 L534.73,284.10 L535.06,284.08 L535.41,284.07 L535.75,284.08 L536.10,284.10 L536.51,284.16 L536.94,284.26 L537.38,284.39 L537.82,284.54 L538.26,284.69 L538.71,284.83 L539.16,284.94 L539.60,285.00 L540.04,285.02 L540.48,285.01 L540.93,284.98 L541.38,284.93 L541.82,284.88 L542.26,284.81 L542.69,284.75 L543.10,284.70 L543.44,284.65 L543.77,284.58 L544.10,284.50 L544.42,284.43 L544.73,284.36 L545.05,284.32 L545.37,284.29 L545.70,284.30 L546.07,284.37 L546.45,284.50 L546.84,284.67 L547.22,284.85 L547.61,285.03 L547.98,285.18 L548.35,285.27 L548.70,285.30 L548.99,285.26 L549.28,285.19 L549.55,285.08 L549.82,284.94 L550.09,284.79 L550.35,284.63 L550.62,284.46 L550.90,284.30 L551.22,284.11 L551.54,283.90 L551.86,283.67 L552.18,283.44 L552.50,283.20 L552.83,282.96 L553.16,282.73 L553.50,282.50 L553.86,282.27 L554.23,282.05 L554.60,281.83 L554.97,281.61 L555.35,281.39 L555.73,281.16 L556.11,280.93 L556.50,280.70 L556.92,280.43 L557.35,280.14 L557.79,279.83 L558.22,279.53 L558.66,279.23 L559.10,278.96 L559.55,278.71 L560.00,278.50 L560.42,278.34 L560.85,278.20 L561.28,278.09 L561.72,277.99 L562.15,277.90 L562.58,277.83 L562.99,277.76 L563.40,277.70 L563.74,277.65 L564.07,277.60 L564.40,277.55 L564.72,277.51 L565.04,277.49 L565.36,277.47 L565.68,277.48 L566.00,277.50 L566.34,277.55 L566.68,277.63 L567.01,277.73 L567.35,277.84 L567.69,277.96 L568.03,278.08 L568.36,278.20 L568.70,278.30 L569.02,278.40 L569.34,278.51 L569.66,278.62 L569.98,278.73 L570.30,278.83 L570.62,278.91 L570.96,278.97 L571.30,279.00 L571.70,278.99 L572.12,278.93 L572.54,278.85 L572.97,278.74 L573.40,278.62 L573.83,278.50 L574.27,278.39 L574.70,278.30 L575.14,278.23 L575.57,278.17 L576.02,278.11 L576.46,278.06 L576.90,278.00 L577.34,277.92 L577.77,277.83 L578.20,277.70 L578.65,277.52 L579.08,277.30 L579.52,277.05 L579.95,276.79 L580.38,276.52 L580.82,276.28 L581.25,276.07 L581.70,275.90 L582.13,275.79 L582.56,275.72 L583.00,275.67 L583.44,275.63 L583.88,275.61 L584.32,275.58 L584.76,275.55 L585.20,275.50 L585.64,275.43 L586.09,275.33 L586.54,275.23 L586.98,275.13 L587.43,275.03 L587.86,274.96 L588.29,274.91 L588.70,274.90 L589.04,274.93 L589.37,275.00 L589.69,275.09 L590.00,275.20 L590.32,275.30 L590.63,275.39 L590.96,275.46 L591.30,275.50 L591.70,275.49 L592.11,275.45 L592.53,275.39 L592.96,275.30 L593.39,275.21 L593.83,275.13 L594.26,275.05 L594.70,275.00 L595.15,274.97 L595.61,274.94 L596.07,274.93 L596.54,274.92 L597.00,274.92 L597.47,274.91 L597.94,274.91 L598.40,274.90" class="cv" stroke="#4949b3"/>
<path d="M616.80,242.50 L632.70,242.50 L633.66,242.50 L634.62,242.46 L635.58,242.33 L636.53,242.15 L637.49,241.94 L638.45,241.70 L639.41,241.42 L640.37,241.11 L641.33,240.77 L642.28,240.40 L643.24,240.00 L644.20,239.58 L645.16,239.12 L646.12,238.64 L647.08,238.14 L648.03,237.61 L648.99,237.06 L649.95,236.49 L650.91,235.89 L651.87,235.28 L652.83,234.65 L653.79,234.00 L654.74,233.33 L655.70,232.65 L656.66,231.96 L657.62,231.25 L658.58,230.53 L659.54,229.80 L660.49,229.06 L661.45,228.31 L662.41,227.55 L663.37,226.78 L664.33,226.01 L665.29,225.24 L666.24,224.46 L667.20,223.67 L668.16,222.89 L669.12,222.11 L670.08,221.32 L671.04,220.54 L672.00,219.76 L672.95,218.98 L673.91,218.21 L674.87,217.44 L675.83,216.68 L676.79,215.92 L677.75,215.17 L678.70,214.42 L679.66,213.69 L680.62,212.95 L681.58,212.23 L682.54,211.51 L683.50,210.80 L684.46,210.10 L685.41,209.41 L686.37,208.72 L687.33,208.04 L688.29,207.35 L689.25,206.66 L690.21,205.96 L691.16,205.23 L692.12,204.49 L693.08,203.71 L694.04,202.90 L695.00,202.05 L695.96,201.16 L696.91,200.21 L697.87,199.21 L698.83,198.15 L699.79,197.06 L700.75,195.94 L701.71,194.81 L702.67,193.67 L703.62,192.54 L704.58,191.42 L705.54,190.30 L706.50,189.20 L707.46,188.12 L708.42,187.06 L709.37,186.02 L710.33,185.01 L711.29,184.04 L712.25,183.10 L713.21,182.19 L714.17,181.30 L715.12,180.43 L716.08,179.57 L717.04,178.72 L718.00,177.86" class="cv" stroke="#ff4040"/>
<path d="M616.80,319.50 L642.90,319.50 L643.01,319.43 L643.11,319.35 L643.20,319.24 L643.28,319.13 L643.37,319.00 L643.45,318.87 L643.52,318.73 L643.60,318.60 L643.69,318.45 L643.77,318.30 L643.85,318.15 L643.92,318.00 L644.00,317.83 L644.07,317.64 L644.13,317.43 L644.20,317.20 L644.33,316.60 L644.45,315.86 L644.55,315.02 L644.64,314.11 L644.73,313.16 L644.81,312.18 L644.90,311.22 L645.00,310.30 L645.11,309.33 L645.22,308.35 L645.33,307.35 L645.44,306.35 L645.56,305.35 L645.67,304.35 L645.78,303.37 L645.90,302.40 L646.01,301.51 L646.12,300.62 L646.24,299.74 L646.35,298.87 L646.47,298.01 L646.58,297.16 L646.69,296.32 L646.80,295.50 L646.89,294.79 L646.98,294.10 L647.07,293.43 L647.16,292.77 L647.24,292.10 L647.33,291.42 L647.41,290.73 L647.50,290.00 L647.60,289.11 L647.69,288.20 L647.78,287.26 L647.88,286.31 L647.97,285.34 L648.07,284.36 L648.18,283.38 L648.30,282.40 L648.43,281.26 L648.54,280.00 L648.66,278.68 L648.79,277.38 L648.94,276.16 L649.12,275.10 L649.33,274.25 L649.60,273.70 L649.70,273.58 L649.81,273.48 L649.92,273.40 L650.04,273.34 L650.16,273.30 L650.27,273.28 L650.39,273.28 L650.50,273.30 L650.67,273.40 L650.83,273.58 L651.00,273.82 L651.16,274.10 L651.32,274.42 L651.48,274.75 L651.64,275.09 L651.80,275.40 L652.01,275.79 L652.22,276.21 L652.42,276.65 L652.63,277.11 L652.85,277.57 L653.06,278.02 L653.28,278.47 L653.50,278.90 L653.71,279.31 L653.92,279.71 L654.12,280.12 L654.33,280.52 L654.55,280.92 L654.78,281.30 L655.03,281.66 L655.30,282.00 L655.58,282.31 L655.89,282.59 L656.21,282.86 L656.54,283.12 L656.88,283.37 L657.22,283.61 L657.57,283.86 L657.90,284.10 L658.22,284.33 L658.55,284.56 L658.87,284.78 L659.20,285.00 L659.53,285.22 L659.85,285.44 L660.18,285.67 L660.50,285.90 L660.83,286.16 L661.17,286.43 L661.52,286.71 L661.86,286.99 L662.19,287.27 L662.51,287.54 L662.82,287.78 L663.10,288.00 L663.28,288.14 L663.44,288.29 L663.60,288.43 L663.75,288.57 L663.90,288.69 L664.05,288.79 L664.22,288.86 L664.40,288.90 L664.64,288.89 L664.90,288.84 L665.17,288.74 L665.45,288.60 L665.74,288.45 L666.02,288.30 L666.31,288.14 L666.60,288.00 L666.92,287.85 L667.24,287.70 L667.56,287.54 L667.89,287.37 L668.22,287.20 L668.55,287.03 L668.87,286.86 L669.20,286.70 L669.53,286.54 L669.88,286.38 L670.23,286.23 L670.57,286.07 L670.91,285.91 L671.23,285.75 L671.53,285.58 L671.80,285.40 L671.98,285.26 L672.15,285.13 L672.30,285.00 L672.44,284.86 L672.58,284.71 L672.72,284.56 L672.86,284.39 L673.00,284.20 L673.21,283.89 L673.41,283.53 L673.61,283.14 L673.81,282.73 L674.01,282.31 L674.22,281.89 L674.45,281.49 L674.70,281.10 L674.98,280.69 L675.28,280.26 L675.58,279.83 L675.90,279.41 L676.24,279.01 L676.58,278.65 L676.94,278.34 L677.30,278.10 L677.61,277.95 L677.94,277.85 L678.28,277.78 L678.62,277.73 L678.97,277.71 L679.32,277.70 L679.66,277.70 L680.00,277.70 L680.33,277.71 L680.65,277.74 L680.98,277.79 L681.30,277.85 L681.63,277.92 L681.95,277.98 L682.28,278.04 L682.60,278.10 L682.93,278.16 L683.25,278.24 L683.58,278.32 L683.91,278.40 L684.23,278.47 L684.56,278.51 L684.88,278.53 L685.20,278.50 L685.53,278.42 L685.86,278.29 L686.18,278.12 L686.50,277.94 L686.83,277.74 L687.15,277.54 L687.47,277.36 L687.80,277.20 L688.12,277.06 L688.45,276.90 L688.77,276.75 L689.10,276.60 L689.43,276.47 L689.75,276.37 L690.08,276.31 L690.40,276.30 L690.73,276.35 L691.05,276.47 L691.37,276.63 L691.70,276.82 L692.02,277.02 L692.34,277.21 L692.67,277.38 L693.00,277.50 L693.32,277.58 L693.63,277.65 L693.95,277.70 L694.27,277.73 L694.59,277.76 L694.92,277.78 L695.26,277.79 L695.60,277.80 L696.01,277.80 L696.44,277.80 L696.88,277.79 L697.33,277.77 L697.78,277.73 L698.22,277.68 L698.67,277.60 L699.10,277.50 L699.55,277.37 L700.00,277.20 L700.45,277.01 L700.90,276.80 L701.34,276.58 L701.77,276.35 L702.19,276.12 L702.60,275.90 L702.95,275.68 L703.28,275.43 L703.60,275.16 L703.92,274.90 L704.23,274.66 L704.55,274.45 L704.87,274.29 L705.20,274.20 L705.52,274.20 L705.84,274.26 L706.16,274.37 L706.49,274.51 L706.81,274.67 L707.14,274.81 L707.47,274.93 L707.80,275.00 L708.12,275.03 L708.45,275.04 L708.77,275.04 L709.10,275.02 L709.42,274.99 L709.75,274.96 L710.07,274.93 L710.40,274.90 L710.73,274.87 L711.05,274.84 L711.38,274.81 L711.70,274.77 L712.03,274.73 L712.35,274.69 L712.68,274.64 L713.00,274.60 L713.32,274.55 L713.64,274.49 L713.96,274.43 L714.28,274.36 L714.60,274.30 L714.93,274.25 L715.26,274.22 L715.60,274.20 L716.00,274.21 L716.42,274.24 L716.84,274.28 L717.27,274.34 L717.70,274.41 L718.14,274.48 L718.57,274.54 L719.00,274.60" class="cv" stroke="#ff4040"/>
<path d="M616.80,242.50 L632.70,242.50 L633.66,242.46 L634.62,242.32 L635.58,242.15 L636.53,241.94 L637.49,241.70 L638.45,241.43 L639.41,241.13 L640.37,240.80 L641.33,240.44 L642.28,240.06 L643.24,239.64 L644.20,239.20 L645.16,238.74 L646.12,238.25 L647.08,237.73 L648.03,237.20 L648.99,236.64 L649.95,236.07 L650.91,235.47 L651.87,234.86 L652.83,234.22 L653.79,233.58 L654.74,232.91 L655.70,232.23 L656.66,231.54 L657.62,230.84 L658.58,230.12 L659.54,229.39 L660.49,228.65 L661.45,227.91 L662.41,227.15 L663.37,226.39 L664.33,225.62 L665.29,224.85 L666.24,224.07 L667.20,223.29 L668.16,222.51 L669.12,221.73 L670.08,220.94 L671.04,220.16 L672.00,219.38 L672.95,218.60 L673.91,217.82 L674.87,217.05 L675.83,216.28 L676.79,215.52 L677.75,214.76 L678.70,214.01 L679.66,213.27 L680.62,212.53 L681.58,211.80 L682.54,211.09 L683.50,210.38 L684.46,209.68 L685.41,208.99 L686.37,208.31 L687.33,207.64 L688.29,206.96 L689.25,206.28 L690.21,205.59 L691.16,204.88 L692.12,204.14 L693.08,203.38 L694.04,202.57 L695.00,201.72 L695.96,200.82 L696.91,199.87 L697.87,198.86 L698.83,197.79 L699.79,196.67 L700.75,195.54 L701.71,194.39 L702.67,193.24 L703.62,192.10 L704.58,190.98 L705.54,189.86 L706.50,188.76 L707.46,187.69 L708.42,186.64 L709.37,185.61 L710.33,184.62 L711.29,183.65 L712.25,182.73 L713.21,181.83 L714.17,180.95 L715.12,180.07 L716.08,179.20 L717.04,178.32 L718.00,177.43" class="cv dot" stroke="#ff4040"/>
<path d="M616.80,319.50 L642.90,319.50 L643.02,319.40 L643.12,319.26 L643.21,319.09 L643.29,318.90 L643.37,318.69 L643.45,318.49 L643.52,318.29 L643.60,318.10 L643.68,317.93 L643.76,317.78 L643.84,317.63 L643.91,317.47 L643.99,317.31 L644.06,317.13 L644.13,316.93 L644.20,316.70 L644.33,316.10 L644.45,315.36 L644.55,314.52 L644.64,313.61 L644.73,312.66 L644.81,311.68 L644.90,310.72 L645.00,309.80 L645.11,308.83 L645.22,307.85 L645.33,306.85 L645.44,305.85 L645.56,304.85 L645.67,303.85 L645.78,302.87 L645.90,301.90 L646.01,301.01 L646.12,300.12 L646.24,299.24 L646.35,298.37 L646.47,297.51 L646.58,296.66 L646.69,295.82 L646.80,295.00 L646.89,294.29 L646.98,293.60 L647.07,292.93 L647.16,292.27 L647.24,291.60 L647.33,290.92 L647.41,290.23 L647.50,289.50 L647.60,288.61 L647.69,287.70 L647.78,286.76 L647.88,285.81 L647.97,284.84 L648.07,283.86 L648.18,282.88 L648.30,281.90 L648.43,280.76 L648.54,279.50 L648.66,278.18 L648.79,276.88 L648.94,275.66 L649.12,274.60 L649.33,273.75 L649.60,273.20 L649.70,273.08 L649.81,272.98 L649.92,272.90 L650.04,272.84 L650.16,272.80 L650.27,272.78 L650.39,272.78 L650.50,272.80 L650.67,272.90 L650.83,273.08 L651.00,273.32 L651.16,273.60 L651.32,273.92 L651.48,274.25 L651.64,274.59 L651.80,274.90 L652.01,275.29 L652.22,275.71 L652.42,276.15 L652.63,276.61 L652.85,277.07 L653.06,277.52 L653.28,277.97 L653.50,278.40 L653.71,278.81 L653.92,279.21 L654.12,279.62 L654.33,280.02 L654.55,280.42 L654.78,280.80 L655.03,281.16 L655.30,281.50 L655.58,281.81 L655.89,282.09 L656.21,282.36 L656.54,282.62 L656.88,282.87 L657.22,283.11 L657.57,283.36 L657.90,283.60 L658.22,283.83 L658.55,284.06 L658.87,284.28 L659.20,284.50 L659.53,284.72 L659.85,284.94 L660.18,285.17 L660.50,285.40 L660.83,285.66 L661.17,285.93 L661.52,286.21 L661.86,286.49 L662.19,286.77 L662.51,287.04 L662.82,287.28 L663.10,287.50 L663.28,287.64 L663.44,287.79 L663.60,287.93 L663.75,288.07 L663.90,288.19 L664.05,288.29 L664.22,288.36 L664.40,288.40 L664.64,288.39 L664.90,288.34 L665.17,288.24 L665.45,288.10 L665.74,287.95 L666.02,287.80 L666.31,287.64 L666.60,287.50 L666.92,287.35 L667.24,287.20 L667.56,287.04 L667.89,286.87 L668.22,286.70 L668.55,286.53 L668.87,286.36 L669.20,286.20 L669.53,286.04 L669.88,285.88 L670.23,285.73 L670.57,285.57 L670.91,285.41 L671.23,285.25 L671.53,285.08 L671.80,284.90 L671.98,284.76 L672.15,284.63 L672.30,284.50 L672.44,284.36 L672.58,284.21 L672.72,284.06 L672.86,283.89 L673.00,283.70 L673.21,283.39 L673.41,283.03 L673.61,282.64 L673.81,282.23 L674.01,281.81 L674.22,281.39 L674.45,280.99 L674.70,280.60 L674.98,280.19 L675.28,279.76 L675.58,279.33 L675.90,278.91 L676.24,278.51 L676.58,278.15 L676.94,277.84 L677.30,277.60 L677.61,277.45 L677.94,277.35 L678.28,277.28 L678.62,277.23 L678.97,277.21 L679.32,277.20 L679.66,277.20 L680.00,277.20 L680.33,277.21 L680.65,277.24 L680.98,277.29 L681.30,277.35 L681.63,277.42 L681.95,277.48 L682.28,277.54 L682.60,277.60 L682.93,277.66 L683.25,277.74 L683.58,277.82 L683.91,277.90 L684.23,277.97 L684.56,278.01 L684.88,278.03 L685.20,278.00 L685.53,277.92 L685.86,277.79 L686.18,277.62 L686.50,277.44 L686.83,277.24 L687.15,277.04 L687.47,276.86 L687.80,276.70 L688.12,276.56 L688.45,276.40 L688.77,276.25 L689.10,276.10 L689.43,275.97 L689.75,275.87 L690.08,275.81 L690.40,275.80 L690.73,275.85 L691.05,275.97 L691.37,276.13 L691.70,276.32 L692.02,276.52 L692.34,276.71 L692.67,276.88 L693.00,277.00 L693.32,277.08 L693.63,277.15 L693.95,277.20 L694.27,277.23 L694.59,277.26 L694.92,277.28 L695.26,277.29 L695.60,277.30 L696.01,277.30 L696.44,277.30 L696.88,277.29 L697.33,277.27 L697.78,277.23 L698.22,277.18 L698.67,277.10 L699.10,277.00 L699.55,276.87 L700.00,276.70 L700.45,276.51 L700.90,276.30 L701.34,276.08 L701.77,275.85 L702.19,275.62 L702.60,275.40 L702.95,275.18 L703.28,274.93 L703.60,274.66 L703.92,274.40 L704.23,274.16 L704.55,273.95 L704.87,273.79 L705.20,273.70 L705.52,273.70 L705.84,273.76 L706.16,273.87 L706.49,274.01 L706.81,274.17 L707.14,274.31 L707.47,274.43 L707.80,274.50 L708.12,274.53 L708.45,274.54 L708.77,274.54 L709.10,274.52 L709.42,274.49 L709.75,274.46 L710.07,274.43 L710.40,274.40 L710.73,274.37 L711.05,274.34 L711.38,274.31 L711.70,274.27 L712.03,274.23 L712.35,274.19 L712.68,274.14 L713.00,274.10 L713.32,274.05 L713.64,273.99 L713.96,273.93 L714.28,273.86 L714.60,273.80 L714.93,273.75 L715.26,273.72 L715.60,273.70 L716.00,273.71 L716.42,273.74 L716.84,273.78 L717.27,273.84 L717.70,273.91 L718.14,273.98 L718.57,274.04 L719.00,274.10" class="cv dot" stroke="#ff4040"/>
<line x1="154.2" y1="43.5" x2="154.2" y2="82" class="dv" stroke="#ff4040"/>
<rect x="153.5" y="79.8" width="1.4" height="2.2" fill="#ff4040"/>
<line x1="172.3" y1="28.6" x2="172.3" y2="82" class="dv" stroke="#4949b3"/>
<rect x="171.6" y="79.8" width="1.4" height="2.2" fill="#4949b3"/>
<line x1="130.2" y1="121.1" x2="130.2" y2="158.4" class="dv" stroke="#ff4040"/>
<rect x="129.5" y="156.2" width="1.4" height="2.2" fill="#ff4040"/>
<line x1="135.6" y1="117.16" x2="135.6" y2="158.4" class="dv" stroke="#4949b3"/>
<rect x="134.9" y="156.2" width="1.4" height="2.2" fill="#4949b3"/>
<line x1="275.4" y1="42.5" x2="275.4" y2="82" class="dv" stroke="#ff4040"/>
<rect x="274.7" y="79.8" width="1.4" height="2.2" fill="#ff4040"/>
<line x1="292.4" y1="26" x2="292.4" y2="82" class="dv" stroke="#4949b3"/>
<rect x="291.7" y="79.8" width="1.4" height="2.2" fill="#4949b3"/>
<line x1="249.1" y1="120.7" x2="249.1" y2="158.4" class="dv" stroke="#ff4040"/>
<rect x="248.4" y="156.2" width="1.4" height="2.2" fill="#ff4040"/>
<line x1="254.7" y1="117" x2="254.7" y2="158.4" class="dv" stroke="#4949b3"/>
<rect x="254" y="156.2" width="1.4" height="2.2" fill="#4949b3"/>
<line x1="448.7" y1="37.5" x2="448.7" y2="81.7" class="dv" stroke="#ff4040"/>
<rect x="448" y="79.5" width="1.4" height="2.2" fill="#ff4040"/>
<line x1="459.1" y1="27.8" x2="459.1" y2="81.7" class="dv" stroke="#4949b3"/>
<rect x="458.4" y="79.5" width="1.4" height="2.2" fill="#4949b3"/>
<line x1="420.8" y1="120.95" x2="420.8" y2="158.1" class="dv" stroke="#ff4040"/>
<rect x="420.1" y="155.9" width="1.4" height="2.2" fill="#ff4040"/>
<line x1="424.4" y1="116.52" x2="424.4" y2="158.1" class="dv" stroke="#4949b3"/>
<rect x="423.7" y="155.9" width="1.4" height="2.2" fill="#4949b3"/>
<line x1="568.5" y1="41.5" x2="568.5" y2="81.7" class="dv" stroke="#ff4040"/>
<rect x="567.8" y="79.5" width="1.4" height="2.2" fill="#ff4040"/>
<line x1="586.6" y1="24.6" x2="586.6" y2="81.7" class="dv" stroke="#4949b3"/>
<rect x="585.9" y="79.5" width="1.4" height="2.2" fill="#4949b3"/>
<line x1="542.3" y1="120.9" x2="542.3" y2="158.1" class="dv" stroke="#ff4040"/>
<rect x="541.6" y="155.9" width="1.4" height="2.2" fill="#ff4040"/>
<line x1="548.3" y1="116.42" x2="548.3" y2="158.1" class="dv" stroke="#4949b3"/>
<rect x="547.6" y="155.9" width="1.4" height="2.2" fill="#4949b3"/>
<line x1="696.2" y1="33" x2="696.2" y2="81.7" class="dv" stroke="#ff4040"/>
<rect x="695.5" y="79.5" width="1.4" height="2.2" fill="#ff4040"/>
<line x1="665" y1="120.2" x2="665" y2="158.1" class="dv" stroke="#ff4040"/>
<rect x="664.3" y="155.9" width="1.4" height="2.2" fill="#ff4040"/>
<line x1="91.3" y1="209.2" x2="91.3" y2="251.8" class="dv" stroke="#ff4040"/>
<rect x="90.6" y="249.6" width="1.4" height="2.2" fill="#ff4040"/>
<line x1="94.6" y1="206.3" x2="94.6" y2="251.8" class="dv" stroke="#4949b3"/>
<rect x="93.9" y="249.6" width="1.4" height="2.2" fill="#4949b3"/>
<line x1="62.7" y1="292.84" x2="62.7" y2="328.2" class="dv" stroke="#ff4040"/>
<rect x="62" y="326" width="1.4" height="2.2" fill="#ff4040"/>
<line x1="63.1" y1="286.63" x2="63.1" y2="328.2" class="dv" stroke="#4949b3"/>
<rect x="62.4" y="326" width="1.4" height="2.2" fill="#4949b3"/>
<line x1="220.3" y1="197.8" x2="220.3" y2="251.8" class="dv" stroke="#4949b3"/>
<rect x="219.6" y="249.6" width="1.4" height="2.2" fill="#4949b3"/>
<line x1="183.9" y1="287.46" x2="183.9" y2="328.2" class="dv" stroke="#4949b3"/>
<rect x="183.2" y="326" width="1.4" height="2.2" fill="#4949b3"/>
<line x1="329.9" y1="203" x2="329.9" y2="251.8" class="dv" stroke="#ff4040"/>
<rect x="329.2" y="249.6" width="1.4" height="2.2" fill="#ff4040"/>
<line x1="342.8" y1="189" x2="342.8" y2="251.8" class="dv" stroke="#ff4040"/>
<rect x="342.1" y="249.6" width="1.4" height="2.2" fill="#ff4040"/>
<line x1="298.6" y1="287.07" x2="298.6" y2="328.2" class="dv" stroke="#ff4040"/>
<rect x="297.9" y="326" width="1.4" height="2.2" fill="#ff4040"/>
<line x1="303" y1="290.77" x2="303" y2="328.2" class="dv" stroke="#ff4040"/>
<rect x="302.3" y="326" width="1.4" height="2.2" fill="#ff4040"/>
<line x1="467.1" y1="192.2" x2="467.1" y2="251.1" class="dv" stroke="#4949b3"/>
<rect x="466.4" y="248.9" width="1.4" height="2.2" fill="#4949b3"/>
<line x1="428.3" y1="285.26" x2="428.3" y2="328.2" class="dv" stroke="#4949b3"/>
<rect x="427.6" y="326" width="1.4" height="2.2" fill="#4949b3"/>
<line x1="585.9" y1="195.5" x2="585.9" y2="251.1" class="dv" stroke="#4949b3"/>
<rect x="585.2" y="248.9" width="1.4" height="2.2" fill="#4949b3"/>
<line x1="548.7" y1="285.3" x2="548.7" y2="328.2" class="dv" stroke="#4949b3"/>
<rect x="548" y="326" width="1.4" height="2.2" fill="#4949b3"/>
<line x1="692.4" y1="204.3" x2="692.4" y2="251.1" class="dv" stroke="#ff4040"/>
<rect x="691.7" y="248.9" width="1.4" height="2.2" fill="#ff4040"/>
<line x1="664.3" y1="288.83" x2="664.3" y2="328.2" class="dv" stroke="#ff4040"/>
<rect x="663.6" y="326" width="1.4" height="2.2" fill="#ff4040"/>
<text x="133.4" y="39" textLength="18.3" lengthAdjust="spacingAndGlyphs" class="an" fill="#ff2020" stroke="#ff2020" font-size="6.57">n=2.08</text>
<text x="151.3" y="24.6" textLength="18.1" lengthAdjust="spacingAndGlyphs" class="an" fill="#2f5b94" stroke="#2f5b94" font-size="6.72">n=2.86</text>
<text x="129.2" y="111.1" textLength="10.9" lengthAdjust="spacingAndGlyphs" class="an" fill="#2f5b94" stroke="#2f5b94" font-size="7.16">5.06</text>
<text x="117" y="137.8" textLength="11.3" lengthAdjust="spacingAndGlyphs" class="an" fill="#ff2020" stroke="#ff2020" font-size="7.16">4.46</text>
<text x="254.9" y="39" textLength="17.9" lengthAdjust="spacingAndGlyphs" class="an" fill="#ff2020" stroke="#ff2020" font-size="7.16">n=2.13</text>
<text x="271.4" y="24.3" textLength="17.5" lengthAdjust="spacingAndGlyphs" class="an" fill="#2f5b94" stroke="#2f5b94" font-size="6.72">n=3.01</text>
<text x="247.2" y="111.5" textLength="11.3" lengthAdjust="spacingAndGlyphs" class="an" fill="#2f5b94" stroke="#2f5b94" font-size="6.42">5.13</text>
<text x="236.3" y="136.1" textLength="11.3" lengthAdjust="spacingAndGlyphs" class="an" fill="#ff2020" stroke="#ff2020" font-size="6.57">4.56</text>
<text x="425.9" y="38.2" textLength="17.9" lengthAdjust="spacingAndGlyphs" class="an" fill="#ff2020" stroke="#ff2020" font-size="6.42">n=2.19</text>
<text x="439.9" y="26.3" textLength="18.3" lengthAdjust="spacingAndGlyphs" class="an" fill="#2f5b94" stroke="#2f5b94" font-size="6.57">n=2.74</text>
<text x="418.3" y="111.5" textLength="11.8" lengthAdjust="spacingAndGlyphs" class="an" fill="#2f5b94" stroke="#2f5b94" font-size="6.42">5.00</text>
<text x="406.8" y="129.1" textLength="10.8" lengthAdjust="spacingAndGlyphs" class="an" fill="#ff2020" stroke="#ff2020" font-size="6.42">4.64</text>
<text x="547.6" y="37" textLength="17.9" lengthAdjust="spacingAndGlyphs" class="an" fill="#ff2020" stroke="#ff2020" font-size="6.57">n=2.21</text>
<text x="564.6" y="22.6" textLength="18.1" lengthAdjust="spacingAndGlyphs" class="an" fill="#2f5b94" stroke="#2f5b94" font-size="6.87">n=3.05</text>
<text x="537.5" y="111.5" textLength="10.8" lengthAdjust="spacingAndGlyphs" class="an" fill="#ff2020" stroke="#ff2020" font-size="6.57">4.56</text>
<text x="551.8" y="121.4" textLength="10.8" lengthAdjust="spacingAndGlyphs" class="an" fill="#2f5b94" stroke="#2f5b94" font-size="6.57">5.16</text>
<text x="677.3" y="31" textLength="18.4" lengthAdjust="spacingAndGlyphs" class="an" fill="#ff2020" stroke="#ff2020" font-size="6.72">n=2.52</text>
<text x="659.8" y="113.7" textLength="11.3" lengthAdjust="spacingAndGlyphs" class="an" fill="#ff2020" stroke="#ff2020" font-size="7.01">4.82</text>
<text x="68.2" y="209.9" textLength="17.6" lengthAdjust="spacingAndGlyphs" class="an" fill="#ff2020" stroke="#ff2020" font-size="6.72">n=2.14</text>
<text x="80.5" y="199.6" textLength="17.9" lengthAdjust="spacingAndGlyphs" class="an" fill="#2f5b94" stroke="#2f5b94" font-size="6.57">n=2.32</text>
<text x="56.6" y="282" textLength="11.3" lengthAdjust="spacingAndGlyphs" class="an" fill="#2f5b94" stroke="#2f5b94" font-size="6.57">4.81</text>
<text x="49" y="299" textLength="11.7" lengthAdjust="spacingAndGlyphs" class="an" fill="#ff2020" stroke="#ff2020" font-size="7.16">4.72</text>
<text x="199.6" y="198.4" textLength="17.6" lengthAdjust="spacingAndGlyphs" class="an" fill="#2f5b94" stroke="#2f5b94" font-size="6.87">n=2.77</text>
<text x="177.1" y="281.9" textLength="10.8" lengthAdjust="spacingAndGlyphs" class="an" fill="#2f5b94" stroke="#2f5b94" font-size="7.16">5.06</text>
<text x="321" y="187.8" textLength="17.9" lengthAdjust="spacingAndGlyphs" class="an" fill="#ff2020" stroke="#ff2020" font-size="7.61">n=3.11</text>
<text x="308.6" y="201.4" textLength="17.9" lengthAdjust="spacingAndGlyphs" class="an" fill="#ff2020" stroke="#ff2020" font-size="7.46">n=2.56</text>
<text x="283.3" y="299" textLength="11.7" lengthAdjust="spacingAndGlyphs" class="an" fill="#ff2020" stroke="#ff2020" font-size="6.57">4.79</text>
<text x="307.6" y="297.2" textLength="11.2" lengthAdjust="spacingAndGlyphs" class="an" fill="#ff2020" stroke="#ff2020" font-size="6.57">5.21</text>
<text x="444.4" y="192.6" textLength="18" lengthAdjust="spacingAndGlyphs" class="an" fill="#2f5b94" stroke="#2f5b94" font-size="6.42">n=3.14</text>
<text x="422.8" y="279.9" textLength="10.9" lengthAdjust="spacingAndGlyphs" class="an" fill="#2f5b94" stroke="#2f5b94" font-size="6.42">5.17</text>
<text x="564.2" y="193" textLength="17.9" lengthAdjust="spacingAndGlyphs" class="an" fill="#2f5b94" stroke="#2f5b94" font-size="6.72">n=2.95</text>
<text x="541.6" y="279.9" textLength="10.9" lengthAdjust="spacingAndGlyphs" class="an" fill="#2f5b94" stroke="#2f5b94" font-size="6.42">5.09</text>
<text x="670.4" y="201.4" textLength="17.8" lengthAdjust="spacingAndGlyphs" class="an" fill="#ff2020" stroke="#ff2020" font-size="7.46">n=2.43</text>
<text x="694.9" y="209.9" textLength="17.9" lengthAdjust="spacingAndGlyphs" class="an" fill="#ff2020" stroke="#ff2020" font-size="7.31">n=2.28</text>
<text x="659" y="280.7" textLength="11.3" lengthAdjust="spacingAndGlyphs" class="an" fill="#ff2020" stroke="#ff2020" font-size="6.57">4.65</text>
<line x1="90.4" y1="14.6" x2="100.9" y2="14.6" class="lg" stroke="#ff4040"/>
<text x="102.2" y="16" class="lt">Pore</text>
<line x1="90.4" y1="20.5" x2="100.9" y2="20.5" class="lg" stroke="#4949b3"/>
<text x="102.2" y="21.9" class="lt">Non-Pore</text>
<line x1="209.4" y1="14.5" x2="219.5" y2="14.5" class="lg" stroke="#ff4040"/>
<text x="220.8" y="15.9" class="lt">Pore</text>
<line x1="209.4" y1="20.4" x2="219.5" y2="20.4" class="lg" stroke="#4949b3"/>
<text x="220.8" y="21.8" class="lt">Non-Pore</text>
<line x1="379.4" y1="14.4" x2="390.1" y2="14.4" class="lg" stroke="#ff4040"/>
<text x="391.4" y="15.8" class="lt">Pore</text>
<line x1="379.4" y1="20.4" x2="390.1" y2="20.4" class="lg" stroke="#4949b3"/>
<text x="391.4" y="21.8" class="lt">Non-Pore</text>
<line x1="502.4" y1="14.6" x2="512.7" y2="14.6" class="lg" stroke="#ff4040"/>
<text x="514" y="16" class="lt">Pore</text>
<line x1="502.4" y1="20.5" x2="512.7" y2="20.5" class="lg" stroke="#4949b3"/>
<text x="514" y="21.9" class="lt">Non-Pore</text>
<line x1="621.9" y1="14.1" x2="633" y2="14.1" class="lg" stroke="#ff4040"/>
<text x="634" y="15.6" class="lt">ζ<tspan class="sub2" dy="1">s</tspan></text>
<line x1="20.4" y1="184.4" x2="30.7" y2="184.4" class="lg" stroke="#ff4040"/>
<text x="32" y="185.8" class="lt">Pore</text>
<line x1="20.4" y1="190.2" x2="30.7" y2="190.2" class="lg" stroke="#4949b3"/>
<text x="32" y="191.6" class="lt">Non-Pore</text>
<line x1="138.4" y1="183.8" x2="148.7" y2="183.8" class="lg" stroke="#4949b3"/>
<text x="150" y="185.2" class="lt">Non-Pore</text>
<line x1="256" y1="183.8" x2="266.7" y2="183.8" class="lg" stroke="#ff4040"/>
<text x="267.7" y="185.3" class="lt">ζ<tspan class="sub2" dy="1">s</tspan></text>
<line x1="256" y1="190.9" x2="266.7" y2="190.9" class="lg dot" stroke="#ff4040"/>
<text x="267.7" y="192.4" class="lt">ζ<tspan class="sub2" dy="1">n</tspan></text>
<line x1="382.4" y1="184.9" x2="392.7" y2="184.9" class="lg" stroke="#4949b3"/>
<text x="394" y="186.3" class="lt">Non-Pore</text>
<line x1="503.4" y1="184.4" x2="513.7" y2="184.4" class="lg" stroke="#4949b3"/>
<text x="515" y="185.8" class="lt">Non-Pore</text>
<line x1="622.2" y1="182.3" x2="633.1" y2="182.3" class="lg" stroke="#ff4040"/>
<text x="634.1" y="183.8" class="lt">ζ<tspan class="sub2" dy="1">s</tspan></text>
<line x1="622.2" y1="189.6" x2="633.1" y2="189.6" class="lg dot" stroke="#ff4040"/>
<text x="634.1" y="191.1" class="lt">ζ<tspan class="sub2" dy="1">n</tspan></text>
</svg>
</body></html>
